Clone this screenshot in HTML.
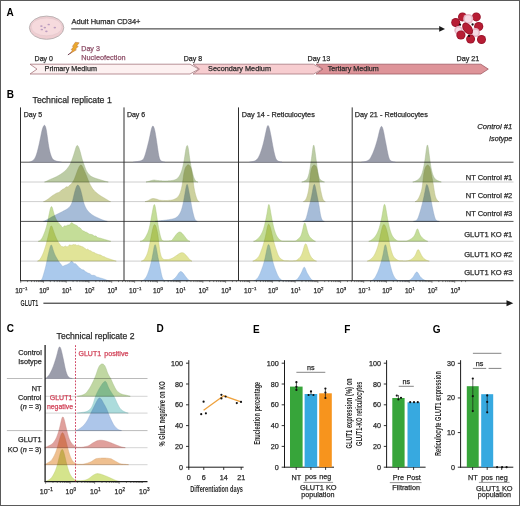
<!DOCTYPE html><html><head><meta charset="utf-8"><style>html,body{margin:0;padding:0;background:#fff;width:520px;height:506px;overflow:hidden;}svg{display:block;}text{font-family:"Liberation Sans", sans-serif;}</style></head><body>
<svg width="520" height="506" viewBox="0 0 520 506">
<rect x="0" y="0" width="520" height="506" fill="#fff"/>
<text x="6.5" y="15.6" font-size="10" font-weight="bold" fill="#000">A</text>
<ellipse cx="46.6" cy="27.7" rx="17.2" ry="11.6" fill="#efcdd1" stroke="#bcb4b5" stroke-width="1.0"/>
<ellipse cx="46.6" cy="26.9" rx="15.4" ry="8.9" fill="#f6dadd" stroke="#dcc3c6" stroke-width="0.45"/>
<ellipse cx="41.4" cy="26.1" rx="1.25" ry="0.85" fill="#bb9cc0"/>
<ellipse cx="48.7" cy="24.5" rx="1.25" ry="0.85" fill="#bb9cc0"/>
<ellipse cx="44.8" cy="27.6" rx="1.25" ry="0.85" fill="#bb9cc0"/>
<ellipse cx="41.8" cy="29.5" rx="1.25" ry="0.85" fill="#bb9cc0"/>
<ellipse cx="46.4" cy="31.3" rx="1.25" ry="0.85" fill="#bb9cc0"/>
<ellipse cx="54.8" cy="27.6" rx="1.25" ry="0.85" fill="#bb9cc0"/>
<text x="71.5" y="24.4" font-size="7.5" fill="#2a2a2a" stroke="#2a2a2a" stroke-width="0.25">Adult Human CD34+</text>
<line x1="71.2" y1="28.9" x2="440" y2="28.9" stroke="#2a2a2a" stroke-width="1"/>
<path d="M439.2,26.1 L445,28.9 L439.2,31.7 Z" fill="#1a1a1a"/>
<circle cx="455.7" cy="22.5" r="4.5" fill="#98122a"/>
<circle cx="455.7" cy="22.5" r="3.60" fill="#b71d34"/>
<circle cx="462.5" cy="16.9" r="4.5" fill="#98122a"/>
<circle cx="462.5" cy="16.9" r="3.60" fill="#b71d34"/>
<circle cx="476.3" cy="16.9" r="4.5" fill="#98122a"/>
<circle cx="476.3" cy="16.9" r="3.60" fill="#b71d34"/>
<circle cx="468.2" cy="18.9" r="5.0" fill="#e8b6c6"/>
<circle cx="468.2" cy="18.9" r="3.40" fill="#f5d9e3"/>
<circle cx="478.7" cy="26.6" r="4.6" fill="#98122a"/>
<circle cx="478.7" cy="26.6" r="3.70" fill="#b71d34"/>
<circle cx="458.5" cy="30.2" r="4.2" fill="#e8b6c6"/>
<circle cx="458.5" cy="30.2" r="2.60" fill="#f5d9e3"/>
<circle cx="475.5" cy="32.6" r="4.5" fill="#e8b6c6"/>
<circle cx="475.5" cy="32.6" r="2.90" fill="#f5d9e3"/>
<ellipse cx="467.6" cy="28.6" rx="6.8" ry="4.4" transform="rotate(52 467.6 28.6)" fill="#98122a"/>
<ellipse cx="467.6" cy="28.6" rx="5.8" ry="3.5" transform="rotate(52 467.6 28.6)" fill="#b71d34"/>
<circle cx="460.9" cy="35.0" r="4.6" fill="#98122a"/>
<circle cx="460.9" cy="35.0" r="3.70" fill="#b71d34"/>
<circle cx="470.6" cy="39.1" r="4.5" fill="#98122a"/>
<circle cx="470.6" cy="39.1" r="3.60" fill="#b71d34"/>
<circle cx="481.5" cy="39.5" r="4.5" fill="#98122a"/>
<circle cx="481.5" cy="39.5" r="3.60" fill="#b71d34"/>
<circle cx="460" cy="24.7" r="1.15" fill="#1a0a10"/>
<circle cx="472.6" cy="24.5" r="1.15" fill="#1a0a10"/>
<circle cx="469" cy="35.9" r="1.15" fill="#1a0a10"/>
<text x="34.6" y="60.8" font-size="7" fill="#2a2a2a" stroke="#2a2a2a" stroke-width="0.25">Day 0</text>
<text x="183.8" y="60.8" font-size="7" fill="#2a2a2a" stroke="#2a2a2a" stroke-width="0.25">Day 8</text>
<text x="307.6" y="60.8" font-size="7.2" fill="#2a2a2a" stroke="#2a2a2a" stroke-width="0.25">Day 13</text>
<text x="456.5" y="60.8" font-size="7.2" fill="#2a2a2a" stroke="#2a2a2a" stroke-width="0.25">Day 21</text>
<line x1="71.8" y1="52.2" x2="67.9" y2="54.9" stroke="#6e3f50" stroke-width="1"/>
<path d="M75.4,42.2 L79.2,42.8 L76.6,46.0 L78.2,46.4 L75.0,49.6 L76.4,49.8 L70.4,53.4 L72.6,50.0 L71.2,49.6 L73.6,46.8 L72.4,46.4 Z" fill="#eaa82c" stroke="#b8652e" stroke-width="0.45"/>
<text x="81.3" y="51.2" font-size="7.1" fill="#8e4f68" stroke="#8e4f68" stroke-width="0.25">Day 3</text>
<text x="81.3" y="59.6" font-size="7.3" fill="#8e4f68" stroke="#8e4f68" stroke-width="0.25">Nucleofection</text>
<path d="M30,64.2 L190,64.2 L198.8,69.1 L190,74.0 L30,74.0 L37,69.1 Z" fill="#fdf1f1" stroke="#a7777d" stroke-width="0.8"/>
<path d="M193,64.2 L313.5,64.2 L322.3,69.1 L313.5,74.0 L193,74.0 L199.5,69.1 Z" fill="#f7cdd0" stroke="#a7777d" stroke-width="0.8"/>
<path d="M316,64.2 L480.8,64.2 L488.3,69.1 L480.8,74.0 L316,74.0 L323,69.1 Z" fill="#de9499" stroke="#a05a63" stroke-width="0.8"/>
<text x="44.6" y="71.4" font-size="7.2" fill="#2a2a2a" stroke="#2a2a2a" stroke-width="0.25">Primary Medium</text>
<text x="208.1" y="71.4" font-size="7.3" fill="#2a2a2a" stroke="#2a2a2a" stroke-width="0.25">Secondary Medium</text>
<text x="327.7" y="71.4" font-size="7.2" fill="#2a2a2a" stroke="#2a2a2a" stroke-width="0.25">Tertiary Medium</text>
<text x="6.7" y="97.8" font-size="10" font-weight="bold" fill="#000">B</text>
<text x="32.5" y="102.5" font-size="8.75" fill="#2a2a2a" stroke="#2a2a2a" stroke-width="0.25">Technical replicate 1</text>
<line x1="20.5" y1="162.2" x2="513.5" y2="162.2" stroke="#4a4a4a" stroke-width="0.95"/>
<line x1="20.5" y1="182.0" x2="513.5" y2="182.0" stroke="#c2c2c2" stroke-width="0.8"/>
<line x1="20.5" y1="201.6" x2="513.5" y2="201.6" stroke="#c2c2c2" stroke-width="0.8"/>
<line x1="20.5" y1="221.4" x2="513.5" y2="221.4" stroke="#4a4a4a" stroke-width="0.95"/>
<line x1="20.5" y1="241.3" x2="513.5" y2="241.3" stroke="#c2c2c2" stroke-width="0.8"/>
<line x1="20.5" y1="261.1" x2="513.5" y2="261.1" stroke="#c2c2c2" stroke-width="0.8"/>
<path d="M29.50,162.20 L29.50,162.17 L29.75,162.13 L30.00,162.08 L30.25,162.00 L30.50,161.90 L30.75,161.78 L31.00,161.65 L31.25,161.51 L31.50,161.36 L31.75,161.22 L32.00,161.06 L32.25,160.91 L32.50,160.74 L32.75,160.57 L33.00,160.39 L33.25,160.19 L33.50,159.98 L33.75,159.74 L34.00,159.47 L34.25,159.17 L34.50,158.82 L34.75,158.42 L35.00,157.98 L35.25,157.49 L35.50,156.96 L35.75,156.38 L36.00,155.76 L36.25,155.09 L36.50,154.38 L36.75,153.62 L37.00,152.80 L37.25,151.93 L37.50,151.02 L37.75,150.07 L38.00,149.08 L38.25,148.06 L38.50,147.02 L38.75,145.94 L39.00,144.84 L39.25,143.71 L39.50,142.55 L39.75,141.36 L40.00,140.15 L40.25,138.91 L40.50,137.66 L40.75,136.39 L41.00,135.13 L41.25,133.88 L41.50,132.69 L41.75,131.57 L42.00,130.54 L42.25,129.60 L42.50,128.77 L42.75,128.02 L43.00,127.36 L43.25,126.77 L43.50,126.27 L43.75,125.86 L44.00,125.56 L44.25,125.37 L44.50,125.32 L44.75,125.43 L45.00,125.71 L45.25,126.16 L45.50,126.78 L45.75,127.59 L46.00,128.57 L46.25,129.76 L46.50,131.14 L46.75,132.71 L47.00,134.43 L47.25,136.25 L47.50,138.12 L47.75,139.97 L48.00,141.77 L48.25,143.47 L48.50,145.07 L48.75,146.54 L49.00,147.89 L49.25,149.13 L49.50,150.28 L49.75,151.33 L50.00,152.30 L50.25,153.20 L50.50,154.03 L50.75,154.80 L51.00,155.52 L51.25,156.18 L51.50,156.79 L51.75,157.36 L52.00,157.87 L52.25,158.32 L52.50,158.71 L52.75,159.04 L53.00,159.31 L53.25,159.54 L53.50,159.74 L53.75,159.91 L54.00,160.06 L54.25,160.20 L54.50,160.34 L54.75,160.46 L55.00,160.57 L55.25,160.68 L55.50,160.78 L55.75,160.87 L56.00,160.95 L56.25,161.04 L56.50,161.11 L56.75,161.19 L57.00,161.26 L57.25,161.32 L57.50,161.39 L57.75,161.45 L58.00,161.51 L58.25,161.57 L58.50,161.63 L58.75,161.69 L59.00,161.74 L59.25,161.79 L59.50,161.84 L59.75,161.89 L60.00,161.94 L60.25,161.98 L60.50,162.02 L60.75,162.06 L61.00,162.09 L61.25,162.12 L61.50,162.15 L61.50,162.20 Z" fill="#9b9eab" stroke="#85879a" stroke-width="0.45"/>
<path d="M44.50,182.00 L44.50,181.97 L44.75,181.93 L45.00,181.88 L45.25,181.80 L45.50,181.71 L45.75,181.59 L46.00,181.47 L46.25,181.35 L46.50,181.22 L46.75,181.09 L47.00,180.97 L47.25,180.84 L47.50,180.71 L47.75,180.59 L48.00,180.46 L48.25,180.34 L48.50,180.22 L48.75,180.10 L49.00,179.98 L49.25,179.86 L49.50,179.74 L49.75,179.63 L50.00,179.51 L50.25,179.40 L50.50,179.29 L50.75,179.18 L51.00,179.07 L51.25,178.96 L51.50,178.86 L51.75,178.75 L52.00,178.65 L52.25,178.54 L52.50,178.44 L52.75,178.33 L53.00,178.23 L53.25,178.12 L53.50,178.01 L53.75,177.91 L54.00,177.80 L54.25,177.69 L54.50,177.58 L54.75,177.47 L55.00,177.35 L55.25,177.24 L55.50,177.12 L55.75,177.00 L56.00,176.88 L56.25,176.76 L56.50,176.63 L56.75,176.51 L57.00,176.38 L57.25,176.24 L57.50,176.11 L57.75,175.97 L58.00,175.83 L58.25,175.69 L58.50,175.55 L58.75,175.41 L59.00,175.27 L59.25,175.12 L59.50,174.97 L59.75,174.82 L60.00,174.67 L60.25,174.51 L60.50,174.36 L60.75,174.20 L61.00,174.04 L61.25,173.87 L61.50,173.70 L61.75,173.53 L62.00,173.36 L62.25,173.18 L62.50,173.00 L62.75,172.81 L63.00,172.62 L63.25,172.43 L63.50,172.23 L63.75,172.03 L64.00,171.82 L64.25,171.61 L64.50,171.39 L64.75,171.17 L65.00,170.94 L65.25,170.71 L65.50,170.47 L65.75,170.22 L66.00,169.96 L66.25,169.70 L66.50,169.43 L66.75,169.15 L67.00,168.86 L67.25,168.56 L67.50,168.25 L67.75,167.93 L68.00,167.59 L68.25,167.25 L68.50,166.90 L68.75,166.53 L69.00,166.16 L69.25,165.76 L69.50,165.36 L69.75,164.93 L70.00,164.47 L70.25,163.99 L70.50,163.48 L70.75,162.93 L71.00,162.36 L71.25,161.75 L71.50,161.12 L71.75,160.46 L72.00,159.80 L72.25,159.12 L72.50,158.42 L72.75,157.72 L73.00,157.00 L73.25,156.27 L73.50,155.53 L73.75,154.76 L74.00,153.98 L74.25,153.18 L74.50,152.36 L74.75,151.51 L75.00,150.64 L75.25,149.77 L75.50,148.92 L75.75,148.11 L76.00,147.38 L76.25,146.74 L76.50,146.22 L76.75,145.84 L77.00,145.60 L77.25,145.50 L77.50,145.56 L77.75,145.74 L78.00,146.04 L78.25,146.43 L78.50,146.92 L78.75,147.48 L79.00,148.11 L79.25,148.81 L79.50,149.57 L79.75,150.37 L80.00,151.22 L80.25,152.11 L80.50,153.04 L80.75,154.00 L81.00,154.98 L81.25,155.95 L81.50,156.90 L81.75,157.82 L82.00,158.69 L82.25,159.52 L82.50,160.30 L82.75,161.05 L83.00,161.78 L83.25,162.49 L83.50,163.19 L83.75,163.89 L84.00,164.59 L84.25,165.29 L84.50,166.00 L84.75,166.70 L85.00,167.39 L85.25,168.07 L85.50,168.72 L85.75,169.34 L86.00,169.91 L86.25,170.44 L86.50,170.93 L86.75,171.38 L87.00,171.79 L87.25,172.19 L87.50,172.56 L87.75,172.91 L88.00,173.25 L88.25,173.58 L88.50,173.89 L88.75,174.18 L89.00,174.47 L89.25,174.73 L89.50,174.99 L89.75,175.22 L90.00,175.45 L90.25,175.65 L90.50,175.85 L90.75,176.02 L91.00,176.19 L91.25,176.35 L91.50,176.50 L91.75,176.64 L92.00,176.77 L92.25,176.90 L92.50,177.03 L92.75,177.15 L93.00,177.27 L93.25,177.38 L93.50,177.50 L93.75,177.60 L94.00,177.71 L94.25,177.81 L94.50,177.91 L94.75,178.00 L95.00,178.09 L95.25,178.18 L95.50,178.27 L95.75,178.36 L96.00,178.44 L96.25,178.52 L96.50,178.60 L96.75,178.68 L97.00,178.76 L97.25,178.84 L97.50,178.92 L97.75,178.99 L98.00,179.06 L98.25,179.14 L98.50,179.21 L98.75,179.29 L99.00,179.36 L99.25,179.44 L99.50,179.51 L99.75,179.59 L100.00,179.66 L100.25,179.74 L100.50,179.82 L100.75,179.89 L101.00,179.97 L101.25,180.05 L101.50,180.13 L101.75,180.21 L102.00,180.29 L102.25,180.37 L102.50,180.45 L102.75,180.52 L103.00,180.60 L103.25,180.68 L103.50,180.75 L103.75,180.83 L104.00,180.90 L104.25,180.97 L104.50,181.05 L104.75,181.12 L105.00,181.19 L105.25,181.26 L105.50,181.33 L105.75,181.40 L106.00,181.47 L106.25,181.54 L106.50,181.60 L106.75,181.67 L107.00,181.74 L107.25,181.80 L107.50,181.85 L107.75,181.90 L108.00,181.94 L108.25,181.97 L108.25,182.00 Z" fill="#bccca5" stroke="#9fb288" stroke-width="0.45" style="mix-blend-mode:multiply"/>
<path d="M43.50,201.60 L43.50,201.56 L43.75,201.52 L44.00,201.46 L44.25,201.38 L44.50,201.27 L44.75,201.15 L45.00,201.01 L45.25,200.87 L45.50,200.72 L45.75,200.57 L46.00,200.41 L46.25,200.26 L46.50,200.10 L46.75,199.94 L47.00,199.77 L47.25,199.61 L47.50,199.44 L47.75,199.27 L48.00,199.09 L48.25,198.91 L48.50,198.73 L48.75,198.54 L49.00,198.35 L49.25,198.15 L49.50,197.96 L49.75,197.76 L50.00,197.56 L50.25,197.36 L50.50,197.16 L50.75,196.96 L51.00,196.76 L51.25,196.57 L51.50,196.37 L51.75,196.18 L52.00,196.00 L52.25,195.81 L52.50,195.63 L52.75,195.46 L53.00,195.29 L53.25,195.13 L53.50,194.97 L53.75,194.82 L54.00,194.67 L54.25,194.53 L54.50,194.39 L54.75,194.26 L55.00,194.11 L55.25,193.96 L55.50,193.79 L55.75,193.62 L56.00,193.45 L56.25,193.30 L56.50,193.18 L56.75,193.07 L57.00,192.97 L57.25,192.88 L57.50,192.80 L57.75,192.72 L58.00,192.65 L58.25,192.57 L58.50,192.49 L58.75,192.40 L59.00,192.29 L59.25,192.16 L59.50,192.00 L59.75,191.81 L60.00,191.59 L60.25,191.36 L60.50,191.11 L60.75,190.86 L61.00,190.61 L61.25,190.36 L61.50,190.12 L61.75,189.89 L62.00,189.68 L62.25,189.51 L62.50,189.36 L62.75,189.25 L63.00,189.15 L63.25,189.05 L63.50,188.94 L63.75,188.81 L64.00,188.67 L64.25,188.51 L64.50,188.33 L64.75,188.13 L65.00,187.91 L65.25,187.67 L65.50,187.43 L65.75,187.21 L66.00,187.02 L66.25,186.88 L66.50,186.80 L66.75,186.77 L67.00,186.80 L67.25,186.86 L67.50,186.91 L67.75,186.92 L68.00,186.87 L68.25,186.74 L68.50,186.53 L68.75,186.25 L69.00,185.93 L69.25,185.61 L69.50,185.32 L69.75,185.08 L70.00,184.90 L70.25,184.75 L70.50,184.60 L70.75,184.42 L71.00,184.20 L71.25,183.92 L71.50,183.61 L71.75,183.27 L72.00,182.92 L72.25,182.58 L72.50,182.23 L72.75,181.89 L73.00,181.53 L73.25,181.15 L73.50,180.75 L73.75,180.31 L74.00,179.83 L74.25,179.30 L74.50,178.72 L74.75,178.09 L75.00,177.44 L75.25,176.77 L75.50,176.10 L75.75,175.42 L76.00,174.74 L76.25,174.05 L76.50,173.35 L76.75,172.65 L77.00,171.96 L77.25,171.27 L77.50,170.61 L77.75,169.96 L78.00,169.34 L78.25,168.74 L78.50,168.16 L78.75,167.61 L79.00,167.09 L79.25,166.62 L79.50,166.20 L79.75,165.84 L80.00,165.53 L80.25,165.28 L80.50,165.11 L80.75,165.02 L81.00,165.01 L81.25,165.10 L81.50,165.27 L81.75,165.52 L82.00,165.84 L82.25,166.22 L82.50,166.66 L82.75,167.15 L83.00,167.69 L83.25,168.25 L83.50,168.83 L83.75,169.41 L84.00,170.00 L84.25,170.58 L84.50,171.16 L84.75,171.73 L85.00,172.31 L85.25,172.88 L85.50,173.46 L85.75,174.05 L86.00,174.65 L86.25,175.25 L86.50,175.87 L86.75,176.49 L87.00,177.13 L87.25,177.78 L87.50,178.43 L87.75,179.08 L88.00,179.73 L88.25,180.36 L88.50,180.97 L88.75,181.56 L89.00,182.13 L89.25,182.68 L89.50,183.21 L89.75,183.72 L90.00,184.22 L90.25,184.70 L90.50,185.17 L90.75,185.64 L91.00,186.09 L91.25,186.53 L91.50,186.95 L91.75,187.36 L92.00,187.76 L92.25,188.14 L92.50,188.50 L92.75,188.85 L93.00,189.18 L93.25,189.50 L93.50,189.80 L93.75,190.09 L94.00,190.37 L94.25,190.64 L94.50,190.90 L94.75,191.16 L95.00,191.40 L95.25,191.65 L95.50,191.88 L95.75,192.11 L96.00,192.33 L96.25,192.55 L96.50,192.76 L96.75,192.97 L97.00,193.18 L97.25,193.38 L97.50,193.57 L97.75,193.77 L98.00,193.96 L98.25,194.15 L98.50,194.34 L98.75,194.52 L99.00,194.71 L99.25,194.89 L99.50,195.07 L99.75,195.25 L100.00,195.42 L100.25,195.59 L100.50,195.76 L100.75,195.93 L101.00,196.09 L101.25,196.25 L101.50,196.41 L101.75,196.57 L102.00,196.72 L102.25,196.87 L102.50,197.02 L102.75,197.17 L103.00,197.32 L103.25,197.46 L103.50,197.61 L103.75,197.75 L104.00,197.90 L104.25,198.04 L104.50,198.19 L104.75,198.34 L105.00,198.48 L105.25,198.63 L105.50,198.78 L105.75,198.93 L106.00,199.08 L106.25,199.23 L106.50,199.38 L106.75,199.54 L107.00,199.70 L107.25,199.85 L107.50,200.01 L107.75,200.17 L108.00,200.33 L108.25,200.48 L108.50,200.64 L108.75,200.80 L109.00,200.95 L109.25,201.10 L109.50,201.24 L109.75,201.36 L110.00,201.45 L110.25,201.52 L110.50,201.56 L110.50,201.60 Z" fill="#cdd19e" stroke="#b3b884" stroke-width="0.45" style="mix-blend-mode:multiply"/>
<path d="M43.50,221.40 L43.50,221.36 L43.75,221.33 L44.00,221.27 L44.25,221.19 L44.50,221.09 L44.75,220.97 L45.00,220.84 L45.25,220.70 L45.50,220.56 L45.75,220.42 L46.00,220.28 L46.25,220.14 L46.50,220.00 L46.75,219.86 L47.00,219.72 L47.25,219.58 L47.50,219.43 L47.75,219.29 L48.00,219.15 L48.25,219.00 L48.50,218.85 L48.75,218.71 L49.00,218.56 L49.25,218.41 L49.50,218.27 L49.75,218.12 L50.00,217.97 L50.25,217.82 L50.50,217.68 L50.75,217.53 L51.00,217.39 L51.25,217.24 L51.50,217.10 L51.75,216.96 L52.00,216.82 L52.25,216.69 L52.50,216.55 L52.75,216.42 L53.00,216.29 L53.25,216.16 L53.50,216.03 L53.75,215.90 L54.00,215.78 L54.25,215.65 L54.50,215.53 L54.75,215.41 L55.00,215.28 L55.25,215.16 L55.50,215.04 L55.75,214.92 L56.00,214.80 L56.25,214.68 L56.50,214.55 L56.75,214.43 L57.00,214.31 L57.25,214.19 L57.50,214.06 L57.75,213.94 L58.00,213.81 L58.25,213.69 L58.50,213.56 L58.75,213.44 L59.00,213.32 L59.25,213.19 L59.50,213.07 L59.75,212.94 L60.00,212.82 L60.25,212.69 L60.50,212.57 L60.75,212.44 L61.00,212.31 L61.25,212.19 L61.50,212.06 L61.75,211.93 L62.00,211.80 L62.25,211.66 L62.50,211.53 L62.75,211.40 L63.00,211.26 L63.25,211.12 L63.50,210.99 L63.75,210.85 L64.00,210.71 L64.25,210.58 L64.50,210.45 L64.75,210.31 L65.00,210.18 L65.25,210.05 L65.50,209.91 L65.75,209.78 L66.00,209.64 L66.25,209.50 L66.50,209.35 L66.75,209.20 L67.00,209.05 L67.25,208.88 L67.50,208.71 L67.75,208.54 L68.00,208.35 L68.25,208.15 L68.50,207.95 L68.75,207.73 L69.00,207.49 L69.25,207.24 L69.50,206.96 L69.75,206.67 L70.00,206.35 L70.25,206.00 L70.50,205.63 L70.75,205.22 L71.00,204.78 L71.25,204.31 L71.50,203.79 L71.75,203.22 L72.00,202.58 L72.25,201.86 L72.50,201.06 L72.75,200.17 L73.00,199.20 L73.25,198.19 L73.50,197.14 L73.75,196.09 L74.00,195.04 L74.25,194.01 L74.50,192.99 L74.75,192.01 L75.00,191.07 L75.25,190.17 L75.50,189.32 L75.75,188.52 L76.00,187.78 L76.25,187.10 L76.50,186.51 L76.75,186.00 L77.00,185.58 L77.25,185.27 L77.50,185.08 L77.75,185.00 L78.00,185.04 L78.25,185.19 L78.50,185.43 L78.75,185.75 L79.00,186.14 L79.25,186.59 L79.50,187.11 L79.75,187.68 L80.00,188.31 L80.25,188.99 L80.50,189.74 L80.75,190.56 L81.00,191.43 L81.25,192.38 L81.50,193.38 L81.75,194.43 L82.00,195.52 L82.25,196.63 L82.50,197.76 L82.75,198.88 L83.00,199.97 L83.25,200.99 L83.50,201.94 L83.75,202.81 L84.00,203.60 L84.25,204.32 L84.50,204.99 L84.75,205.62 L85.00,206.21 L85.25,206.76 L85.50,207.28 L85.75,207.77 L86.00,208.23 L86.25,208.66 L86.50,209.06 L86.75,209.44 L87.00,209.79 L87.25,210.13 L87.50,210.46 L87.75,210.77 L88.00,211.07 L88.25,211.36 L88.50,211.63 L88.75,211.90 L89.00,212.16 L89.25,212.41 L89.50,212.66 L89.75,212.89 L90.00,213.12 L90.25,213.34 L90.50,213.55 L90.75,213.76 L91.00,213.96 L91.25,214.15 L91.50,214.34 L91.75,214.53 L92.00,214.71 L92.25,214.88 L92.50,215.05 L92.75,215.22 L93.00,215.38 L93.25,215.54 L93.50,215.69 L93.75,215.84 L94.00,215.99 L94.25,216.13 L94.50,216.27 L94.75,216.41 L95.00,216.54 L95.25,216.67 L95.50,216.80 L95.75,216.92 L96.00,217.05 L96.25,217.17 L96.50,217.28 L96.75,217.40 L97.00,217.52 L97.25,217.63 L97.50,217.74 L97.75,217.86 L98.00,217.97 L98.25,218.08 L98.50,218.19 L98.75,218.30 L99.00,218.41 L99.25,218.52 L99.50,218.63 L99.75,218.73 L100.00,218.84 L100.25,218.95 L100.50,219.06 L100.75,219.16 L101.00,219.27 L101.25,219.37 L101.50,219.48 L101.75,219.58 L102.00,219.68 L102.25,219.78 L102.50,219.88 L102.75,219.97 L103.00,220.07 L103.25,220.16 L103.50,220.26 L103.75,220.35 L104.00,220.44 L104.25,220.53 L104.50,220.62 L104.75,220.70 L105.00,220.79 L105.25,220.87 L105.50,220.95 L105.75,221.03 L106.00,221.10 L106.25,221.17 L106.50,221.24 L106.75,221.29 L107.00,221.33 L107.25,221.36 L107.25,221.40 Z" fill="#a6bcd8" stroke="#8ea3c0" stroke-width="0.45" style="mix-blend-mode:multiply"/>
<path d="M38.25,241.30 L38.25,241.24 L38.50,241.20 L38.75,241.15 L39.00,241.08 L39.25,240.99 L39.50,240.87 L39.75,240.74 L40.00,240.57 L40.25,240.38 L40.50,240.15 L40.75,239.90 L41.00,239.62 L41.25,239.32 L41.50,238.98 L41.75,238.62 L42.00,238.21 L42.25,237.77 L42.50,237.29 L42.75,236.78 L43.00,236.24 L43.25,235.68 L43.50,235.09 L43.75,234.50 L44.00,233.88 L44.25,233.25 L44.50,232.61 L44.75,231.94 L45.00,231.24 L45.25,230.53 L45.50,229.78 L45.75,228.99 L46.00,228.17 L46.25,227.31 L46.50,226.39 L46.75,225.43 L47.00,224.41 L47.25,223.35 L47.50,222.23 L47.75,221.08 L48.00,219.88 L48.25,218.65 L48.50,217.39 L48.75,216.12 L49.00,214.85 L49.25,213.60 L49.50,212.39 L49.75,211.23 L50.00,210.14 L50.25,209.15 L50.50,208.29 L50.75,207.57 L51.00,207.04 L51.25,206.71 L51.50,206.60 L51.75,206.72 L52.00,207.07 L52.25,207.63 L52.50,208.36 L52.75,209.23 L53.00,210.17 L53.25,211.15 L53.50,212.10 L53.75,213.01 L54.00,213.85 L54.25,214.64 L54.50,215.37 L54.75,216.05 L55.00,216.69 L55.25,217.29 L55.50,217.86 L55.75,218.40 L56.00,218.90 L56.25,219.38 L56.50,219.84 L56.75,220.27 L57.00,220.69 L57.25,221.08 L57.50,221.46 L57.75,221.83 L58.00,222.17 L58.25,222.51 L58.50,222.82 L58.75,223.13 L59.00,223.41 L59.25,223.68 L59.50,223.94 L59.75,224.18 L60.00,224.42 L60.25,224.67 L60.50,224.96 L60.75,225.28 L61.00,225.62 L61.25,225.97 L61.50,226.32 L61.75,226.66 L62.00,226.98 L62.25,227.26 L62.50,227.45 L62.75,227.51 L63.00,227.43 L63.25,227.20 L63.50,226.89 L63.75,226.54 L64.00,226.22 L64.25,225.98 L64.50,225.84 L64.75,225.80 L65.00,225.82 L65.25,225.88 L65.50,225.95 L65.75,226.00 L66.00,225.99 L66.25,225.92 L66.50,225.79 L66.75,225.61 L67.00,225.43 L67.25,225.29 L67.50,225.19 L67.75,225.14 L68.00,225.10 L68.25,225.08 L68.50,225.05 L68.75,225.02 L69.00,225.00 L69.25,224.97 L69.50,224.91 L69.75,224.78 L70.00,224.54 L70.25,224.21 L70.50,223.84 L70.75,223.45 L71.00,223.12 L71.25,222.86 L71.50,222.70 L71.75,222.64 L72.00,222.70 L72.25,222.85 L72.50,223.09 L72.75,223.37 L73.00,223.65 L73.25,223.91 L73.50,224.12 L73.75,224.26 L74.00,224.35 L74.25,224.40 L74.50,224.44 L74.75,224.50 L75.00,224.60 L75.25,224.76 L75.50,224.95 L75.75,225.13 L76.00,225.27 L76.25,225.36 L76.50,225.41 L76.75,225.46 L77.00,225.57 L77.25,225.76 L77.50,226.05 L77.75,226.40 L78.00,226.78 L78.25,227.10 L78.50,227.35 L78.75,227.49 L79.00,227.55 L79.25,227.57 L79.50,227.62 L79.75,227.71 L80.00,227.87 L80.25,228.08 L80.50,228.34 L80.75,228.62 L81.00,228.90 L81.25,229.19 L81.50,229.48 L81.75,229.76 L82.00,230.02 L82.25,230.26 L82.50,230.45 L82.75,230.63 L83.00,230.77 L83.25,230.89 L83.50,230.99 L83.75,231.06 L84.00,231.14 L84.25,231.24 L84.50,231.38 L84.75,231.55 L85.00,231.74 L85.25,231.91 L85.50,232.04 L85.75,232.11 L86.00,232.16 L86.25,232.20 L86.50,232.26 L86.75,232.37 L87.00,232.53 L87.25,232.73 L87.50,232.92 L87.75,233.10 L88.00,233.25 L88.25,233.38 L88.50,233.51 L88.75,233.66 L89.00,233.84 L89.25,234.02 L89.50,234.18 L89.75,234.28 L90.00,234.32 L90.25,234.33 L90.50,234.31 L90.75,234.31 L91.00,234.34 L91.25,234.40 L91.50,234.47 L91.75,234.53 L92.00,234.60 L92.25,234.67 L92.50,234.76 L92.75,234.88 L93.00,235.05 L93.25,235.25 L93.50,235.46 L93.75,235.67 L94.00,235.85 L94.25,235.98 L94.50,236.06 L94.75,236.07 L95.00,236.02 L95.25,235.95 L95.50,235.89 L95.75,235.90 L96.00,235.99 L96.25,236.19 L96.50,236.47 L96.75,236.79 L97.00,237.09 L97.25,237.34 L97.50,237.51 L97.75,237.60 L98.00,237.64 L98.25,237.66 L98.50,237.69 L98.75,237.75 L99.00,237.84 L99.25,237.95 L99.50,238.04 L99.75,238.10 L100.00,238.14 L100.25,238.17 L100.50,238.20 L100.75,238.25 L101.00,238.32 L101.25,238.39 L101.50,238.47 L101.75,238.56 L102.00,238.64 L102.25,238.72 L102.50,238.80 L102.75,238.88 L103.00,238.96 L103.25,239.03 L103.50,239.11 L103.75,239.19 L104.00,239.26 L104.25,239.34 L104.50,239.41 L104.75,239.49 L105.00,239.56 L105.25,239.64 L105.50,239.71 L105.75,239.78 L106.00,239.86 L106.25,239.93 L106.50,240.01 L106.75,240.09 L107.00,240.16 L107.25,240.24 L107.50,240.32 L107.75,240.40 L108.00,240.48 L108.25,240.56 L108.50,240.64 L108.75,240.72 L109.00,240.80 L109.25,240.88 L109.50,240.96 L109.75,241.04 L110.00,241.11 L110.25,241.17 L110.50,241.22 L110.75,241.26 L110.75,241.30 Z" fill="#c4dd98" stroke="#a6c07c" stroke-width="0.45" style="mix-blend-mode:multiply"/>
<path d="M37.50,261.10 L37.50,261.06 L37.75,261.01 L38.00,260.93 L38.25,260.82 L38.50,260.67 L38.75,260.49 L39.00,260.27 L39.25,260.03 L39.50,259.77 L39.75,259.49 L40.00,259.18 L40.25,258.85 L40.50,258.50 L40.75,258.12 L41.00,257.71 L41.25,257.28 L41.50,256.81 L41.75,256.32 L42.00,255.81 L42.25,255.27 L42.50,254.72 L42.75,254.15 L43.00,253.56 L43.25,252.95 L43.50,252.32 L43.75,251.67 L44.00,251.00 L44.25,250.30 L44.50,249.57 L44.75,248.82 L45.00,248.04 L45.25,247.24 L45.50,246.42 L45.75,245.57 L46.00,244.70 L46.25,243.80 L46.50,242.88 L46.75,241.93 L47.00,240.96 L47.25,239.96 L47.50,238.96 L47.75,237.95 L48.00,236.93 L48.25,235.90 L48.50,234.87 L48.75,233.83 L49.00,232.77 L49.25,231.70 L49.50,230.62 L49.75,229.56 L50.00,228.55 L50.25,227.64 L50.50,226.88 L50.75,226.31 L51.00,225.97 L51.25,225.85 L51.50,225.94 L51.75,226.22 L52.00,226.66 L52.25,227.23 L52.50,227.89 L52.75,228.62 L53.00,229.38 L53.25,230.16 L53.50,230.92 L53.75,231.67 L54.00,232.40 L54.25,233.11 L54.50,233.80 L54.75,234.48 L55.00,235.14 L55.25,235.78 L55.50,236.40 L55.75,237.00 L56.00,237.58 L56.25,238.14 L56.50,238.69 L56.75,239.21 L57.00,239.73 L57.25,240.22 L57.50,240.69 L57.75,241.14 L58.00,241.57 L58.25,241.99 L58.50,242.39 L58.75,242.77 L59.00,243.14 L59.25,243.51 L59.50,243.88 L59.75,244.25 L60.00,244.62 L60.25,244.98 L60.50,245.33 L60.75,245.66 L61.00,245.95 L61.25,246.19 L61.50,246.37 L61.75,246.48 L62.00,246.53 L62.25,246.56 L62.50,246.60 L62.75,246.66 L63.00,246.74 L63.25,246.83 L63.50,246.89 L63.75,246.89 L64.00,246.81 L64.25,246.65 L64.50,246.42 L64.75,246.18 L65.00,245.99 L65.25,245.91 L65.50,245.97 L65.75,246.14 L66.00,246.38 L66.25,246.60 L66.50,246.74 L66.75,246.80 L67.00,246.79 L67.25,246.74 L67.50,246.66 L67.75,246.56 L68.00,246.41 L68.25,246.19 L68.50,245.91 L68.75,245.61 L69.00,245.32 L69.25,245.09 L69.50,244.94 L69.75,244.87 L70.00,244.88 L70.25,244.95 L70.50,245.06 L70.75,245.16 L71.00,245.22 L71.25,245.23 L71.50,245.20 L71.75,245.15 L72.00,245.08 L72.25,245.01 L72.50,244.92 L72.75,244.80 L73.00,244.68 L73.25,244.59 L73.50,244.56 L73.75,244.60 L74.00,244.66 L74.25,244.71 L74.50,244.71 L74.75,244.67 L75.00,244.61 L75.25,244.59 L75.50,244.65 L75.75,244.78 L76.00,244.95 L76.25,245.13 L76.50,245.28 L76.75,245.38 L77.00,245.43 L77.25,245.42 L77.50,245.37 L77.75,245.30 L78.00,245.22 L78.25,245.17 L78.50,245.17 L78.75,245.23 L79.00,245.37 L79.25,245.55 L79.50,245.73 L79.75,245.89 L80.00,245.99 L80.25,246.04 L80.50,246.06 L80.75,246.10 L81.00,246.18 L81.25,246.30 L81.50,246.45 L81.75,246.59 L82.00,246.68 L82.25,246.73 L82.50,246.75 L82.75,246.78 L83.00,246.87 L83.25,247.04 L83.50,247.28 L83.75,247.54 L84.00,247.79 L84.25,247.99 L84.50,248.14 L84.75,248.26 L85.00,248.39 L85.25,248.55 L85.50,248.76 L85.75,249.00 L86.00,249.23 L86.25,249.42 L86.50,249.51 L86.75,249.50 L87.00,249.41 L87.25,249.29 L87.50,249.21 L87.75,249.22 L88.00,249.33 L88.25,249.54 L88.50,249.81 L88.75,250.08 L89.00,250.30 L89.25,250.44 L89.50,250.52 L89.75,250.55 L90.00,250.57 L90.25,250.63 L90.50,250.72 L90.75,250.85 L91.00,250.99 L91.25,251.15 L91.50,251.31 L91.75,251.48 L92.00,251.67 L92.25,251.86 L92.50,252.04 L92.75,252.19 L93.00,252.28 L93.25,252.32 L93.50,252.33 L93.75,252.36 L94.00,252.42 L94.25,252.53 L94.50,252.68 L94.75,252.86 L95.00,253.05 L95.25,253.22 L95.50,253.38 L95.75,253.52 L96.00,253.62 L96.25,253.70 L96.50,253.77 L96.75,253.85 L97.00,253.94 L97.25,254.04 L97.50,254.15 L97.75,254.24 L98.00,254.33 L98.25,254.42 L98.50,254.50 L98.75,254.58 L99.00,254.66 L99.25,254.72 L99.50,254.77 L99.75,254.81 L100.00,254.85 L100.25,254.90 L100.50,254.98 L100.75,255.08 L101.00,255.20 L101.25,255.34 L101.50,255.50 L101.75,255.66 L102.00,255.83 L102.25,256.00 L102.50,256.17 L102.75,256.32 L103.00,256.44 L103.25,256.53 L103.50,256.57 L103.75,256.60 L104.00,256.62 L104.25,256.67 L104.50,256.76 L104.75,256.91 L105.00,257.08 L105.25,257.26 L105.50,257.42 L105.75,257.56 L106.00,257.68 L106.25,257.78 L106.50,257.88 L106.75,257.97 L107.00,258.07 L107.25,258.16 L107.50,258.25 L107.75,258.34 L108.00,258.43 L108.25,258.52 L108.50,258.60 L108.75,258.69 L109.00,258.78 L109.25,258.86 L109.50,258.94 L109.75,259.03 L110.00,259.11 L110.25,259.19 L110.50,259.28 L110.75,259.36 L111.00,259.44 L111.25,259.52 L111.50,259.60 L111.75,259.68 L112.00,259.76 L112.25,259.85 L112.50,259.93 L112.75,260.01 L113.00,260.09 L113.25,260.17 L113.50,260.26 L113.75,260.34 L114.00,260.42 L114.25,260.51 L114.50,260.59 L114.75,260.67 L115.00,260.76 L115.25,260.83 L115.50,260.91 L115.75,260.97 L116.00,261.02 L116.25,261.06 L116.25,261.10 Z" fill="#e1e498" stroke="#c4c87c" stroke-width="0.45" style="mix-blend-mode:multiply"/>
<path d="M39.75,280.80 L39.75,280.76 L40.00,280.72 L40.25,280.66 L40.50,280.57 L40.75,280.44 L41.00,280.27 L41.25,280.05 L41.50,279.78 L41.75,279.43 L42.00,279.01 L42.25,278.48 L42.50,277.85 L42.75,277.13 L43.00,276.34 L43.25,275.51 L43.50,274.66 L43.75,273.81 L44.00,272.96 L44.25,272.09 L44.50,271.21 L44.75,270.31 L45.00,269.38 L45.25,268.42 L45.50,267.43 L45.75,266.40 L46.00,265.34 L46.25,264.23 L46.50,263.09 L46.75,261.91 L47.00,260.68 L47.25,259.43 L47.50,258.17 L47.75,256.92 L48.00,255.71 L48.25,254.55 L48.50,253.44 L48.75,252.39 L49.00,251.38 L49.25,250.39 L49.50,249.41 L49.75,248.45 L50.00,247.53 L50.25,246.68 L50.50,245.96 L50.75,245.41 L51.00,245.09 L51.25,245.01 L51.50,245.19 L51.75,245.62 L52.00,246.23 L52.25,246.99 L52.50,247.82 L52.75,248.68 L53.00,249.52 L53.25,250.32 L53.50,251.08 L53.75,251.80 L54.00,252.48 L54.25,253.13 L54.50,253.75 L54.75,254.34 L55.00,254.89 L55.25,255.42 L55.50,255.92 L55.75,256.40 L56.00,256.87 L56.25,257.32 L56.50,257.75 L56.75,258.19 L57.00,258.61 L57.25,259.04 L57.50,259.46 L57.75,259.88 L58.00,260.30 L58.25,260.71 L58.50,261.11 L58.75,261.51 L59.00,261.88 L59.25,262.24 L59.50,262.59 L59.75,262.91 L60.00,263.22 L60.25,263.52 L60.50,263.81 L60.75,264.11 L61.00,264.40 L61.25,264.72 L61.50,265.06 L61.75,265.43 L62.00,265.79 L62.25,266.11 L62.50,266.32 L62.75,266.41 L63.00,266.37 L63.25,266.24 L63.50,266.07 L63.75,265.90 L64.00,265.76 L64.25,265.65 L64.50,265.55 L64.75,265.46 L65.00,265.36 L65.25,265.24 L65.50,265.13 L65.75,265.03 L66.00,264.95 L66.25,264.89 L66.50,264.83 L66.75,264.76 L67.00,264.64 L67.25,264.50 L67.50,264.33 L67.75,264.17 L68.00,264.02 L68.25,263.90 L68.50,263.81 L68.75,263.73 L69.00,263.64 L69.25,263.52 L69.50,263.34 L69.75,263.09 L70.00,262.76 L70.25,262.40 L70.50,262.05 L70.75,261.76 L71.00,261.55 L71.25,261.44 L71.50,261.41 L71.75,261.46 L72.00,261.54 L72.25,261.67 L72.50,261.83 L72.75,262.04 L73.00,262.31 L73.25,262.64 L73.50,262.99 L73.75,263.31 L74.00,263.56 L74.25,263.69 L74.50,263.71 L74.75,263.66 L75.00,263.60 L75.25,263.61 L75.50,263.70 L75.75,263.89 L76.00,264.15 L76.25,264.43 L76.50,264.70 L76.75,264.96 L77.00,265.19 L77.25,265.43 L77.50,265.69 L77.75,265.97 L78.00,266.27 L78.25,266.58 L78.50,266.87 L78.75,267.16 L79.00,267.42 L79.25,267.66 L79.50,267.88 L79.75,268.06 L80.00,268.22 L80.25,268.36 L80.50,268.50 L80.75,268.68 L81.00,268.89 L81.25,269.12 L81.50,269.34 L81.75,269.52 L82.00,269.65 L82.25,269.73 L82.50,269.77 L82.75,269.80 L83.00,269.83 L83.25,269.88 L83.50,269.97 L83.75,270.12 L84.00,270.30 L84.25,270.53 L84.50,270.76 L84.75,271.00 L85.00,271.23 L85.25,271.43 L85.50,271.62 L85.75,271.78 L86.00,271.92 L86.25,272.04 L86.50,272.17 L86.75,272.31 L87.00,272.48 L87.25,272.65 L87.50,272.83 L87.75,272.99 L88.00,273.11 L88.25,273.20 L88.50,273.25 L88.75,273.28 L89.00,273.32 L89.25,273.39 L89.50,273.49 L89.75,273.63 L90.00,273.80 L90.25,274.00 L90.50,274.22 L90.75,274.44 L91.00,274.67 L91.25,274.88 L91.50,275.06 L91.75,275.19 L92.00,275.27 L92.25,275.30 L92.50,275.30 L92.75,275.29 L93.00,275.28 L93.25,275.28 L93.50,275.30 L93.75,275.33 L94.00,275.37 L94.25,275.41 L94.50,275.47 L94.75,275.54 L95.00,275.66 L95.25,275.82 L95.50,276.03 L95.75,276.25 L96.00,276.47 L96.25,276.65 L96.50,276.79 L96.75,276.90 L97.00,276.98 L97.25,277.06 L97.50,277.13 L97.75,277.18 L98.00,277.24 L98.25,277.29 L98.50,277.35 L98.75,277.43 L99.00,277.53 L99.25,277.63 L99.50,277.73 L99.75,277.82 L100.00,277.89 L100.25,277.95 L100.50,278.01 L100.75,278.07 L101.00,278.14 L101.25,278.21 L101.50,278.28 L101.75,278.36 L102.00,278.43 L102.25,278.51 L102.50,278.58 L102.75,278.66 L103.00,278.74 L103.25,278.81 L103.50,278.89 L103.75,278.98 L104.00,279.06 L104.25,279.14 L104.50,279.23 L104.75,279.32 L105.00,279.41 L105.25,279.51 L105.50,279.61 L105.75,279.72 L106.00,279.82 L106.25,279.93 L106.50,280.03 L106.75,280.13 L107.00,280.23 L107.25,280.32 L107.50,280.41 L107.75,280.49 L108.00,280.56 L108.25,280.62 L108.50,280.67 L108.75,280.72 L109.00,280.75 L109.00,280.80 Z" fill="#aac9ec" stroke="#8eaed2" stroke-width="0.45" style="mix-blend-mode:multiply"/>
<path d="M133.25,162.20 L133.25,162.14 L133.50,162.12 L133.75,162.08 L134.00,162.05 L134.25,162.01 L134.50,161.97 L134.75,161.93 L135.00,161.89 L135.25,161.86 L135.50,161.82 L135.75,161.78 L136.00,161.74 L136.25,161.70 L136.50,161.66 L136.75,161.62 L137.00,161.58 L137.25,161.54 L137.50,161.50 L137.75,161.46 L138.00,161.41 L138.25,161.37 L138.50,161.32 L138.75,161.27 L139.00,161.21 L139.25,161.16 L139.50,161.10 L139.75,161.03 L140.00,160.97 L140.25,160.90 L140.50,160.82 L140.75,160.74 L141.00,160.65 L141.25,160.55 L141.50,160.45 L141.75,160.33 L142.00,160.20 L142.25,160.06 L142.50,159.89 L142.75,159.70 L143.00,159.47 L143.25,159.19 L143.50,158.84 L143.75,158.42 L144.00,157.92 L144.25,157.34 L144.50,156.70 L144.75,156.01 L145.00,155.28 L145.25,154.51 L145.50,153.70 L145.75,152.85 L146.00,151.97 L146.25,151.05 L146.50,150.11 L146.75,149.15 L147.00,148.19 L147.25,147.21 L147.50,146.24 L147.75,145.27 L148.00,144.29 L148.25,143.30 L148.50,142.30 L148.75,141.27 L149.00,140.22 L149.25,139.12 L149.50,137.99 L149.75,136.81 L150.00,135.60 L150.25,134.37 L150.50,133.15 L150.75,131.96 L151.00,130.82 L151.25,129.76 L151.50,128.80 L151.75,127.96 L152.00,127.24 L152.25,126.69 L152.50,126.31 L152.75,126.11 L153.00,126.11 L153.25,126.28 L153.50,126.62 L153.75,127.11 L154.00,127.73 L154.25,128.49 L154.50,129.39 L154.75,130.43 L155.00,131.62 L155.25,132.95 L155.50,134.40 L155.75,135.92 L156.00,137.50 L156.25,139.11 L156.50,140.74 L156.75,142.38 L157.00,144.05 L157.25,145.75 L157.50,147.46 L157.75,149.18 L158.00,150.87 L158.25,152.48 L158.50,153.98 L158.75,155.32 L159.00,156.50 L159.25,157.50 L159.50,158.34 L159.75,159.01 L160.00,159.55 L160.25,159.98 L160.50,160.32 L160.75,160.59 L161.00,160.82 L161.25,161.01 L161.50,161.17 L161.75,161.31 L162.00,161.44 L162.25,161.55 L162.50,161.65 L162.75,161.74 L163.00,161.82 L163.25,161.89 L163.50,161.95 L163.75,162.00 L164.00,162.05 L164.25,162.10 L164.50,162.13 L164.75,162.16 L164.75,162.20 Z" fill="#9b9eab" stroke="#85879a" stroke-width="0.45"/>
<path d="M146.00,182.00 L146.00,181.94 L146.25,181.91 L146.50,181.86 L146.75,181.81 L147.00,181.75 L147.25,181.69 L147.50,181.63 L147.75,181.56 L148.00,181.50 L148.25,181.43 L148.50,181.36 L148.75,181.30 L149.00,181.23 L149.25,181.16 L149.50,181.08 L149.75,181.01 L150.00,180.93 L150.25,180.85 L150.50,180.77 L150.75,180.70 L151.00,180.62 L151.25,180.55 L151.50,180.48 L151.75,180.42 L152.00,180.36 L152.25,180.31 L152.50,180.26 L152.75,180.21 L153.00,180.17 L153.25,180.13 L153.50,180.10 L153.75,180.09 L154.00,180.08 L154.25,180.08 L154.50,180.10 L154.75,180.12 L155.00,180.15 L155.25,180.18 L155.50,180.22 L155.75,180.26 L156.00,180.30 L156.25,180.34 L156.50,180.38 L156.75,180.41 L157.00,180.45 L157.25,180.47 L157.50,180.50 L157.75,180.52 L158.00,180.55 L158.25,180.57 L158.50,180.59 L158.75,180.62 L159.00,180.64 L159.25,180.66 L159.50,180.68 L159.75,180.71 L160.00,180.73 L160.25,180.75 L160.50,180.77 L160.75,180.79 L161.00,180.80 L161.25,180.82 L161.50,180.84 L161.75,180.85 L162.00,180.87 L162.25,180.88 L162.50,180.90 L162.75,180.91 L163.00,180.92 L163.25,180.93 L163.50,180.94 L163.75,180.95 L164.00,180.95 L164.25,180.96 L164.50,180.96 L164.75,180.97 L165.00,180.97 L165.25,180.97 L165.50,180.96 L165.75,180.96 L166.00,180.95 L166.25,180.95 L166.50,180.94 L166.75,180.93 L167.00,180.92 L167.25,180.91 L167.50,180.89 L167.75,180.88 L168.00,180.86 L168.25,180.85 L168.50,180.83 L168.75,180.81 L169.00,180.79 L169.25,180.77 L169.50,180.75 L169.75,180.73 L170.00,180.71 L170.25,180.68 L170.50,180.66 L170.75,180.63 L171.00,180.61 L171.25,180.58 L171.50,180.55 L171.75,180.52 L172.00,180.49 L172.25,180.45 L172.50,180.41 L172.75,180.37 L173.00,180.32 L173.25,180.26 L173.50,180.21 L173.75,180.15 L174.00,180.08 L174.25,180.01 L174.50,179.94 L174.75,179.86 L175.00,179.77 L175.25,179.68 L175.50,179.58 L175.75,179.47 L176.00,179.35 L176.25,179.21 L176.50,179.05 L176.75,178.88 L177.00,178.69 L177.25,178.48 L177.50,178.25 L177.75,178.01 L178.00,177.75 L178.25,177.48 L178.50,177.18 L178.75,176.87 L179.00,176.52 L179.25,176.15 L179.50,175.74 L179.75,175.29 L180.00,174.81 L180.25,174.29 L180.50,173.73 L180.75,173.14 L181.00,172.52 L181.25,171.86 L181.50,171.17 L181.75,170.43 L182.00,169.64 L182.25,168.80 L182.50,167.90 L182.75,166.94 L183.00,165.91 L183.25,164.82 L183.50,163.66 L183.75,162.41 L184.00,161.07 L184.25,159.63 L184.50,158.09 L184.75,156.46 L185.00,154.77 L185.25,153.08 L185.50,151.46 L185.75,149.97 L186.00,148.65 L186.25,147.54 L186.50,146.65 L186.75,146.00 L187.00,145.61 L187.25,145.51 L187.50,145.73 L187.75,146.28 L188.00,147.15 L188.25,148.35 L188.50,149.84 L188.75,151.57 L189.00,153.45 L189.25,155.38 L189.50,157.27 L189.75,159.05 L190.00,160.69 L190.25,162.20 L190.50,163.60 L190.75,164.93 L191.00,166.19 L191.25,167.40 L191.50,168.57 L191.75,169.70 L192.00,170.81 L192.25,171.88 L192.50,172.92 L192.75,173.91 L193.00,174.85 L193.25,175.72 L193.50,176.52 L193.75,177.26 L194.00,177.92 L194.25,178.53 L194.50,179.07 L194.75,179.55 L195.00,179.98 L195.25,180.34 L195.50,180.66 L195.75,180.93 L196.00,181.16 L196.25,181.36 L196.50,181.52 L196.75,181.65 L197.00,181.76 L197.25,181.84 L197.50,181.90 L197.75,181.94 L198.00,181.97 L198.00,182.00 Z" fill="#bccca5" stroke="#9fb288" stroke-width="0.45" style="mix-blend-mode:multiply"/>
<path d="M145.00,201.60 L145.00,201.55 L145.25,201.52 L145.50,201.47 L145.75,201.42 L146.00,201.35 L146.25,201.28 L146.50,201.21 L146.75,201.13 L147.00,201.04 L147.25,200.95 L147.50,200.86 L147.75,200.76 L148.00,200.65 L148.25,200.54 L148.50,200.42 L148.75,200.28 L149.00,200.14 L149.25,199.99 L149.50,199.84 L149.75,199.68 L150.00,199.53 L150.25,199.39 L150.50,199.25 L150.75,199.13 L151.00,199.02 L151.25,198.91 L151.50,198.82 L151.75,198.74 L152.00,198.67 L152.25,198.61 L152.50,198.57 L152.75,198.54 L153.00,198.52 L153.25,198.52 L153.50,198.53 L153.75,198.55 L154.00,198.58 L154.25,198.61 L154.50,198.65 L154.75,198.69 L155.00,198.74 L155.25,198.79 L155.50,198.84 L155.75,198.90 L156.00,198.95 L156.25,199.01 L156.50,199.08 L156.75,199.15 L157.00,199.23 L157.25,199.32 L157.50,199.41 L157.75,199.51 L158.00,199.62 L158.25,199.73 L158.50,199.83 L158.75,199.93 L159.00,200.02 L159.25,200.10 L159.50,200.17 L159.75,200.22 L160.00,200.26 L160.25,200.29 L160.50,200.32 L160.75,200.33 L161.00,200.35 L161.25,200.36 L161.50,200.38 L161.75,200.39 L162.00,200.40 L162.25,200.41 L162.50,200.42 L162.75,200.43 L163.00,200.44 L163.25,200.45 L163.50,200.46 L163.75,200.46 L164.00,200.47 L164.25,200.47 L164.50,200.48 L164.75,200.48 L165.00,200.49 L165.25,200.49 L165.50,200.49 L165.75,200.49 L166.00,200.49 L166.25,200.49 L166.50,200.48 L166.75,200.48 L167.00,200.47 L167.25,200.46 L167.50,200.45 L167.75,200.44 L168.00,200.43 L168.25,200.41 L168.50,200.39 L168.75,200.37 L169.00,200.35 L169.25,200.33 L169.50,200.31 L169.75,200.29 L170.00,200.26 L170.25,200.23 L170.50,200.21 L170.75,200.18 L171.00,200.15 L171.25,200.11 L171.50,200.08 L171.75,200.04 L172.00,199.99 L172.25,199.94 L172.50,199.89 L172.75,199.82 L173.00,199.75 L173.25,199.67 L173.50,199.59 L173.75,199.50 L174.00,199.40 L174.25,199.29 L174.50,199.18 L174.75,199.07 L175.00,198.94 L175.25,198.82 L175.50,198.68 L175.75,198.54 L176.00,198.39 L176.25,198.24 L176.50,198.07 L176.75,197.90 L177.00,197.70 L177.25,197.49 L177.50,197.25 L177.75,196.99 L178.00,196.70 L178.25,196.39 L178.50,196.05 L178.75,195.69 L179.00,195.29 L179.25,194.86 L179.50,194.39 L179.75,193.87 L180.00,193.29 L180.25,192.64 L180.50,191.91 L180.75,191.10 L181.00,190.22 L181.25,189.27 L181.50,188.24 L181.75,187.12 L182.00,185.89 L182.25,184.51 L182.50,182.97 L182.75,181.28 L183.00,179.49 L183.25,177.67 L183.50,175.93 L183.75,174.34 L184.00,172.93 L184.25,171.71 L184.50,170.64 L184.75,169.72 L185.00,168.92 L185.25,168.23 L185.50,167.63 L185.75,167.12 L186.00,166.67 L186.25,166.29 L186.50,165.95 L186.75,165.65 L187.00,165.40 L187.25,165.19 L187.50,165.01 L187.75,164.89 L188.00,164.82 L188.25,164.80 L188.50,164.85 L188.75,164.95 L189.00,165.10 L189.25,165.30 L189.50,165.55 L189.75,165.84 L190.00,166.18 L190.25,166.58 L190.50,167.06 L190.75,167.63 L191.00,168.33 L191.25,169.16 L191.50,170.15 L191.75,171.32 L192.00,172.69 L192.25,174.27 L192.50,176.06 L192.75,178.00 L193.00,180.03 L193.25,182.04 L193.50,183.97 L193.75,185.76 L194.00,187.39 L194.25,188.86 L194.50,190.20 L194.75,191.43 L195.00,192.55 L195.25,193.59 L195.50,194.56 L195.75,195.47 L196.00,196.32 L196.25,197.12 L196.50,197.85 L196.75,198.51 L197.00,199.11 L197.25,199.65 L197.50,200.12 L197.75,200.52 L198.00,200.86 L198.25,201.12 L198.50,201.32 L198.75,201.45 L199.00,201.53 L199.25,201.57 L199.25,201.60 Z" fill="#cdd19e" stroke="#b3b884" stroke-width="0.45" style="mix-blend-mode:multiply"/>
<path d="M155.25,221.40 L155.25,221.35 L155.50,221.32 L155.75,221.29 L156.00,221.26 L156.25,221.22 L156.50,221.19 L156.75,221.15 L157.00,221.12 L157.25,221.08 L157.50,221.05 L157.75,221.02 L158.00,220.98 L158.25,220.95 L158.50,220.92 L158.75,220.89 L159.00,220.86 L159.25,220.83 L159.50,220.80 L159.75,220.77 L160.00,220.74 L160.25,220.71 L160.50,220.69 L160.75,220.66 L161.00,220.63 L161.25,220.61 L161.50,220.58 L161.75,220.56 L162.00,220.53 L162.25,220.51 L162.50,220.48 L162.75,220.45 L163.00,220.43 L163.25,220.40 L163.50,220.38 L163.75,220.35 L164.00,220.32 L164.25,220.29 L164.50,220.26 L164.75,220.23 L165.00,220.20 L165.25,220.17 L165.50,220.14 L165.75,220.11 L166.00,220.07 L166.25,220.04 L166.50,220.01 L166.75,219.97 L167.00,219.94 L167.25,219.90 L167.50,219.87 L167.75,219.83 L168.00,219.79 L168.25,219.76 L168.50,219.72 L168.75,219.69 L169.00,219.65 L169.25,219.61 L169.50,219.57 L169.75,219.53 L170.00,219.49 L170.25,219.44 L170.50,219.40 L170.75,219.35 L171.00,219.31 L171.25,219.26 L171.50,219.20 L171.75,219.15 L172.00,219.10 L172.25,219.04 L172.50,218.98 L172.75,218.92 L173.00,218.85 L173.25,218.79 L173.50,218.72 L173.75,218.64 L174.00,218.57 L174.25,218.48 L174.50,218.40 L174.75,218.30 L175.00,218.19 L175.25,218.07 L175.50,217.94 L175.75,217.80 L176.00,217.64 L176.25,217.47 L176.50,217.28 L176.75,217.09 L177.00,216.88 L177.25,216.67 L177.50,216.44 L177.75,216.20 L178.00,215.95 L178.25,215.69 L178.50,215.41 L178.75,215.11 L179.00,214.79 L179.25,214.44 L179.50,214.07 L179.75,213.67 L180.00,213.24 L180.25,212.77 L180.50,212.27 L180.75,211.73 L181.00,211.13 L181.25,210.47 L181.50,209.74 L181.75,208.95 L182.00,208.09 L182.25,207.17 L182.50,206.18 L182.75,205.14 L183.00,204.04 L183.25,202.88 L183.50,201.67 L183.75,200.40 L184.00,199.07 L184.25,197.71 L184.50,196.31 L184.75,194.88 L185.00,193.42 L185.25,191.95 L185.50,190.48 L185.75,189.04 L186.00,187.67 L186.25,186.46 L186.50,185.47 L186.75,184.78 L187.00,184.47 L187.25,184.56 L187.50,185.06 L187.75,185.90 L188.00,186.99 L188.25,188.24 L188.50,189.55 L188.75,190.85 L189.00,192.13 L189.25,193.38 L189.50,194.62 L189.75,195.89 L190.00,197.21 L190.25,198.57 L190.50,199.97 L190.75,201.40 L191.00,202.83 L191.25,204.25 L191.50,205.63 L191.75,206.97 L192.00,208.26 L192.25,209.50 L192.50,210.68 L192.75,211.80 L193.00,212.87 L193.25,213.89 L193.50,214.86 L193.75,215.78 L194.00,216.65 L194.25,217.45 L194.50,218.16 L194.75,218.79 L195.00,219.32 L195.25,219.77 L195.50,220.16 L195.75,220.48 L196.00,220.75 L196.25,220.96 L196.50,221.13 L196.75,221.24 L197.00,221.32 L197.25,221.36 L197.25,221.40 Z" fill="#a6bcd8" stroke="#8ea3c0" stroke-width="0.45" style="mix-blend-mode:multiply"/>
<path d="M140.00,241.30 L140.00,241.26 L140.25,241.23 L140.50,241.18 L140.75,241.13 L141.00,241.06 L141.25,240.98 L141.50,240.89 L141.75,240.78 L142.00,240.67 L142.25,240.53 L142.50,240.38 L142.75,240.22 L143.00,240.04 L143.25,239.84 L143.50,239.63 L143.75,239.40 L144.00,239.15 L144.25,238.88 L144.50,238.58 L144.75,238.25 L145.00,237.89 L145.25,237.51 L145.50,237.10 L145.75,236.67 L146.00,236.22 L146.25,235.76 L146.50,235.29 L146.75,234.80 L147.00,234.30 L147.25,233.77 L147.50,233.22 L147.75,232.63 L148.00,232.00 L148.25,231.32 L148.50,230.59 L148.75,229.81 L149.00,228.96 L149.25,228.05 L149.50,227.07 L149.75,226.00 L150.00,224.85 L150.25,223.61 L150.50,222.28 L150.75,220.89 L151.00,219.48 L151.25,218.06 L151.50,216.66 L151.75,215.29 L152.00,213.96 L152.25,212.64 L152.50,211.32 L152.75,210.01 L153.00,208.70 L153.25,207.45 L153.50,206.32 L153.75,205.41 L154.00,204.79 L154.25,204.52 L154.50,204.63 L154.75,205.12 L155.00,205.94 L155.25,207.04 L155.50,208.33 L155.75,209.76 L156.00,211.28 L156.25,212.86 L156.50,214.48 L156.75,216.13 L157.00,217.81 L157.25,219.50 L157.50,221.17 L157.75,222.80 L158.00,224.36 L158.25,225.84 L158.50,227.23 L158.75,228.55 L159.00,229.80 L159.25,231.00 L159.50,232.16 L159.75,233.28 L160.00,234.36 L160.25,235.39 L160.50,236.36 L160.75,237.24 L161.00,238.02 L161.25,238.69 L161.50,239.23 L161.75,239.67 L162.00,240.02 L162.25,240.29 L162.50,240.49 L162.75,240.64 L163.00,240.74 L163.25,240.81 L163.50,240.86 L163.75,240.90 L164.00,240.93 L164.25,240.95 L164.50,240.96 L164.75,240.97 L165.00,240.98 L165.25,240.98 L165.50,240.98 L165.75,240.98 L166.00,240.98 L166.25,240.97 L166.50,240.97 L166.75,240.96 L167.00,240.96 L167.25,240.95 L167.50,240.94 L167.75,240.93 L168.00,240.92 L168.25,240.91 L168.50,240.89 L168.75,240.88 L169.00,240.86 L169.25,240.84 L169.50,240.83 L169.75,240.81 L170.00,240.79 L170.25,240.76 L170.50,240.73 L170.75,240.69 L171.00,240.64 L171.25,240.55 L171.50,240.44 L171.75,240.28 L172.00,240.07 L172.25,239.82 L172.50,239.53 L172.75,239.21 L173.00,238.87 L173.25,238.51 L173.50,238.14 L173.75,237.78 L174.00,237.42 L174.25,237.07 L174.50,236.72 L174.75,236.38 L175.00,236.04 L175.25,235.70 L175.50,235.37 L175.75,235.04 L176.00,234.72 L176.25,234.41 L176.50,234.11 L176.75,233.83 L177.00,233.57 L177.25,233.32 L177.50,233.09 L177.75,232.88 L178.00,232.68 L178.25,232.51 L178.50,232.35 L178.75,232.22 L179.00,232.12 L179.25,232.04 L179.50,232.00 L179.75,231.99 L180.00,232.02 L180.25,232.08 L180.50,232.18 L180.75,232.30 L181.00,232.45 L181.25,232.62 L181.50,232.82 L181.75,233.03 L182.00,233.26 L182.25,233.50 L182.50,233.76 L182.75,234.03 L183.00,234.31 L183.25,234.61 L183.50,234.92 L183.75,235.23 L184.00,235.55 L184.25,235.87 L184.50,236.20 L184.75,236.52 L185.00,236.84 L185.25,237.17 L185.50,237.50 L185.75,237.83 L186.00,238.16 L186.25,238.48 L186.50,238.80 L186.75,239.10 L187.00,239.39 L187.25,239.65 L187.50,239.90 L187.75,240.13 L188.00,240.34 L188.25,240.53 L188.50,240.70 L188.75,240.86 L189.00,240.99 L189.25,241.10 L189.50,241.18 L189.75,241.23 L190.00,241.27 L190.00,241.30 Z" fill="#c4dd98" stroke="#a6c07c" stroke-width="0.45" style="mix-blend-mode:multiply"/>
<path d="M141.25,261.10 L141.25,261.04 L141.50,261.01 L141.75,260.95 L142.00,260.88 L142.25,260.80 L142.50,260.70 L142.75,260.58 L143.00,260.45 L143.25,260.30 L143.50,260.12 L143.75,259.92 L144.00,259.67 L144.25,259.38 L144.50,259.04 L144.75,258.67 L145.00,258.26 L145.25,257.82 L145.50,257.38 L145.75,256.91 L146.00,256.44 L146.25,255.96 L146.50,255.44 L146.75,254.90 L147.00,254.31 L147.25,253.66 L147.50,252.94 L147.75,252.14 L148.00,251.27 L148.25,250.32 L148.50,249.32 L148.75,248.26 L149.00,247.15 L149.25,246.01 L149.50,244.83 L149.75,243.62 L150.00,242.38 L150.25,241.11 L150.50,239.82 L150.75,238.53 L151.00,237.24 L151.25,235.96 L151.50,234.71 L151.75,233.47 L152.00,232.27 L152.25,231.09 L152.50,229.97 L152.75,228.90 L153.00,227.93 L153.25,227.05 L153.50,226.29 L153.75,225.65 L154.00,225.15 L154.25,224.81 L154.50,224.63 L154.75,224.63 L155.00,224.79 L155.25,225.11 L155.50,225.56 L155.75,226.12 L156.00,226.78 L156.25,227.53 L156.50,228.39 L156.75,229.35 L157.00,230.43 L157.25,231.65 L157.50,233.04 L157.75,234.61 L158.00,236.37 L158.25,238.30 L158.50,240.35 L158.75,242.43 L159.00,244.49 L159.25,246.44 L159.50,248.26 L159.75,249.92 L160.00,251.40 L160.25,252.70 L160.50,253.83 L160.75,254.80 L161.00,255.62 L161.25,256.32 L161.50,256.90 L161.75,257.38 L162.00,257.78 L162.25,258.12 L162.50,258.42 L162.75,258.67 L163.00,258.89 L163.25,259.08 L163.50,259.23 L163.75,259.35 L164.00,259.44 L164.25,259.50 L164.50,259.54 L164.75,259.56 L165.00,259.57 L165.25,259.57 L165.50,259.57 L165.75,259.57 L166.00,259.57 L166.25,259.57 L166.50,259.57 L166.75,259.57 L167.00,259.57 L167.25,259.57 L167.50,259.56 L167.75,259.54 L168.00,259.52 L168.25,259.49 L168.50,259.46 L168.75,259.41 L169.00,259.35 L169.25,259.29 L169.50,259.22 L169.75,259.15 L170.00,259.07 L170.25,258.99 L170.50,258.90 L170.75,258.81 L171.00,258.72 L171.25,258.62 L171.50,258.52 L171.75,258.42 L172.00,258.31 L172.25,258.19 L172.50,258.07 L172.75,257.94 L173.00,257.79 L173.25,257.65 L173.50,257.49 L173.75,257.33 L174.00,257.17 L174.25,257.00 L174.50,256.83 L174.75,256.66 L175.00,256.49 L175.25,256.32 L175.50,256.15 L175.75,255.98 L176.00,255.81 L176.25,255.64 L176.50,255.47 L176.75,255.29 L177.00,255.11 L177.25,254.93 L177.50,254.75 L177.75,254.57 L178.00,254.39 L178.25,254.21 L178.50,254.04 L178.75,253.88 L179.00,253.72 L179.25,253.58 L179.50,253.44 L179.75,253.32 L180.00,253.21 L180.25,253.10 L180.50,253.01 L180.75,252.92 L181.00,252.84 L181.25,252.77 L181.50,252.71 L181.75,252.67 L182.00,252.64 L182.25,252.64 L182.50,252.67 L182.75,252.72 L183.00,252.80 L183.25,252.90 L183.50,253.02 L183.75,253.16 L184.00,253.32 L184.25,253.49 L184.50,253.69 L184.75,253.90 L185.00,254.13 L185.25,254.37 L185.50,254.63 L185.75,254.89 L186.00,255.16 L186.25,255.44 L186.50,255.72 L186.75,256.00 L187.00,256.29 L187.25,256.59 L187.50,256.90 L187.75,257.22 L188.00,257.53 L188.25,257.85 L188.50,258.16 L188.75,258.47 L189.00,258.77 L189.25,259.05 L189.50,259.32 L189.75,259.58 L190.00,259.83 L190.25,260.06 L190.50,260.28 L190.75,260.48 L191.00,260.65 L191.25,260.80 L191.50,260.92 L191.75,261.00 L192.00,261.05 L192.00,261.10 Z" fill="#e1e498" stroke="#c4c87c" stroke-width="0.45" style="mix-blend-mode:multiply"/>
<path d="M141.75,280.80 L141.75,280.77 L142.00,280.73 L142.25,280.68 L142.50,280.61 L142.75,280.52 L143.00,280.40 L143.25,280.25 L143.50,280.09 L143.75,279.91 L144.00,279.71 L144.25,279.50 L144.50,279.27 L144.75,279.02 L145.00,278.74 L145.25,278.43 L145.50,278.10 L145.75,277.73 L146.00,277.33 L146.25,276.89 L146.50,276.44 L146.75,275.95 L147.00,275.43 L147.25,274.88 L147.50,274.30 L147.75,273.69 L148.00,273.04 L148.25,272.37 L148.50,271.66 L148.75,270.93 L149.00,270.18 L149.25,269.40 L149.50,268.59 L149.75,267.76 L150.00,266.90 L150.25,266.00 L150.50,265.07 L150.75,264.10 L151.00,263.09 L151.25,262.04 L151.50,260.93 L151.75,259.78 L152.00,258.56 L152.25,257.30 L152.50,256.00 L152.75,254.66 L153.00,253.29 L153.25,251.90 L153.50,250.50 L153.75,249.13 L154.00,247.84 L154.25,246.68 L154.50,245.74 L154.75,245.09 L155.00,244.76 L155.25,244.80 L155.50,245.19 L155.75,245.91 L156.00,246.90 L156.25,248.08 L156.50,249.38 L156.75,250.74 L157.00,252.11 L157.25,253.47 L157.50,254.81 L157.75,256.13 L158.00,257.44 L158.25,258.72 L158.50,259.99 L158.75,261.25 L159.00,262.49 L159.25,263.72 L159.50,264.94 L159.75,266.16 L160.00,267.37 L160.25,268.59 L160.50,269.82 L160.75,271.05 L161.00,272.27 L161.25,273.45 L161.50,274.57 L161.75,275.60 L162.00,276.52 L162.25,277.34 L162.50,278.03 L162.75,278.60 L163.00,279.07 L163.25,279.45 L163.50,279.75 L163.75,279.99 L164.00,280.17 L164.25,280.30 L164.50,280.39 L164.75,280.45 L165.00,280.48 L165.25,280.51 L165.50,280.52 L165.75,280.53 L166.00,280.54 L166.25,280.54 L166.50,280.55 L166.75,280.55 L167.00,280.56 L167.25,280.56 L167.50,280.57 L167.75,280.57 L168.00,280.57 L168.25,280.58 L168.50,280.58 L168.75,280.58 L169.00,280.59 L169.25,280.59 L169.50,280.59 L169.75,280.59 L170.00,280.59 L170.25,280.59 L170.50,280.58 L170.75,280.57 L171.00,280.54 L171.25,280.51 L171.50,280.45 L171.75,280.37 L172.00,280.26 L172.25,280.14 L172.50,280.00 L172.75,279.85 L173.00,279.68 L173.25,279.50 L173.50,279.32 L173.75,279.13 L174.00,278.94 L174.25,278.73 L174.50,278.51 L174.75,278.28 L175.00,278.04 L175.25,277.78 L175.50,277.51 L175.75,277.23 L176.00,276.94 L176.25,276.64 L176.50,276.33 L176.75,276.00 L177.00,275.67 L177.25,275.31 L177.50,274.94 L177.75,274.56 L178.00,274.17 L178.25,273.78 L178.50,273.40 L178.75,273.04 L179.00,272.72 L179.25,272.43 L179.50,272.18 L179.75,271.97 L180.00,271.79 L180.25,271.66 L180.50,271.58 L180.75,271.56 L181.00,271.58 L181.25,271.65 L181.50,271.76 L181.75,271.90 L182.00,272.07 L182.25,272.27 L182.50,272.50 L182.75,272.75 L183.00,273.03 L183.25,273.33 L183.50,273.65 L183.75,273.98 L184.00,274.33 L184.25,274.68 L184.50,275.03 L184.75,275.37 L185.00,275.71 L185.25,276.05 L185.50,276.38 L185.75,276.72 L186.00,277.05 L186.25,277.37 L186.50,277.70 L186.75,278.01 L187.00,278.32 L187.25,278.61 L187.50,278.89 L187.75,279.17 L188.00,279.42 L188.25,279.67 L188.50,279.91 L188.75,280.12 L189.00,280.31 L189.25,280.48 L189.50,280.60 L189.75,280.69 L190.00,280.75 L190.00,280.80 Z" fill="#aac9ec" stroke="#8eaed2" stroke-width="0.45" style="mix-blend-mode:multiply"/>
<path d="M249.50,162.20 L249.50,162.14 L249.75,162.12 L250.00,162.09 L250.25,162.05 L250.50,162.02 L250.75,161.98 L251.00,161.94 L251.25,161.89 L251.50,161.85 L251.75,161.80 L252.00,161.75 L252.25,161.69 L252.50,161.63 L252.75,161.57 L253.00,161.50 L253.25,161.43 L253.50,161.35 L253.75,161.27 L254.00,161.18 L254.25,161.09 L254.50,160.99 L254.75,160.88 L255.00,160.77 L255.25,160.64 L255.50,160.50 L255.75,160.35 L256.00,160.19 L256.25,160.01 L256.50,159.81 L256.75,159.59 L257.00,159.35 L257.25,159.08 L257.50,158.78 L257.75,158.44 L258.00,158.06 L258.25,157.65 L258.50,157.21 L258.75,156.75 L259.00,156.25 L259.25,155.74 L259.50,155.19 L259.75,154.63 L260.00,154.03 L260.25,153.40 L260.50,152.75 L260.75,152.06 L261.00,151.33 L261.25,150.59 L261.50,149.81 L261.75,149.01 L262.00,148.19 L262.25,147.35 L262.50,146.48 L262.75,145.58 L263.00,144.65 L263.25,143.68 L263.50,142.69 L263.75,141.67 L264.00,140.62 L264.25,139.54 L264.50,138.45 L264.75,137.32 L265.00,136.18 L265.25,135.01 L265.50,133.84 L265.75,132.66 L266.00,131.49 L266.25,130.35 L266.50,129.25 L266.75,128.23 L267.00,127.31 L267.25,126.55 L267.50,125.98 L267.75,125.64 L268.00,125.53 L268.25,125.66 L268.50,126.01 L268.75,126.55 L269.00,127.24 L269.25,128.06 L269.50,128.99 L269.75,130.00 L270.00,131.09 L270.25,132.24 L270.50,133.45 L270.75,134.71 L271.00,136.02 L271.25,137.35 L271.50,138.71 L271.75,140.10 L272.00,141.49 L272.25,142.89 L272.50,144.28 L272.75,145.65 L273.00,146.99 L273.25,148.29 L273.50,149.55 L273.75,150.77 L274.00,151.93 L274.25,153.04 L274.50,154.07 L274.75,155.03 L275.00,155.92 L275.25,156.74 L275.50,157.48 L275.75,158.13 L276.00,158.69 L276.25,159.17 L276.50,159.57 L276.75,159.91 L277.00,160.19 L277.25,160.43 L277.50,160.64 L277.75,160.82 L278.00,160.98 L278.25,161.12 L278.50,161.24 L278.75,161.35 L279.00,161.45 L279.25,161.54 L279.50,161.63 L279.75,161.70 L280.00,161.78 L280.25,161.84 L280.50,161.91 L280.75,161.96 L281.00,162.02 L281.25,162.06 L281.50,162.10 L281.75,162.14 L282.00,162.16 L282.00,162.20 Z" fill="#9b9eab" stroke="#85879a" stroke-width="0.45"/>
<path d="M301.75,182.00 L301.75,181.96 L302.00,181.93 L302.25,181.88 L302.50,181.82 L302.75,181.74 L303.00,181.66 L303.25,181.56 L303.50,181.45 L303.75,181.34 L304.00,181.23 L304.25,181.11 L304.50,180.98 L304.75,180.85 L305.00,180.71 L305.25,180.57 L305.50,180.42 L305.75,180.26 L306.00,180.08 L306.25,179.88 L306.50,179.65 L306.75,179.38 L307.00,179.06 L307.25,178.68 L307.50,178.23 L307.75,177.69 L308.00,177.06 L308.25,176.34 L308.50,175.53 L308.75,174.60 L309.00,173.56 L309.25,172.41 L309.50,171.14 L309.75,169.76 L310.00,168.31 L310.25,166.79 L310.50,165.22 L310.75,163.60 L311.00,161.92 L311.25,160.20 L311.50,158.41 L311.75,156.57 L312.00,154.67 L312.25,152.73 L312.50,150.79 L312.75,148.95 L313.00,147.32 L313.25,146.06 L313.50,145.32 L313.75,145.17 L314.00,145.62 L314.25,146.58 L314.50,147.93 L314.75,149.53 L315.00,151.28 L315.25,153.11 L315.50,154.98 L315.75,156.89 L316.00,158.83 L316.25,160.77 L316.50,162.71 L316.75,164.61 L317.00,166.45 L317.25,168.21 L317.50,169.87 L317.75,171.42 L318.00,172.83 L318.25,174.10 L318.50,175.23 L318.75,176.22 L319.00,177.08 L319.25,177.81 L319.50,178.41 L319.75,178.89 L320.00,179.28 L320.25,179.59 L320.50,179.85 L320.75,180.06 L321.00,180.25 L321.25,180.42 L321.50,180.58 L321.75,180.73 L322.00,180.88 L322.25,181.03 L322.50,181.18 L322.75,181.32 L323.00,181.46 L323.25,181.59 L323.50,181.71 L323.75,181.80 L324.00,181.88 L324.25,181.93 L324.50,181.97 L324.50,182.00 Z" fill="#bccca5" stroke="#9fb288" stroke-width="0.45" style="mix-blend-mode:multiply"/>
<path d="M303.25,201.60 L303.25,201.56 L303.50,201.51 L303.75,201.44 L304.00,201.33 L304.25,201.18 L304.50,200.99 L304.75,200.76 L305.00,200.49 L305.25,200.19 L305.50,199.85 L305.75,199.47 L306.00,199.03 L306.25,198.53 L306.50,197.97 L306.75,197.33 L307.00,196.61 L307.25,195.83 L307.50,194.97 L307.75,194.02 L308.00,192.98 L308.25,191.82 L308.50,190.51 L308.75,188.99 L309.00,187.23 L309.25,185.22 L309.50,182.97 L309.75,180.59 L310.00,178.20 L310.25,175.96 L310.50,173.96 L310.75,172.24 L311.00,170.82 L311.25,169.65 L311.50,168.69 L311.75,167.91 L312.00,167.27 L312.25,166.77 L312.50,166.36 L312.75,166.03 L313.00,165.75 L313.25,165.53 L313.50,165.36 L313.75,165.22 L314.00,165.14 L314.25,165.10 L314.50,165.12 L314.75,165.20 L315.00,165.32 L315.25,165.50 L315.50,165.73 L315.75,166.01 L316.00,166.38 L316.25,166.85 L316.50,167.46 L316.75,168.22 L317.00,169.15 L317.25,170.23 L317.50,171.45 L317.75,172.78 L318.00,174.19 L318.25,175.68 L318.50,177.23 L318.75,178.81 L319.00,180.42 L319.25,182.02 L319.50,183.60 L319.75,185.13 L320.00,186.61 L320.25,188.01 L320.50,189.36 L320.75,190.65 L321.00,191.88 L321.25,193.05 L321.50,194.17 L321.75,195.23 L322.00,196.23 L322.25,197.14 L322.50,197.95 L322.75,198.66 L323.00,199.27 L323.25,199.77 L323.50,200.20 L323.75,200.55 L324.00,200.84 L324.25,201.08 L324.50,201.27 L324.75,201.40 L325.00,201.49 L325.25,201.55 L325.25,201.60 Z" fill="#cdd19e" stroke="#b3b884" stroke-width="0.45" style="mix-blend-mode:multiply"/>
<path d="M302.75,221.40 L302.75,221.35 L303.00,221.31 L303.25,221.26 L303.50,221.19 L303.75,221.11 L304.00,221.01 L304.25,220.88 L304.50,220.72 L304.75,220.52 L305.00,220.28 L305.25,219.98 L305.50,219.61 L305.75,219.15 L306.00,218.59 L306.25,217.91 L306.50,217.14 L306.75,216.27 L307.00,215.35 L307.25,214.38 L307.50,213.39 L307.75,212.38 L308.00,211.36 L308.25,210.34 L308.50,209.31 L308.75,208.28 L309.00,207.25 L309.25,206.23 L309.50,205.22 L309.75,204.22 L310.00,203.21 L310.25,202.20 L310.50,201.17 L310.75,200.11 L311.00,199.01 L311.25,197.86 L311.50,196.67 L311.75,195.42 L312.00,194.12 L312.25,192.77 L312.50,191.39 L312.75,189.99 L313.00,188.61 L313.25,187.31 L313.50,186.16 L313.75,185.25 L314.00,184.65 L314.25,184.41 L314.50,184.53 L314.75,184.99 L315.00,185.72 L315.25,186.67 L315.50,187.77 L315.75,188.96 L316.00,190.20 L316.25,191.46 L316.50,192.73 L316.75,193.99 L317.00,195.25 L317.25,196.51 L317.50,197.75 L317.75,199.00 L318.00,200.24 L318.25,201.50 L318.50,202.80 L318.75,204.17 L319.00,205.62 L319.25,207.15 L319.50,208.76 L319.75,210.40 L320.00,211.99 L320.25,213.47 L320.50,214.80 L320.75,215.96 L321.00,216.94 L321.25,217.78 L321.50,218.49 L321.75,219.10 L322.00,219.61 L322.25,220.04 L322.50,220.39 L322.75,220.66 L323.00,220.88 L323.25,221.04 L323.50,221.15 L323.75,221.24 L324.00,221.30 L324.25,221.34 L324.25,221.40 Z" fill="#a6bcd8" stroke="#8ea3c0" stroke-width="0.45" style="mix-blend-mode:multiply"/>
<path d="M253.50,241.30 L253.50,241.27 L253.75,241.24 L254.00,241.19 L254.25,241.11 L254.50,241.01 L254.75,240.90 L255.00,240.76 L255.25,240.62 L255.50,240.46 L255.75,240.30 L256.00,240.13 L256.25,239.95 L256.50,239.76 L256.75,239.57 L257.00,239.37 L257.25,239.17 L257.50,238.95 L257.75,238.73 L258.00,238.49 L258.25,238.25 L258.50,238.00 L258.75,237.73 L259.00,237.45 L259.25,237.16 L259.50,236.85 L259.75,236.53 L260.00,236.19 L260.25,235.83 L260.50,235.46 L260.75,235.06 L261.00,234.64 L261.25,234.20 L261.50,233.73 L261.75,233.23 L262.00,232.71 L262.25,232.16 L262.50,231.59 L262.75,230.97 L263.00,230.32 L263.25,229.63 L263.50,228.88 L263.75,228.08 L264.00,227.21 L264.25,226.27 L264.50,225.29 L264.75,224.25 L265.00,223.17 L265.25,222.06 L265.50,220.93 L265.75,219.77 L266.00,218.59 L266.25,217.38 L266.50,216.12 L266.75,214.79 L267.00,213.38 L267.25,211.88 L267.50,210.32 L267.75,208.74 L268.00,207.25 L268.25,205.98 L268.50,205.05 L268.75,204.55 L269.00,204.53 L269.25,204.95 L269.50,205.77 L269.75,206.89 L270.00,208.22 L270.25,209.67 L270.50,211.15 L270.75,212.63 L271.00,214.08 L271.25,215.48 L271.50,216.84 L271.75,218.17 L272.00,219.46 L272.25,220.72 L272.50,221.95 L272.75,223.15 L273.00,224.31 L273.25,225.43 L273.50,226.50 L273.75,227.52 L274.00,228.48 L274.25,229.38 L274.50,230.23 L274.75,231.03 L275.00,231.78 L275.25,232.50 L275.50,233.18 L275.75,233.82 L276.00,234.41 L276.25,234.96 L276.50,235.47 L276.75,235.95 L277.00,236.39 L277.25,236.79 L277.50,237.17 L277.75,237.53 L278.00,237.86 L278.25,238.18 L278.50,238.47 L278.75,238.74 L279.00,239.00 L279.25,239.23 L279.50,239.46 L279.75,239.68 L280.00,239.89 L280.25,240.08 L280.50,240.27 L280.75,240.43 L281.00,240.58 L281.25,240.70 L281.50,240.80 L281.75,240.88 L282.00,240.93 L282.25,240.97 L282.50,240.99 L282.75,241.00 L283.00,241.01 L283.25,241.02 L283.50,241.02 L283.75,241.03 L284.00,241.04 L284.25,241.04 L284.50,241.05 L284.75,241.05 L285.00,241.05 L285.25,241.06 L285.50,241.06 L285.75,241.06 L286.00,241.07 L286.25,241.07 L286.50,241.07 L286.75,241.08 L287.00,241.08 L287.25,241.08 L287.50,241.08 L287.75,241.08 L288.00,241.09 L288.25,241.09 L288.50,241.09 L288.75,241.09 L289.00,241.09 L289.25,241.09 L289.50,241.09 L289.75,241.09 L290.00,241.09 L290.25,241.09 L290.50,241.09 L290.75,241.09 L291.00,241.09 L291.25,241.09 L291.50,241.08 L291.75,241.08 L292.00,241.08 L292.25,241.07 L292.50,241.07 L292.75,241.07 L293.00,241.06 L293.25,241.06 L293.50,241.05 L293.75,241.04 L294.00,241.04 L294.25,241.03 L294.50,241.02 L294.75,241.01 L295.00,240.98 L295.25,240.95 L295.50,240.90 L295.75,240.82 L296.00,240.71 L296.25,240.56 L296.50,240.39 L296.75,240.19 L297.00,239.97 L297.25,239.75 L297.50,239.52 L297.75,239.29 L298.00,239.07 L298.25,238.86 L298.50,238.64 L298.75,238.42 L299.00,238.20 L299.25,237.96 L299.50,237.71 L299.75,237.44 L300.00,237.14 L300.25,236.81 L300.50,236.43 L300.75,235.99 L301.00,235.46 L301.25,234.85 L301.50,234.15 L301.75,233.35 L302.00,232.46 L302.25,231.49 L302.50,230.46 L302.75,229.37 L303.00,228.24 L303.25,227.09 L303.50,225.99 L303.75,224.98 L304.00,224.13 L304.25,223.49 L304.50,223.10 L304.75,222.97 L305.00,223.11 L305.25,223.50 L305.50,224.11 L305.75,224.91 L306.00,225.85 L306.25,226.86 L306.50,227.90 L306.75,228.91 L307.00,229.89 L307.25,230.80 L307.50,231.66 L307.75,232.47 L308.00,233.22 L308.25,233.91 L308.50,234.54 L308.75,235.10 L309.00,235.60 L309.25,236.05 L309.50,236.44 L309.75,236.79 L310.00,237.11 L310.25,237.41 L310.50,237.68 L310.75,237.93 L311.00,238.17 L311.25,238.40 L311.50,238.62 L311.75,238.84 L312.00,239.05 L312.25,239.26 L312.50,239.47 L312.75,239.68 L313.00,239.88 L313.25,240.07 L313.50,240.27 L313.75,240.45 L314.00,240.62 L314.25,240.79 L314.50,240.93 L314.75,241.05 L315.00,241.15 L315.25,241.22 L315.50,241.26 L315.50,241.30 Z" fill="#c4dd98" stroke="#a6c07c" stroke-width="0.45" style="mix-blend-mode:multiply"/>
<path d="M252.75,261.10 L252.75,261.04 L253.00,261.00 L253.25,260.93 L253.50,260.84 L253.75,260.73 L254.00,260.61 L254.25,260.47 L254.50,260.33 L254.75,260.17 L255.00,260.01 L255.25,259.84 L255.50,259.67 L255.75,259.49 L256.00,259.30 L256.25,259.11 L256.50,258.91 L256.75,258.70 L257.00,258.48 L257.25,258.24 L257.50,258.00 L257.75,257.73 L258.00,257.45 L258.25,257.15 L258.50,256.82 L258.75,256.46 L259.00,256.05 L259.25,255.60 L259.50,255.10 L259.75,254.55 L260.00,253.95 L260.25,253.31 L260.50,252.65 L260.75,251.98 L261.00,251.29 L261.25,250.60 L261.50,249.90 L261.75,249.20 L262.00,248.49 L262.25,247.76 L262.50,247.02 L262.75,246.26 L263.00,245.49 L263.25,244.69 L263.50,243.87 L263.75,243.02 L264.00,242.15 L264.25,241.25 L264.50,240.32 L264.75,239.36 L265.00,238.37 L265.25,237.34 L265.50,236.26 L265.75,235.12 L266.00,233.91 L266.25,232.64 L266.50,231.33 L266.75,230.01 L267.00,228.74 L267.25,227.56 L267.50,226.52 L267.75,225.66 L268.00,225.00 L268.25,224.55 L268.50,224.32 L268.75,224.30 L269.00,224.47 L269.25,224.79 L269.50,225.25 L269.75,225.82 L270.00,226.49 L270.25,227.26 L270.50,228.11 L270.75,229.03 L271.00,230.01 L271.25,231.03 L271.50,232.08 L271.75,233.13 L272.00,234.18 L272.25,235.23 L272.50,236.29 L272.75,237.34 L273.00,238.39 L273.25,239.43 L273.50,240.45 L273.75,241.44 L274.00,242.40 L274.25,243.32 L274.50,244.21 L274.75,245.06 L275.00,245.88 L275.25,246.67 L275.50,247.45 L275.75,248.21 L276.00,248.96 L276.25,249.70 L276.50,250.45 L276.75,251.19 L277.00,251.93 L277.25,252.67 L277.50,253.39 L277.75,254.08 L278.00,254.72 L278.25,255.30 L278.50,255.82 L278.75,256.28 L279.00,256.69 L279.25,257.05 L279.50,257.38 L279.75,257.68 L280.00,257.96 L280.25,258.22 L280.50,258.46 L280.75,258.68 L281.00,258.88 L281.25,259.07 L281.50,259.25 L281.75,259.42 L282.00,259.57 L282.25,259.72 L282.50,259.87 L282.75,260.00 L283.00,260.13 L283.25,260.25 L283.50,260.37 L283.75,260.47 L284.00,260.56 L284.25,260.63 L284.50,260.69 L284.75,260.73 L285.00,260.76 L285.25,260.79 L285.50,260.80 L285.75,260.81 L286.00,260.82 L286.25,260.83 L286.50,260.83 L286.75,260.84 L287.00,260.85 L287.25,260.85 L287.50,260.86 L287.75,260.86 L288.00,260.86 L288.25,260.87 L288.50,260.87 L288.75,260.88 L289.00,260.88 L289.25,260.88 L289.50,260.88 L289.75,260.89 L290.00,260.89 L290.25,260.89 L290.50,260.89 L290.75,260.89 L291.00,260.89 L291.25,260.89 L291.50,260.89 L291.75,260.89 L292.00,260.89 L292.25,260.89 L292.50,260.89 L292.75,260.89 L293.00,260.89 L293.25,260.88 L293.50,260.87 L293.75,260.87 L294.00,260.86 L294.25,260.85 L294.50,260.84 L294.75,260.83 L295.00,260.80 L295.25,260.77 L295.50,260.73 L295.75,260.67 L296.00,260.58 L296.25,260.46 L296.50,260.33 L296.75,260.17 L297.00,260.00 L297.25,259.81 L297.50,259.62 L297.75,259.43 L298.00,259.23 L298.25,259.03 L298.50,258.82 L298.75,258.61 L299.00,258.38 L299.25,258.14 L299.50,257.89 L299.75,257.62 L300.00,257.33 L300.25,257.02 L300.50,256.68 L300.75,256.31 L301.00,255.90 L301.25,255.44 L301.50,254.92 L301.75,254.36 L302.00,253.75 L302.25,253.09 L302.50,252.37 L302.75,251.61 L303.00,250.79 L303.25,249.92 L303.50,249.01 L303.75,248.08 L304.00,247.17 L304.25,246.32 L304.50,245.56 L304.75,244.91 L305.00,244.41 L305.25,244.06 L305.50,243.87 L305.75,243.86 L306.00,244.00 L306.25,244.30 L306.50,244.73 L306.75,245.28 L307.00,245.94 L307.25,246.69 L307.50,247.50 L307.75,248.35 L308.00,249.21 L308.25,250.05 L308.50,250.86 L308.75,251.63 L309.00,252.36 L309.25,253.05 L309.50,253.71 L309.75,254.32 L310.00,254.89 L310.25,255.42 L310.50,255.89 L310.75,256.33 L311.00,256.72 L311.25,257.08 L311.50,257.41 L311.75,257.72 L312.00,258.01 L312.25,258.28 L312.50,258.54 L312.75,258.78 L313.00,259.01 L313.25,259.24 L313.50,259.45 L313.75,259.65 L314.00,259.84 L314.25,260.03 L314.50,260.21 L314.75,260.38 L315.00,260.53 L315.25,260.67 L315.50,260.80 L315.75,260.90 L316.00,260.98 L316.25,261.03 L316.50,261.07 L316.50,261.10 Z" fill="#e1e498" stroke="#c4c87c" stroke-width="0.45" style="mix-blend-mode:multiply"/>
<path d="M253.75,280.80 L253.75,280.76 L254.00,280.72 L254.25,280.67 L254.50,280.59 L254.75,280.49 L255.00,280.37 L255.25,280.23 L255.50,280.07 L255.75,279.89 L256.00,279.70 L256.25,279.50 L256.50,279.28 L256.75,279.05 L257.00,278.79 L257.25,278.51 L257.50,278.21 L257.75,277.88 L258.00,277.52 L258.25,277.14 L258.50,276.73 L258.75,276.30 L259.00,275.85 L259.25,275.38 L259.50,274.88 L259.75,274.35 L260.00,273.79 L260.25,273.20 L260.50,272.58 L260.75,271.94 L261.00,271.28 L261.25,270.61 L261.50,269.94 L261.75,269.25 L262.00,268.56 L262.25,267.86 L262.50,267.15 L262.75,266.42 L263.00,265.67 L263.25,264.90 L263.50,264.10 L263.75,263.26 L264.00,262.39 L264.25,261.47 L264.50,260.51 L264.75,259.50 L265.00,258.45 L265.25,257.36 L265.50,256.24 L265.75,255.07 L266.00,253.86 L266.25,252.62 L266.50,251.35 L266.75,250.08 L267.00,248.84 L267.25,247.69 L267.50,246.66 L267.75,245.82 L268.00,245.17 L268.25,244.76 L268.50,244.60 L268.75,244.68 L269.00,245.01 L269.25,245.54 L269.50,246.27 L269.75,247.16 L270.00,248.19 L270.25,249.32 L270.50,250.52 L270.75,251.76 L271.00,253.02 L271.25,254.28 L271.50,255.53 L271.75,256.77 L272.00,257.99 L272.25,259.16 L272.50,260.28 L272.75,261.34 L273.00,262.33 L273.25,263.25 L273.50,264.12 L273.75,264.94 L274.00,265.72 L274.25,266.46 L274.50,267.18 L274.75,267.89 L275.00,268.58 L275.25,269.27 L275.50,269.94 L275.75,270.62 L276.00,271.28 L276.25,271.94 L276.50,272.58 L276.75,273.20 L277.00,273.79 L277.25,274.35 L277.50,274.88 L277.75,275.38 L278.00,275.86 L278.25,276.31 L278.50,276.75 L278.75,277.16 L279.00,277.54 L279.25,277.90 L279.50,278.23 L279.75,278.53 L280.00,278.80 L280.25,279.04 L280.50,279.26 L280.75,279.47 L281.00,279.66 L281.25,279.83 L281.50,279.99 L281.75,280.14 L282.00,280.26 L282.25,280.36 L282.50,280.45 L282.75,280.51 L283.00,280.55 L283.25,280.58 L283.50,280.60 L283.75,280.61 L284.00,280.61 L284.25,280.62 L284.50,280.63 L284.75,280.63 L285.00,280.63 L285.25,280.64 L285.50,280.64 L285.75,280.65 L286.00,280.65 L286.25,280.65 L286.50,280.66 L286.75,280.66 L287.00,280.66 L287.25,280.67 L287.50,280.67 L287.75,280.67 L288.00,280.67 L288.25,280.68 L288.50,280.68 L288.75,280.68 L289.00,280.68 L289.25,280.68 L289.50,280.68 L289.75,280.69 L290.00,280.69 L290.25,280.69 L290.50,280.69 L290.75,280.69 L291.00,280.69 L291.25,280.69 L291.50,280.69 L291.75,280.69 L292.00,280.70 L292.25,280.70 L292.50,280.70 L292.75,280.70 L293.00,280.70 L293.25,280.69 L293.50,280.69 L293.75,280.68 L294.00,280.66 L294.25,280.64 L294.50,280.60 L294.75,280.54 L295.00,280.47 L295.25,280.38 L295.50,280.28 L295.75,280.17 L296.00,280.04 L296.25,279.90 L296.50,279.74 L296.75,279.57 L297.00,279.37 L297.25,279.15 L297.50,278.89 L297.75,278.61 L298.00,278.30 L298.25,277.97 L298.50,277.61 L298.75,277.24 L299.00,276.86 L299.25,276.46 L299.50,276.07 L299.75,275.66 L300.00,275.26 L300.25,274.84 L300.50,274.42 L300.75,273.98 L301.00,273.53 L301.25,273.06 L301.50,272.55 L301.75,272.02 L302.00,271.45 L302.25,270.84 L302.50,270.21 L302.75,269.57 L303.00,268.95 L303.25,268.38 L303.50,267.90 L303.75,267.54 L304.00,267.30 L304.25,267.22 L304.50,267.30 L304.75,267.53 L305.00,267.92 L305.25,268.43 L305.50,269.04 L305.75,269.70 L306.00,270.37 L306.25,271.02 L306.50,271.63 L306.75,272.19 L307.00,272.71 L307.25,273.18 L307.50,273.63 L307.75,274.05 L308.00,274.47 L308.25,274.87 L308.50,275.28 L308.75,275.68 L309.00,276.08 L309.25,276.48 L309.50,276.88 L309.75,277.27 L310.00,277.65 L310.25,278.02 L310.50,278.37 L310.75,278.69 L311.00,278.99 L311.25,279.26 L311.50,279.51 L311.75,279.74 L312.00,279.94 L312.25,280.12 L312.50,280.28 L312.75,280.42 L313.00,280.54 L313.25,280.63 L313.50,280.70 L313.75,280.75 L313.75,280.80 Z" fill="#aac9ec" stroke="#8eaed2" stroke-width="0.45" style="mix-blend-mode:multiply"/>
<path d="M361.50,162.20 L361.50,162.16 L361.75,162.14 L362.00,162.12 L362.25,162.09 L362.50,162.06 L362.75,162.03 L363.00,162.00 L363.25,161.96 L363.50,161.92 L363.75,161.88 L364.00,161.83 L364.25,161.78 L364.50,161.73 L364.75,161.68 L365.00,161.61 L365.25,161.55 L365.50,161.48 L365.75,161.40 L366.00,161.33 L366.25,161.24 L366.50,161.15 L366.75,161.06 L367.00,160.96 L367.25,160.84 L367.50,160.72 L367.75,160.59 L368.00,160.45 L368.25,160.30 L368.50,160.13 L368.75,159.94 L369.00,159.73 L369.25,159.51 L369.50,159.25 L369.75,158.97 L370.00,158.65 L370.25,158.29 L370.50,157.90 L370.75,157.47 L371.00,157.02 L371.25,156.55 L371.50,156.06 L371.75,155.56 L372.00,155.04 L372.25,154.50 L372.50,153.95 L372.75,153.38 L373.00,152.79 L373.25,152.18 L373.50,151.56 L373.75,150.91 L374.00,150.25 L374.25,149.58 L374.50,148.89 L374.75,148.18 L375.00,147.46 L375.25,146.73 L375.50,145.97 L375.75,145.21 L376.00,144.42 L376.25,143.60 L376.50,142.77 L376.75,141.92 L377.00,141.04 L377.25,140.14 L377.50,139.21 L377.75,138.25 L378.00,137.25 L378.25,136.22 L378.50,135.17 L378.75,134.11 L379.00,133.05 L379.25,132.02 L379.50,131.03 L379.75,130.09 L380.00,129.23 L380.25,128.44 L380.50,127.76 L380.75,127.19 L381.00,126.76 L381.25,126.49 L381.50,126.40 L381.75,126.49 L382.00,126.75 L382.25,127.18 L382.50,127.76 L382.75,128.48 L383.00,129.33 L383.25,130.30 L383.50,131.38 L383.75,132.56 L384.00,133.82 L384.25,135.13 L384.50,136.46 L384.75,137.79 L385.00,139.10 L385.25,140.38 L385.50,141.65 L385.75,142.90 L386.00,144.17 L386.25,145.44 L386.50,146.74 L386.75,148.05 L387.00,149.38 L387.25,150.70 L387.50,151.98 L387.75,153.21 L388.00,154.37 L388.25,155.44 L388.50,156.41 L388.75,157.28 L389.00,158.03 L389.25,158.67 L389.50,159.21 L389.75,159.65 L390.00,160.00 L390.25,160.29 L390.50,160.54 L390.75,160.74 L391.00,160.92 L391.25,161.07 L391.50,161.20 L391.75,161.32 L392.00,161.43 L392.25,161.53 L392.50,161.61 L392.75,161.69 L393.00,161.76 L393.25,161.82 L393.50,161.88 L393.75,161.93 L394.00,161.98 L394.25,162.02 L394.50,162.06 L394.75,162.09 L395.00,162.12 L395.25,162.15 L395.25,162.20 Z" fill="#9b9eab" stroke="#85879a" stroke-width="0.45"/>
<path d="M412.75,182.00 L412.75,181.96 L413.00,181.93 L413.25,181.89 L413.50,181.83 L413.75,181.76 L414.00,181.68 L414.25,181.59 L414.50,181.49 L414.75,181.39 L415.00,181.29 L415.25,181.18 L415.50,181.07 L415.75,180.96 L416.00,180.84 L416.25,180.72 L416.50,180.59 L416.75,180.46 L417.00,180.32 L417.25,180.17 L417.50,180.01 L417.75,179.85 L418.00,179.67 L418.25,179.48 L418.50,179.27 L418.75,179.05 L419.00,178.81 L419.25,178.54 L419.50,178.25 L419.75,177.94 L420.00,177.60 L420.25,177.23 L420.50,176.83 L420.75,176.40 L421.00,175.93 L421.25,175.42 L421.50,174.86 L421.75,174.23 L422.00,173.53 L422.25,172.75 L422.50,171.90 L422.75,170.97 L423.00,169.97 L423.25,168.91 L423.50,167.79 L423.75,166.62 L424.00,165.39 L424.25,164.09 L424.50,162.71 L424.75,161.22 L425.00,159.62 L425.25,157.90 L425.50,156.05 L425.75,154.11 L426.00,152.13 L426.25,150.20 L426.50,148.42 L426.75,146.91 L427.00,145.80 L427.25,145.18 L427.50,145.11 L427.75,145.60 L428.00,146.58 L428.25,147.95 L428.50,149.60 L428.75,151.43 L429.00,153.34 L429.25,155.28 L429.50,157.23 L429.75,159.14 L430.00,160.99 L430.25,162.75 L430.50,164.40 L430.75,165.94 L431.00,167.36 L431.25,168.66 L431.50,169.86 L431.75,170.96 L432.00,171.97 L432.25,172.89 L432.50,173.72 L432.75,174.47 L433.00,175.14 L433.25,175.76 L433.50,176.31 L433.75,176.82 L434.00,177.29 L434.25,177.71 L434.50,178.10 L434.75,178.44 L435.00,178.74 L435.25,179.01 L435.50,179.24 L435.75,179.44 L436.00,179.62 L436.25,179.79 L436.50,179.94 L436.75,180.07 L437.00,180.20 L437.25,180.33 L437.50,180.44 L437.75,180.56 L438.00,180.67 L438.25,180.79 L438.50,180.90 L438.75,181.02 L439.00,181.13 L439.25,181.25 L439.50,181.36 L439.75,181.47 L440.00,181.57 L440.25,181.68 L440.50,181.77 L440.75,181.84 L441.00,181.90 L441.25,181.95 L441.25,182.00 Z" fill="#bccca5" stroke="#9fb288" stroke-width="0.45" style="mix-blend-mode:multiply"/>
<path d="M415.00,201.60 L415.00,201.57 L415.25,201.53 L415.50,201.47 L415.75,201.37 L416.00,201.24 L416.25,201.08 L416.50,200.88 L416.75,200.65 L417.00,200.40 L417.25,200.13 L417.50,199.83 L417.75,199.51 L418.00,199.15 L418.25,198.77 L418.50,198.35 L418.75,197.89 L419.00,197.40 L419.25,196.87 L419.50,196.31 L419.75,195.72 L420.00,195.10 L420.25,194.46 L420.50,193.79 L420.75,193.07 L421.00,192.30 L421.25,191.46 L421.50,190.51 L421.75,189.43 L422.00,188.15 L422.25,186.63 L422.50,184.83 L422.75,182.79 L423.00,180.58 L423.25,178.33 L423.50,176.20 L423.75,174.29 L424.00,172.65 L424.25,171.28 L424.50,170.14 L424.75,169.19 L425.00,168.39 L425.25,167.72 L425.50,167.16 L425.75,166.70 L426.00,166.31 L426.25,165.98 L426.50,165.71 L426.75,165.49 L427.00,165.31 L427.25,165.19 L427.50,165.12 L427.75,165.10 L428.00,165.15 L428.25,165.25 L428.50,165.41 L428.75,165.63 L429.00,165.91 L429.25,166.27 L429.50,166.73 L429.75,167.32 L430.00,168.06 L430.25,168.95 L430.50,169.99 L430.75,171.15 L431.00,172.37 L431.25,173.63 L431.50,174.91 L431.75,176.19 L432.00,177.48 L432.25,178.78 L432.50,180.11 L432.75,181.47 L433.00,182.88 L433.25,184.34 L433.50,185.87 L433.75,187.47 L434.00,189.10 L434.25,190.71 L434.50,192.25 L434.75,193.64 L435.00,194.86 L435.25,195.89 L435.50,196.75 L435.75,197.47 L436.00,198.09 L436.25,198.63 L436.50,199.11 L436.75,199.53 L437.00,199.92 L437.25,200.28 L437.50,200.59 L437.75,200.87 L438.00,201.10 L438.25,201.28 L438.50,201.41 L438.75,201.50 L439.00,201.55 L439.00,201.60 Z" fill="#cdd19e" stroke="#b3b884" stroke-width="0.45" style="mix-blend-mode:multiply"/>
<path d="M413.50,221.40 L413.50,221.35 L413.75,221.33 L414.00,221.29 L414.25,221.25 L414.50,221.20 L414.75,221.14 L415.00,221.07 L415.25,220.99 L415.50,220.89 L415.75,220.77 L416.00,220.63 L416.25,220.45 L416.50,220.25 L416.75,220.01 L417.00,219.73 L417.25,219.40 L417.50,219.01 L417.75,218.55 L418.00,218.02 L418.25,217.42 L418.50,216.75 L418.75,216.05 L419.00,215.31 L419.25,214.54 L419.50,213.76 L419.75,212.96 L420.00,212.14 L420.25,211.30 L420.50,210.44 L420.75,209.56 L421.00,208.67 L421.25,207.76 L421.50,206.84 L421.75,205.90 L422.00,204.95 L422.25,203.98 L422.50,202.99 L422.75,201.97 L423.00,200.94 L423.25,199.87 L423.50,198.78 L423.75,197.66 L424.00,196.50 L424.25,195.31 L424.50,194.08 L424.75,192.80 L425.00,191.47 L425.25,190.11 L425.50,188.75 L425.75,187.47 L426.00,186.33 L426.25,185.44 L426.50,184.84 L426.75,184.57 L427.00,184.60 L427.25,184.89 L427.50,185.40 L427.75,186.07 L428.00,186.87 L428.25,187.75 L428.50,188.71 L428.75,189.71 L429.00,190.75 L429.25,191.82 L429.50,192.91 L429.75,194.04 L430.00,195.19 L430.25,196.38 L430.50,197.60 L430.75,198.86 L431.00,200.14 L431.25,201.45 L431.50,202.77 L431.75,204.08 L432.00,205.37 L432.25,206.64 L432.50,207.87 L432.75,209.06 L433.00,210.23 L433.25,211.36 L433.50,212.46 L433.75,213.53 L434.00,214.56 L434.25,215.56 L434.50,216.49 L434.75,217.34 L435.00,218.08 L435.25,218.71 L435.50,219.22 L435.75,219.63 L436.00,219.95 L436.25,220.21 L436.50,220.43 L436.75,220.61 L437.00,220.75 L437.25,220.88 L437.50,220.98 L437.75,221.07 L438.00,221.14 L438.25,221.21 L438.50,221.26 L438.75,221.30 L439.00,221.34 L439.25,221.36 L439.25,221.40 Z" fill="#a6bcd8" stroke="#8ea3c0" stroke-width="0.45" style="mix-blend-mode:multiply"/>
<path d="M368.75,241.30 L368.75,241.24 L369.00,241.20 L369.25,241.13 L369.50,241.04 L369.75,240.94 L370.00,240.82 L370.25,240.69 L370.50,240.54 L370.75,240.39 L371.00,240.24 L371.25,240.07 L371.50,239.90 L371.75,239.72 L372.00,239.54 L372.25,239.35 L372.50,239.16 L372.75,238.95 L373.00,238.74 L373.25,238.52 L373.50,238.29 L373.75,238.04 L374.00,237.79 L374.25,237.52 L374.50,237.24 L374.75,236.94 L375.00,236.63 L375.25,236.31 L375.50,235.96 L375.75,235.60 L376.00,235.21 L376.25,234.80 L376.50,234.36 L376.75,233.90 L377.00,233.41 L377.25,232.89 L377.50,232.36 L377.75,231.79 L378.00,231.20 L378.25,230.58 L378.50,229.93 L378.75,229.25 L379.00,228.52 L379.25,227.75 L379.50,226.93 L379.75,226.06 L380.00,225.14 L380.25,224.18 L380.50,223.18 L380.75,222.14 L381.00,221.05 L381.25,219.90 L381.50,218.71 L381.75,217.45 L382.00,216.13 L382.25,214.74 L382.50,213.28 L382.75,211.77 L383.00,210.23 L383.25,208.71 L383.50,207.29 L383.75,206.07 L384.00,205.14 L384.25,204.55 L384.50,204.35 L384.75,204.52 L385.00,205.03 L385.25,205.84 L385.50,206.88 L385.75,208.10 L386.00,209.45 L386.25,210.89 L386.50,212.38 L386.75,213.90 L387.00,215.42 L387.25,216.92 L387.50,218.39 L387.75,219.79 L388.00,221.13 L388.25,222.41 L388.50,223.63 L388.75,224.78 L389.00,225.88 L389.25,226.92 L389.50,227.90 L389.75,228.83 L390.00,229.70 L390.25,230.53 L390.50,231.31 L390.75,232.06 L391.00,232.76 L391.25,233.42 L391.50,234.04 L391.75,234.62 L392.00,235.15 L392.25,235.64 L392.50,236.08 L392.75,236.49 L393.00,236.87 L393.25,237.23 L393.50,237.55 L393.75,237.86 L394.00,238.15 L394.25,238.42 L394.50,238.68 L394.75,238.91 L395.00,239.14 L395.25,239.36 L395.50,239.56 L395.75,239.76 L396.00,239.96 L396.25,240.14 L396.50,240.31 L396.75,240.47 L397.00,240.61 L397.25,240.72 L397.50,240.82 L397.75,240.89 L398.00,240.94 L398.25,240.97 L398.50,240.99 L398.75,241.01 L399.00,241.01 L399.25,241.02 L399.50,241.03 L399.75,241.03 L400.00,241.04 L400.25,241.04 L400.50,241.05 L400.75,241.05 L401.00,241.06 L401.25,241.06 L401.50,241.06 L401.75,241.07 L402.00,241.07 L402.25,241.07 L402.50,241.08 L402.75,241.08 L403.00,241.08 L403.25,241.08 L403.50,241.08 L403.75,241.09 L404.00,241.09 L404.25,241.09 L404.50,241.09 L404.75,241.09 L405.00,241.09 L405.25,241.09 L405.50,241.09 L405.75,241.08 L406.00,241.06 L406.25,241.03 L406.50,241.00 L406.75,240.94 L407.00,240.87 L407.25,240.79 L407.50,240.70 L407.75,240.59 L408.00,240.48 L408.25,240.37 L408.50,240.25 L408.75,240.13 L409.00,240.00 L409.25,239.88 L409.50,239.75 L409.75,239.63 L410.00,239.50 L410.25,239.36 L410.50,239.22 L410.75,239.07 L411.00,238.91 L411.25,238.75 L411.50,238.58 L411.75,238.39 L412.00,238.20 L412.25,238.00 L412.50,237.79 L412.75,237.56 L413.00,237.31 L413.25,237.04 L413.50,236.75 L413.75,236.44 L414.00,236.09 L414.25,235.71 L414.50,235.30 L414.75,234.84 L415.00,234.33 L415.25,233.75 L415.50,233.10 L415.75,232.39 L416.00,231.63 L416.25,230.88 L416.50,230.18 L416.75,229.60 L417.00,229.17 L417.25,228.94 L417.50,228.92 L417.75,229.11 L418.00,229.50 L418.25,230.05 L418.50,230.73 L418.75,231.48 L419.00,232.24 L419.25,232.96 L419.50,233.62 L419.75,234.21 L420.00,234.72 L420.25,235.19 L420.50,235.61 L420.75,235.99 L421.00,236.34 L421.25,236.67 L421.50,236.98 L421.75,237.27 L422.00,237.54 L422.25,237.79 L422.50,238.04 L422.75,238.27 L423.00,238.48 L423.25,238.69 L423.50,238.89 L423.75,239.08 L424.00,239.27 L424.25,239.44 L424.50,239.61 L424.75,239.78 L425.00,239.94 L425.25,240.10 L425.50,240.25 L425.75,240.40 L426.00,240.54 L426.25,240.68 L426.50,240.81 L426.75,240.93 L427.00,241.03 L427.25,241.12 L427.50,241.19 L427.75,241.24 L427.75,241.30 Z" fill="#c4dd98" stroke="#a6c07c" stroke-width="0.45" style="mix-blend-mode:multiply"/>
<path d="M367.25,261.10 L367.25,261.05 L367.50,261.00 L367.75,260.94 L368.00,260.86 L368.25,260.76 L368.50,260.64 L368.75,260.51 L369.00,260.37 L369.25,260.23 L369.50,260.07 L369.75,259.91 L370.00,259.74 L370.25,259.57 L370.50,259.38 L370.75,259.19 L371.00,258.99 L371.25,258.78 L371.50,258.56 L371.75,258.32 L372.00,258.08 L372.25,257.82 L372.50,257.55 L372.75,257.26 L373.00,256.96 L373.25,256.64 L373.50,256.30 L373.75,255.94 L374.00,255.55 L374.25,255.14 L374.50,254.69 L374.75,254.22 L375.00,253.72 L375.25,253.19 L375.50,252.65 L375.75,252.08 L376.00,251.49 L376.25,250.87 L376.50,250.23 L376.75,249.57 L377.00,248.87 L377.25,248.14 L377.50,247.38 L377.75,246.59 L378.00,245.75 L378.25,244.87 L378.50,243.94 L378.75,242.95 L379.00,241.91 L379.25,240.80 L379.50,239.65 L379.75,238.46 L380.00,237.26 L380.25,236.06 L380.50,234.87 L380.75,233.69 L381.00,232.54 L381.25,231.41 L381.50,230.32 L381.75,229.28 L382.00,228.31 L382.25,227.43 L382.50,226.65 L382.75,225.98 L383.00,225.42 L383.25,224.98 L383.50,224.68 L383.75,224.52 L384.00,224.51 L384.25,224.63 L384.50,224.87 L384.75,225.21 L385.00,225.63 L385.25,226.12 L385.50,226.67 L385.75,227.29 L386.00,227.97 L386.25,228.71 L386.50,229.51 L386.75,230.37 L387.00,231.29 L387.25,232.25 L387.50,233.28 L387.75,234.36 L388.00,235.52 L388.25,236.74 L388.50,238.01 L388.75,239.32 L389.00,240.63 L389.25,241.91 L389.50,243.16 L389.75,244.35 L390.00,245.49 L390.25,246.57 L390.50,247.61 L390.75,248.60 L391.00,249.54 L391.25,250.44 L391.50,251.30 L391.75,252.11 L392.00,252.89 L392.25,253.62 L392.50,254.30 L392.75,254.92 L393.00,255.47 L393.25,255.97 L393.50,256.40 L393.75,256.79 L394.00,257.14 L394.25,257.46 L394.50,257.75 L394.75,258.02 L395.00,258.27 L395.25,258.51 L395.50,258.72 L395.75,258.93 L396.00,259.11 L396.25,259.29 L396.50,259.46 L396.75,259.62 L397.00,259.77 L397.25,259.92 L397.50,260.06 L397.75,260.20 L398.00,260.32 L398.25,260.43 L398.50,260.53 L398.75,260.61 L399.00,260.68 L399.25,260.73 L399.50,260.76 L399.75,260.79 L400.00,260.80 L400.25,260.82 L400.50,260.82 L400.75,260.83 L401.00,260.84 L401.25,260.84 L401.50,260.85 L401.75,260.86 L402.00,260.86 L402.25,260.87 L402.50,260.87 L402.75,260.87 L403.00,260.88 L403.25,260.88 L403.50,260.88 L403.75,260.89 L404.00,260.89 L404.25,260.89 L404.50,260.89 L404.75,260.89 L405.00,260.89 L405.25,260.89 L405.50,260.89 L405.75,260.89 L406.00,260.88 L406.25,260.87 L406.50,260.85 L406.75,260.83 L407.00,260.80 L407.25,260.76 L407.50,260.72 L407.75,260.67 L408.00,260.61 L408.25,260.55 L408.50,260.48 L408.75,260.41 L409.00,260.33 L409.25,260.25 L409.50,260.17 L409.75,260.08 L410.00,259.99 L410.25,259.88 L410.50,259.77 L410.75,259.64 L411.00,259.50 L411.25,259.35 L411.50,259.19 L411.75,259.01 L412.00,258.83 L412.25,258.63 L412.50,258.43 L412.75,258.22 L413.00,257.99 L413.25,257.75 L413.50,257.50 L413.75,257.24 L414.00,256.95 L414.25,256.64 L414.50,256.31 L414.75,255.95 L415.00,255.55 L415.25,255.13 L415.50,254.67 L415.75,254.16 L416.00,253.60 L416.25,252.98 L416.50,252.34 L416.75,251.68 L417.00,251.06 L417.25,250.52 L417.50,250.08 L417.75,249.78 L418.00,249.63 L418.25,249.62 L418.50,249.74 L418.75,249.97 L419.00,250.30 L419.25,250.70 L419.50,251.17 L419.75,251.68 L420.00,252.22 L420.25,252.77 L420.50,253.30 L420.75,253.82 L421.00,254.32 L421.25,254.80 L421.50,255.26 L421.75,255.69 L422.00,256.11 L422.25,256.50 L422.50,256.86 L422.75,257.19 L423.00,257.49 L423.25,257.77 L423.50,258.02 L423.75,258.27 L424.00,258.49 L424.25,258.71 L424.50,258.91 L424.75,259.10 L425.00,259.28 L425.25,259.45 L425.50,259.61 L425.75,259.76 L426.00,259.91 L426.25,260.04 L426.50,260.17 L426.75,260.29 L427.00,260.40 L427.25,260.51 L427.50,260.62 L427.75,260.71 L428.00,260.80 L428.25,260.88 L428.50,260.94 L428.75,261.00 L429.00,261.04 L429.25,261.07 L429.25,261.10 Z" fill="#e1e498" stroke="#c4c87c" stroke-width="0.45" style="mix-blend-mode:multiply"/>
<path d="M370.75,280.80 L370.75,280.77 L371.00,280.74 L371.25,280.69 L371.50,280.62 L371.75,280.53 L372.00,280.42 L372.25,280.28 L372.50,280.13 L372.75,279.96 L373.00,279.77 L373.25,279.57 L373.50,279.35 L373.75,279.12 L374.00,278.86 L374.25,278.58 L374.50,278.26 L374.75,277.92 L375.00,277.55 L375.25,277.15 L375.50,276.72 L375.75,276.28 L376.00,275.82 L376.25,275.35 L376.50,274.87 L376.75,274.36 L377.00,273.84 L377.25,273.30 L377.50,272.74 L377.75,272.16 L378.00,271.55 L378.25,270.93 L378.50,270.29 L378.75,269.62 L379.00,268.93 L379.25,268.22 L379.50,267.48 L379.75,266.72 L380.00,265.94 L380.25,265.13 L380.50,264.31 L380.75,263.47 L381.00,262.61 L381.25,261.74 L381.50,260.85 L381.75,259.95 L382.00,259.02 L382.25,258.05 L382.50,257.05 L382.75,255.98 L383.00,254.84 L383.25,253.60 L383.50,252.27 L383.75,250.86 L384.00,249.43 L384.25,248.05 L384.50,246.82 L384.75,245.83 L385.00,245.15 L385.25,244.82 L385.50,244.85 L385.75,245.25 L386.00,245.96 L386.25,246.94 L386.50,248.12 L386.75,249.43 L387.00,250.78 L387.25,252.12 L387.50,253.40 L387.75,254.62 L388.00,255.76 L388.25,256.85 L388.50,257.90 L388.75,258.93 L389.00,259.95 L389.25,260.98 L389.50,262.02 L389.75,263.06 L390.00,264.12 L390.25,265.17 L390.50,266.21 L390.75,267.23 L391.00,268.20 L391.25,269.13 L391.50,270.01 L391.75,270.84 L392.00,271.62 L392.25,272.36 L392.50,273.06 L392.75,273.71 L393.00,274.32 L393.25,274.89 L393.50,275.43 L393.75,275.93 L394.00,276.41 L394.25,276.86 L394.50,277.28 L394.75,277.67 L395.00,278.03 L395.25,278.36 L395.50,278.65 L395.75,278.92 L396.00,279.16 L396.25,279.38 L396.50,279.59 L396.75,279.77 L397.00,279.94 L397.25,280.10 L397.50,280.23 L397.75,280.34 L398.00,280.43 L398.25,280.50 L398.50,280.54 L398.75,280.57 L399.00,280.59 L399.25,280.61 L399.50,280.61 L399.75,280.62 L400.00,280.63 L400.25,280.63 L400.50,280.64 L400.75,280.64 L401.00,280.65 L401.25,280.65 L401.50,280.65 L401.75,280.66 L402.00,280.66 L402.25,280.66 L402.50,280.67 L402.75,280.67 L403.00,280.67 L403.25,280.68 L403.50,280.68 L403.75,280.68 L404.00,280.68 L404.25,280.68 L404.50,280.69 L404.75,280.69 L405.00,280.69 L405.25,280.69 L405.50,280.69 L405.75,280.69 L406.00,280.69 L406.25,280.69 L406.50,280.69 L406.75,280.69 L407.00,280.69 L407.25,280.69 L407.50,280.69 L407.75,280.67 L408.00,280.65 L408.25,280.62 L408.50,280.56 L408.75,280.49 L409.00,280.40 L409.25,280.29 L409.50,280.17 L409.75,280.03 L410.00,279.88 L410.25,279.73 L410.50,279.56 L410.75,279.38 L411.00,279.19 L411.25,278.98 L411.50,278.76 L411.75,278.51 L412.00,278.26 L412.25,277.99 L412.50,277.70 L412.75,277.40 L413.00,277.08 L413.25,276.75 L413.50,276.39 L413.75,276.00 L414.00,275.58 L414.25,275.14 L414.50,274.68 L414.75,274.22 L415.00,273.77 L415.25,273.36 L415.50,273.00 L415.75,272.69 L416.00,272.43 L416.25,272.24 L416.50,272.11 L416.75,272.06 L417.00,272.09 L417.25,272.20 L417.50,272.38 L417.75,272.62 L418.00,272.94 L418.25,273.30 L418.50,273.72 L418.75,274.18 L419.00,274.65 L419.25,275.11 L419.50,275.56 L419.75,275.97 L420.00,276.35 L420.25,276.68 L420.50,276.99 L420.75,277.27 L421.00,277.53 L421.25,277.77 L421.50,278.00 L421.75,278.22 L422.00,278.43 L422.25,278.63 L422.50,278.83 L422.75,279.01 L423.00,279.19 L423.25,279.36 L423.50,279.52 L423.75,279.67 L424.00,279.82 L424.25,279.97 L424.50,280.10 L424.75,280.23 L425.00,280.36 L425.25,280.47 L425.50,280.56 L425.75,280.64 L426.00,280.70 L426.25,280.75 L426.25,280.80 Z" fill="#aac9ec" stroke="#8eaed2" stroke-width="0.45" style="mix-blend-mode:multiply"/>
<line x1="20.5" y1="107.4" x2="20.5" y2="280.8" stroke="#2e2e2e" stroke-width="1"/>
<line x1="124.0" y1="107.4" x2="124.0" y2="280.8" stroke="#2e2e2e" stroke-width="1"/>
<line x1="238.5" y1="107.4" x2="238.5" y2="280.8" stroke="#2e2e2e" stroke-width="1"/>
<line x1="352.2" y1="107.4" x2="352.2" y2="280.8" stroke="#2e2e2e" stroke-width="1"/>
<line x1="20" y1="280.8" x2="513.5" y2="280.8" stroke="#1a1a1a" stroke-width="1.1"/>
<line x1="20.70" y1="280.8" x2="20.70" y2="282.8" stroke="#222" stroke-width="0.55"/>
<line x1="27.55" y1="280.8" x2="27.55" y2="282.1" stroke="#222" stroke-width="0.55"/>
<line x1="31.55" y1="280.8" x2="31.55" y2="282.1" stroke="#222" stroke-width="0.55"/>
<line x1="34.40" y1="280.8" x2="34.40" y2="282.1" stroke="#222" stroke-width="0.55"/>
<line x1="36.60" y1="280.8" x2="36.60" y2="282.1" stroke="#222" stroke-width="0.55"/>
<line x1="38.40" y1="280.8" x2="38.40" y2="282.1" stroke="#222" stroke-width="0.55"/>
<line x1="39.93" y1="280.8" x2="39.93" y2="282.1" stroke="#222" stroke-width="0.55"/>
<line x1="41.25" y1="280.8" x2="41.25" y2="282.1" stroke="#222" stroke-width="0.55"/>
<line x1="42.41" y1="280.8" x2="42.41" y2="282.1" stroke="#222" stroke-width="0.55"/>
<line x1="43.45" y1="280.8" x2="43.45" y2="282.8" stroke="#222" stroke-width="0.55"/>
<line x1="50.30" y1="280.8" x2="50.30" y2="282.1" stroke="#222" stroke-width="0.55"/>
<line x1="54.30" y1="280.8" x2="54.30" y2="282.1" stroke="#222" stroke-width="0.55"/>
<line x1="57.15" y1="280.8" x2="57.15" y2="282.1" stroke="#222" stroke-width="0.55"/>
<line x1="59.35" y1="280.8" x2="59.35" y2="282.1" stroke="#222" stroke-width="0.55"/>
<line x1="61.15" y1="280.8" x2="61.15" y2="282.1" stroke="#222" stroke-width="0.55"/>
<line x1="62.68" y1="280.8" x2="62.68" y2="282.1" stroke="#222" stroke-width="0.55"/>
<line x1="64.00" y1="280.8" x2="64.00" y2="282.1" stroke="#222" stroke-width="0.55"/>
<line x1="65.16" y1="280.8" x2="65.16" y2="282.1" stroke="#222" stroke-width="0.55"/>
<line x1="66.20" y1="280.8" x2="66.20" y2="282.8" stroke="#222" stroke-width="0.55"/>
<line x1="73.05" y1="280.8" x2="73.05" y2="282.1" stroke="#222" stroke-width="0.55"/>
<line x1="77.05" y1="280.8" x2="77.05" y2="282.1" stroke="#222" stroke-width="0.55"/>
<line x1="79.90" y1="280.8" x2="79.90" y2="282.1" stroke="#222" stroke-width="0.55"/>
<line x1="82.10" y1="280.8" x2="82.10" y2="282.1" stroke="#222" stroke-width="0.55"/>
<line x1="83.90" y1="280.8" x2="83.90" y2="282.1" stroke="#222" stroke-width="0.55"/>
<line x1="85.43" y1="280.8" x2="85.43" y2="282.1" stroke="#222" stroke-width="0.55"/>
<line x1="86.75" y1="280.8" x2="86.75" y2="282.1" stroke="#222" stroke-width="0.55"/>
<line x1="87.91" y1="280.8" x2="87.91" y2="282.1" stroke="#222" stroke-width="0.55"/>
<line x1="88.95" y1="280.8" x2="88.95" y2="282.8" stroke="#222" stroke-width="0.55"/>
<line x1="95.80" y1="280.8" x2="95.80" y2="282.1" stroke="#222" stroke-width="0.55"/>
<line x1="99.80" y1="280.8" x2="99.80" y2="282.1" stroke="#222" stroke-width="0.55"/>
<line x1="102.65" y1="280.8" x2="102.65" y2="282.1" stroke="#222" stroke-width="0.55"/>
<line x1="104.85" y1="280.8" x2="104.85" y2="282.1" stroke="#222" stroke-width="0.55"/>
<line x1="106.65" y1="280.8" x2="106.65" y2="282.1" stroke="#222" stroke-width="0.55"/>
<line x1="108.18" y1="280.8" x2="108.18" y2="282.1" stroke="#222" stroke-width="0.55"/>
<line x1="109.50" y1="280.8" x2="109.50" y2="282.1" stroke="#222" stroke-width="0.55"/>
<line x1="110.66" y1="280.8" x2="110.66" y2="282.1" stroke="#222" stroke-width="0.55"/>
<line x1="111.70" y1="280.8" x2="111.70" y2="282.8" stroke="#222" stroke-width="0.55"/>
<line x1="118.55" y1="280.8" x2="118.55" y2="282.1" stroke="#222" stroke-width="0.55"/>
<line x1="122.55" y1="280.8" x2="122.55" y2="282.1" stroke="#222" stroke-width="0.55"/>
<text x="21.30" y="293.2" font-size="6.6" text-anchor="middle" fill="#2a2a2a" stroke="#2a2a2a" stroke-width="0.25">10<tspan dy="-3.1" font-size="4.3">&#8722;1</tspan></text>
<text x="44.05" y="293.2" font-size="6.6" text-anchor="middle" fill="#2a2a2a" stroke="#2a2a2a" stroke-width="0.25">10<tspan dy="-3.1" font-size="4.3">0</tspan></text>
<text x="66.80" y="293.2" font-size="6.6" text-anchor="middle" fill="#2a2a2a" stroke="#2a2a2a" stroke-width="0.25">10<tspan dy="-3.1" font-size="4.3">1</tspan></text>
<text x="89.55" y="293.2" font-size="6.6" text-anchor="middle" fill="#2a2a2a" stroke="#2a2a2a" stroke-width="0.25">10<tspan dy="-3.1" font-size="4.3">2</tspan></text>
<text x="112.30" y="293.2" font-size="6.6" text-anchor="middle" fill="#2a2a2a" stroke="#2a2a2a" stroke-width="0.25">10<tspan dy="-3.1" font-size="4.3">3</tspan></text>
<line x1="125.55" y1="280.8" x2="125.55" y2="282.1" stroke="#222" stroke-width="0.55"/>
<line x1="127.75" y1="280.8" x2="127.75" y2="282.1" stroke="#222" stroke-width="0.55"/>
<line x1="129.55" y1="280.8" x2="129.55" y2="282.1" stroke="#222" stroke-width="0.55"/>
<line x1="131.08" y1="280.8" x2="131.08" y2="282.1" stroke="#222" stroke-width="0.55"/>
<line x1="132.40" y1="280.8" x2="132.40" y2="282.1" stroke="#222" stroke-width="0.55"/>
<line x1="133.56" y1="280.8" x2="133.56" y2="282.1" stroke="#222" stroke-width="0.55"/>
<line x1="134.60" y1="280.8" x2="134.60" y2="282.8" stroke="#222" stroke-width="0.55"/>
<line x1="141.45" y1="280.8" x2="141.45" y2="282.1" stroke="#222" stroke-width="0.55"/>
<line x1="145.45" y1="280.8" x2="145.45" y2="282.1" stroke="#222" stroke-width="0.55"/>
<line x1="148.30" y1="280.8" x2="148.30" y2="282.1" stroke="#222" stroke-width="0.55"/>
<line x1="150.50" y1="280.8" x2="150.50" y2="282.1" stroke="#222" stroke-width="0.55"/>
<line x1="152.30" y1="280.8" x2="152.30" y2="282.1" stroke="#222" stroke-width="0.55"/>
<line x1="153.83" y1="280.8" x2="153.83" y2="282.1" stroke="#222" stroke-width="0.55"/>
<line x1="155.15" y1="280.8" x2="155.15" y2="282.1" stroke="#222" stroke-width="0.55"/>
<line x1="156.31" y1="280.8" x2="156.31" y2="282.1" stroke="#222" stroke-width="0.55"/>
<line x1="157.35" y1="280.8" x2="157.35" y2="282.8" stroke="#222" stroke-width="0.55"/>
<line x1="164.20" y1="280.8" x2="164.20" y2="282.1" stroke="#222" stroke-width="0.55"/>
<line x1="168.20" y1="280.8" x2="168.20" y2="282.1" stroke="#222" stroke-width="0.55"/>
<line x1="171.05" y1="280.8" x2="171.05" y2="282.1" stroke="#222" stroke-width="0.55"/>
<line x1="173.25" y1="280.8" x2="173.25" y2="282.1" stroke="#222" stroke-width="0.55"/>
<line x1="175.05" y1="280.8" x2="175.05" y2="282.1" stroke="#222" stroke-width="0.55"/>
<line x1="176.58" y1="280.8" x2="176.58" y2="282.1" stroke="#222" stroke-width="0.55"/>
<line x1="177.90" y1="280.8" x2="177.90" y2="282.1" stroke="#222" stroke-width="0.55"/>
<line x1="179.06" y1="280.8" x2="179.06" y2="282.1" stroke="#222" stroke-width="0.55"/>
<line x1="180.10" y1="280.8" x2="180.10" y2="282.8" stroke="#222" stroke-width="0.55"/>
<line x1="186.95" y1="280.8" x2="186.95" y2="282.1" stroke="#222" stroke-width="0.55"/>
<line x1="190.95" y1="280.8" x2="190.95" y2="282.1" stroke="#222" stroke-width="0.55"/>
<line x1="193.80" y1="280.8" x2="193.80" y2="282.1" stroke="#222" stroke-width="0.55"/>
<line x1="196.00" y1="280.8" x2="196.00" y2="282.1" stroke="#222" stroke-width="0.55"/>
<line x1="197.80" y1="280.8" x2="197.80" y2="282.1" stroke="#222" stroke-width="0.55"/>
<line x1="199.33" y1="280.8" x2="199.33" y2="282.1" stroke="#222" stroke-width="0.55"/>
<line x1="200.65" y1="280.8" x2="200.65" y2="282.1" stroke="#222" stroke-width="0.55"/>
<line x1="201.81" y1="280.8" x2="201.81" y2="282.1" stroke="#222" stroke-width="0.55"/>
<line x1="202.85" y1="280.8" x2="202.85" y2="282.8" stroke="#222" stroke-width="0.55"/>
<line x1="209.70" y1="280.8" x2="209.70" y2="282.1" stroke="#222" stroke-width="0.55"/>
<line x1="213.70" y1="280.8" x2="213.70" y2="282.1" stroke="#222" stroke-width="0.55"/>
<line x1="216.55" y1="280.8" x2="216.55" y2="282.1" stroke="#222" stroke-width="0.55"/>
<line x1="218.75" y1="280.8" x2="218.75" y2="282.1" stroke="#222" stroke-width="0.55"/>
<line x1="220.55" y1="280.8" x2="220.55" y2="282.1" stroke="#222" stroke-width="0.55"/>
<line x1="222.08" y1="280.8" x2="222.08" y2="282.1" stroke="#222" stroke-width="0.55"/>
<line x1="223.40" y1="280.8" x2="223.40" y2="282.1" stroke="#222" stroke-width="0.55"/>
<line x1="224.56" y1="280.8" x2="224.56" y2="282.1" stroke="#222" stroke-width="0.55"/>
<line x1="225.60" y1="280.8" x2="225.60" y2="282.8" stroke="#222" stroke-width="0.55"/>
<line x1="232.45" y1="280.8" x2="232.45" y2="282.1" stroke="#222" stroke-width="0.55"/>
<line x1="236.45" y1="280.8" x2="236.45" y2="282.1" stroke="#222" stroke-width="0.55"/>
<text x="135.20" y="293.2" font-size="6.6" text-anchor="middle" fill="#2a2a2a" stroke="#2a2a2a" stroke-width="0.25">10<tspan dy="-3.1" font-size="4.3">&#8722;1</tspan></text>
<text x="157.95" y="293.2" font-size="6.6" text-anchor="middle" fill="#2a2a2a" stroke="#2a2a2a" stroke-width="0.25">10<tspan dy="-3.1" font-size="4.3">0</tspan></text>
<text x="180.70" y="293.2" font-size="6.6" text-anchor="middle" fill="#2a2a2a" stroke="#2a2a2a" stroke-width="0.25">10<tspan dy="-3.1" font-size="4.3">1</tspan></text>
<text x="203.45" y="293.2" font-size="6.6" text-anchor="middle" fill="#2a2a2a" stroke="#2a2a2a" stroke-width="0.25">10<tspan dy="-3.1" font-size="4.3">2</tspan></text>
<text x="226.20" y="293.2" font-size="6.6" text-anchor="middle" fill="#2a2a2a" stroke="#2a2a2a" stroke-width="0.25">10<tspan dy="-3.1" font-size="4.3">3</tspan></text>
<line x1="240.55" y1="280.8" x2="240.55" y2="282.1" stroke="#222" stroke-width="0.55"/>
<line x1="242.75" y1="280.8" x2="242.75" y2="282.1" stroke="#222" stroke-width="0.55"/>
<line x1="244.55" y1="280.8" x2="244.55" y2="282.1" stroke="#222" stroke-width="0.55"/>
<line x1="246.08" y1="280.8" x2="246.08" y2="282.1" stroke="#222" stroke-width="0.55"/>
<line x1="247.40" y1="280.8" x2="247.40" y2="282.1" stroke="#222" stroke-width="0.55"/>
<line x1="248.56" y1="280.8" x2="248.56" y2="282.1" stroke="#222" stroke-width="0.55"/>
<line x1="249.60" y1="280.8" x2="249.60" y2="282.8" stroke="#222" stroke-width="0.55"/>
<line x1="256.45" y1="280.8" x2="256.45" y2="282.1" stroke="#222" stroke-width="0.55"/>
<line x1="260.45" y1="280.8" x2="260.45" y2="282.1" stroke="#222" stroke-width="0.55"/>
<line x1="263.30" y1="280.8" x2="263.30" y2="282.1" stroke="#222" stroke-width="0.55"/>
<line x1="265.50" y1="280.8" x2="265.50" y2="282.1" stroke="#222" stroke-width="0.55"/>
<line x1="267.30" y1="280.8" x2="267.30" y2="282.1" stroke="#222" stroke-width="0.55"/>
<line x1="268.83" y1="280.8" x2="268.83" y2="282.1" stroke="#222" stroke-width="0.55"/>
<line x1="270.15" y1="280.8" x2="270.15" y2="282.1" stroke="#222" stroke-width="0.55"/>
<line x1="271.31" y1="280.8" x2="271.31" y2="282.1" stroke="#222" stroke-width="0.55"/>
<line x1="272.35" y1="280.8" x2="272.35" y2="282.8" stroke="#222" stroke-width="0.55"/>
<line x1="279.20" y1="280.8" x2="279.20" y2="282.1" stroke="#222" stroke-width="0.55"/>
<line x1="283.20" y1="280.8" x2="283.20" y2="282.1" stroke="#222" stroke-width="0.55"/>
<line x1="286.05" y1="280.8" x2="286.05" y2="282.1" stroke="#222" stroke-width="0.55"/>
<line x1="288.25" y1="280.8" x2="288.25" y2="282.1" stroke="#222" stroke-width="0.55"/>
<line x1="290.05" y1="280.8" x2="290.05" y2="282.1" stroke="#222" stroke-width="0.55"/>
<line x1="291.58" y1="280.8" x2="291.58" y2="282.1" stroke="#222" stroke-width="0.55"/>
<line x1="292.90" y1="280.8" x2="292.90" y2="282.1" stroke="#222" stroke-width="0.55"/>
<line x1="294.06" y1="280.8" x2="294.06" y2="282.1" stroke="#222" stroke-width="0.55"/>
<line x1="295.10" y1="280.8" x2="295.10" y2="282.8" stroke="#222" stroke-width="0.55"/>
<line x1="301.95" y1="280.8" x2="301.95" y2="282.1" stroke="#222" stroke-width="0.55"/>
<line x1="305.95" y1="280.8" x2="305.95" y2="282.1" stroke="#222" stroke-width="0.55"/>
<line x1="308.80" y1="280.8" x2="308.80" y2="282.1" stroke="#222" stroke-width="0.55"/>
<line x1="311.00" y1="280.8" x2="311.00" y2="282.1" stroke="#222" stroke-width="0.55"/>
<line x1="312.80" y1="280.8" x2="312.80" y2="282.1" stroke="#222" stroke-width="0.55"/>
<line x1="314.33" y1="280.8" x2="314.33" y2="282.1" stroke="#222" stroke-width="0.55"/>
<line x1="315.65" y1="280.8" x2="315.65" y2="282.1" stroke="#222" stroke-width="0.55"/>
<line x1="316.81" y1="280.8" x2="316.81" y2="282.1" stroke="#222" stroke-width="0.55"/>
<line x1="317.85" y1="280.8" x2="317.85" y2="282.8" stroke="#222" stroke-width="0.55"/>
<line x1="324.70" y1="280.8" x2="324.70" y2="282.1" stroke="#222" stroke-width="0.55"/>
<line x1="328.70" y1="280.8" x2="328.70" y2="282.1" stroke="#222" stroke-width="0.55"/>
<line x1="331.55" y1="280.8" x2="331.55" y2="282.1" stroke="#222" stroke-width="0.55"/>
<line x1="333.75" y1="280.8" x2="333.75" y2="282.1" stroke="#222" stroke-width="0.55"/>
<line x1="335.55" y1="280.8" x2="335.55" y2="282.1" stroke="#222" stroke-width="0.55"/>
<line x1="337.08" y1="280.8" x2="337.08" y2="282.1" stroke="#222" stroke-width="0.55"/>
<line x1="338.40" y1="280.8" x2="338.40" y2="282.1" stroke="#222" stroke-width="0.55"/>
<line x1="339.56" y1="280.8" x2="339.56" y2="282.1" stroke="#222" stroke-width="0.55"/>
<line x1="340.60" y1="280.8" x2="340.60" y2="282.8" stroke="#222" stroke-width="0.55"/>
<line x1="347.45" y1="280.8" x2="347.45" y2="282.1" stroke="#222" stroke-width="0.55"/>
<line x1="351.45" y1="280.8" x2="351.45" y2="282.1" stroke="#222" stroke-width="0.55"/>
<text x="250.20" y="293.2" font-size="6.6" text-anchor="middle" fill="#2a2a2a" stroke="#2a2a2a" stroke-width="0.25">10<tspan dy="-3.1" font-size="4.3">&#8722;1</tspan></text>
<text x="272.95" y="293.2" font-size="6.6" text-anchor="middle" fill="#2a2a2a" stroke="#2a2a2a" stroke-width="0.25">10<tspan dy="-3.1" font-size="4.3">0</tspan></text>
<text x="295.70" y="293.2" font-size="6.6" text-anchor="middle" fill="#2a2a2a" stroke="#2a2a2a" stroke-width="0.25">10<tspan dy="-3.1" font-size="4.3">1</tspan></text>
<text x="318.45" y="293.2" font-size="6.6" text-anchor="middle" fill="#2a2a2a" stroke="#2a2a2a" stroke-width="0.25">10<tspan dy="-3.1" font-size="4.3">2</tspan></text>
<text x="341.20" y="293.2" font-size="6.6" text-anchor="middle" fill="#2a2a2a" stroke="#2a2a2a" stroke-width="0.25">10<tspan dy="-3.1" font-size="4.3">3</tspan></text>
<line x1="354.65" y1="280.8" x2="354.65" y2="282.1" stroke="#222" stroke-width="0.55"/>
<line x1="356.85" y1="280.8" x2="356.85" y2="282.1" stroke="#222" stroke-width="0.55"/>
<line x1="358.65" y1="280.8" x2="358.65" y2="282.1" stroke="#222" stroke-width="0.55"/>
<line x1="360.18" y1="280.8" x2="360.18" y2="282.1" stroke="#222" stroke-width="0.55"/>
<line x1="361.50" y1="280.8" x2="361.50" y2="282.1" stroke="#222" stroke-width="0.55"/>
<line x1="362.66" y1="280.8" x2="362.66" y2="282.1" stroke="#222" stroke-width="0.55"/>
<line x1="363.70" y1="280.8" x2="363.70" y2="282.8" stroke="#222" stroke-width="0.55"/>
<line x1="370.55" y1="280.8" x2="370.55" y2="282.1" stroke="#222" stroke-width="0.55"/>
<line x1="374.55" y1="280.8" x2="374.55" y2="282.1" stroke="#222" stroke-width="0.55"/>
<line x1="377.40" y1="280.8" x2="377.40" y2="282.1" stroke="#222" stroke-width="0.55"/>
<line x1="379.60" y1="280.8" x2="379.60" y2="282.1" stroke="#222" stroke-width="0.55"/>
<line x1="381.40" y1="280.8" x2="381.40" y2="282.1" stroke="#222" stroke-width="0.55"/>
<line x1="382.93" y1="280.8" x2="382.93" y2="282.1" stroke="#222" stroke-width="0.55"/>
<line x1="384.25" y1="280.8" x2="384.25" y2="282.1" stroke="#222" stroke-width="0.55"/>
<line x1="385.41" y1="280.8" x2="385.41" y2="282.1" stroke="#222" stroke-width="0.55"/>
<line x1="386.45" y1="280.8" x2="386.45" y2="282.8" stroke="#222" stroke-width="0.55"/>
<line x1="393.30" y1="280.8" x2="393.30" y2="282.1" stroke="#222" stroke-width="0.55"/>
<line x1="397.30" y1="280.8" x2="397.30" y2="282.1" stroke="#222" stroke-width="0.55"/>
<line x1="400.15" y1="280.8" x2="400.15" y2="282.1" stroke="#222" stroke-width="0.55"/>
<line x1="402.35" y1="280.8" x2="402.35" y2="282.1" stroke="#222" stroke-width="0.55"/>
<line x1="404.15" y1="280.8" x2="404.15" y2="282.1" stroke="#222" stroke-width="0.55"/>
<line x1="405.68" y1="280.8" x2="405.68" y2="282.1" stroke="#222" stroke-width="0.55"/>
<line x1="407.00" y1="280.8" x2="407.00" y2="282.1" stroke="#222" stroke-width="0.55"/>
<line x1="408.16" y1="280.8" x2="408.16" y2="282.1" stroke="#222" stroke-width="0.55"/>
<line x1="409.20" y1="280.8" x2="409.20" y2="282.8" stroke="#222" stroke-width="0.55"/>
<line x1="416.05" y1="280.8" x2="416.05" y2="282.1" stroke="#222" stroke-width="0.55"/>
<line x1="420.05" y1="280.8" x2="420.05" y2="282.1" stroke="#222" stroke-width="0.55"/>
<line x1="422.90" y1="280.8" x2="422.90" y2="282.1" stroke="#222" stroke-width="0.55"/>
<line x1="425.10" y1="280.8" x2="425.10" y2="282.1" stroke="#222" stroke-width="0.55"/>
<line x1="426.90" y1="280.8" x2="426.90" y2="282.1" stroke="#222" stroke-width="0.55"/>
<line x1="428.43" y1="280.8" x2="428.43" y2="282.1" stroke="#222" stroke-width="0.55"/>
<line x1="429.75" y1="280.8" x2="429.75" y2="282.1" stroke="#222" stroke-width="0.55"/>
<line x1="430.91" y1="280.8" x2="430.91" y2="282.1" stroke="#222" stroke-width="0.55"/>
<line x1="431.95" y1="280.8" x2="431.95" y2="282.8" stroke="#222" stroke-width="0.55"/>
<line x1="438.80" y1="280.8" x2="438.80" y2="282.1" stroke="#222" stroke-width="0.55"/>
<line x1="442.80" y1="280.8" x2="442.80" y2="282.1" stroke="#222" stroke-width="0.55"/>
<line x1="445.65" y1="280.8" x2="445.65" y2="282.1" stroke="#222" stroke-width="0.55"/>
<line x1="447.85" y1="280.8" x2="447.85" y2="282.1" stroke="#222" stroke-width="0.55"/>
<line x1="449.65" y1="280.8" x2="449.65" y2="282.1" stroke="#222" stroke-width="0.55"/>
<line x1="451.18" y1="280.8" x2="451.18" y2="282.1" stroke="#222" stroke-width="0.55"/>
<line x1="452.50" y1="280.8" x2="452.50" y2="282.1" stroke="#222" stroke-width="0.55"/>
<line x1="453.66" y1="280.8" x2="453.66" y2="282.1" stroke="#222" stroke-width="0.55"/>
<line x1="454.70" y1="280.8" x2="454.70" y2="282.8" stroke="#222" stroke-width="0.55"/>
<line x1="461.55" y1="280.8" x2="461.55" y2="282.1" stroke="#222" stroke-width="0.55"/>
<line x1="465.55" y1="280.8" x2="465.55" y2="282.1" stroke="#222" stroke-width="0.55"/>
<text x="364.30" y="293.2" font-size="6.6" text-anchor="middle" fill="#2a2a2a" stroke="#2a2a2a" stroke-width="0.25">10<tspan dy="-3.1" font-size="4.3">&#8722;1</tspan></text>
<text x="387.05" y="293.2" font-size="6.6" text-anchor="middle" fill="#2a2a2a" stroke="#2a2a2a" stroke-width="0.25">10<tspan dy="-3.1" font-size="4.3">0</tspan></text>
<text x="409.80" y="293.2" font-size="6.6" text-anchor="middle" fill="#2a2a2a" stroke="#2a2a2a" stroke-width="0.25">10<tspan dy="-3.1" font-size="4.3">1</tspan></text>
<text x="432.55" y="293.2" font-size="6.6" text-anchor="middle" fill="#2a2a2a" stroke="#2a2a2a" stroke-width="0.25">10<tspan dy="-3.1" font-size="4.3">2</tspan></text>
<text x="455.30" y="293.2" font-size="6.6" text-anchor="middle" fill="#2a2a2a" stroke="#2a2a2a" stroke-width="0.25">10<tspan dy="-3.1" font-size="4.3">3</tspan></text>
<text x="23.8" y="117" font-size="7" fill="#2a2a2a" stroke="#2a2a2a" stroke-width="0.25">Day 5</text>
<text x="126.9" y="117" font-size="7" fill="#2a2a2a" stroke="#2a2a2a" stroke-width="0.25">Day 6</text>
<text x="241.8" y="117" font-size="7.3" fill="#2a2a2a" stroke="#2a2a2a" stroke-width="0.25">Day 14 - Reticulocytes</text>
<text x="354.8" y="117" font-size="7.3" fill="#2a2a2a" stroke="#2a2a2a" stroke-width="0.25">Day 21 - Reticulocytes</text>
<text x="512.3" y="129.2" font-size="7.6" text-anchor="end" font-style="italic" fill="#2a2a2a" stroke="#2a2a2a" stroke-width="0.25">Control #1</text>
<text x="512.3" y="140.8" font-size="7.2" text-anchor="end" font-style="italic" fill="#2a2a2a" stroke="#2a2a2a" stroke-width="0.25">Isotype</text>
<text x="512.3" y="179.7" font-size="7.5" text-anchor="end" fill="#2a2a2a" stroke="#2a2a2a" stroke-width="0.25">NT Control #1</text>
<text x="512.3" y="198.0" font-size="7.5" text-anchor="end" fill="#2a2a2a" stroke="#2a2a2a" stroke-width="0.25">NT Control #2</text>
<text x="512.3" y="216.2" font-size="7.5" text-anchor="end" fill="#2a2a2a" stroke="#2a2a2a" stroke-width="0.25">NT Control #3</text>
<text x="512.3" y="237.4" font-size="7.6" text-anchor="end" fill="#2a2a2a" stroke="#2a2a2a" stroke-width="0.25">GLUT1 KO #1</text>
<text x="512.3" y="256.5" font-size="7.6" text-anchor="end" fill="#2a2a2a" stroke="#2a2a2a" stroke-width="0.25">GLUT1 KO #2</text>
<text x="512.3" y="275.4" font-size="7.6" text-anchor="end" fill="#2a2a2a" stroke="#2a2a2a" stroke-width="0.25">GLUT1 KO #3</text>
<text x="20.6" y="305.7" font-size="8.4" font-weight="bold" fill="#2a2a2a" textLength="17.6" lengthAdjust="spacingAndGlyphs">GLUT1</text>
<line x1="43.4" y1="303.2" x2="508" y2="303.2" stroke="#1a1a1a" stroke-width="1"/>
<path d="M506.5,300.2 L513.3,303.2 L506.5,306.2 Z" fill="#1a1a1a"/>
<text x="6.7" y="332" font-size="10" font-weight="bold" fill="#000">C</text>
<text x="56.6" y="339.4" font-size="8.6" fill="#2a2a2a" stroke="#2a2a2a" stroke-width="0.25">Technical replicate 2</text>
<line x1="6.9" y1="378.5" x2="42.4" y2="378.5" stroke="#aaa" stroke-width="0.8"/>
<line x1="45" y1="378.5" x2="147.5" y2="378.5" stroke="#a8a8a8" stroke-width="0.8"/>
<line x1="45" y1="396.3" x2="147.5" y2="396.3" stroke="#c8c8c8" stroke-width="0.8"/>
<line x1="45" y1="413.1" x2="147.5" y2="413.1" stroke="#c8c8c8" stroke-width="0.8"/>
<line x1="6.9" y1="430.6" x2="42.4" y2="430.6" stroke="#aaa" stroke-width="0.8"/>
<line x1="45" y1="430.6" x2="147.5" y2="430.6" stroke="#a8a8a8" stroke-width="0.8"/>
<line x1="45" y1="447.7" x2="147.5" y2="447.7" stroke="#c8c8c8" stroke-width="0.8"/>
<line x1="45" y1="464.7" x2="147.5" y2="464.7" stroke="#c8c8c8" stroke-width="0.8"/>
<path d="M45.00,378.50 L45.00,378.46 L45.25,378.41 L45.50,378.34 L45.75,378.24 L46.00,378.10 L46.25,377.94 L46.50,377.75 L46.75,377.55 L47.00,377.32 L47.25,377.09 L47.50,376.84 L47.75,376.57 L48.00,376.29 L48.25,376.00 L48.50,375.69 L48.75,375.36 L49.00,375.01 L49.25,374.65 L49.50,374.27 L49.75,373.87 L50.00,373.45 L50.25,373.02 L50.50,372.57 L50.75,372.10 L51.00,371.61 L51.25,371.10 L51.50,370.57 L51.75,370.03 L52.00,369.46 L52.25,368.89 L52.50,368.29 L52.75,367.68 L53.00,367.05 L53.25,366.40 L53.50,365.73 L53.75,365.04 L54.00,364.34 L54.25,363.62 L54.50,362.88 L54.75,362.12 L55.00,361.36 L55.25,360.58 L55.50,359.79 L55.75,358.98 L56.00,358.16 L56.25,357.32 L56.50,356.45 L56.75,355.55 L57.00,354.61 L57.25,353.64 L57.50,352.64 L57.75,351.62 L58.00,350.61 L58.25,349.66 L58.50,348.81 L58.75,348.09 L59.00,347.53 L59.25,347.15 L59.50,346.95 L59.75,346.94 L60.00,347.10 L60.25,347.44 L60.50,347.94 L60.75,348.58 L61.00,349.34 L61.25,350.22 L61.50,351.18 L61.75,352.20 L62.00,353.26 L62.25,354.35 L62.50,355.46 L62.75,356.58 L63.00,357.73 L63.25,358.90 L63.50,360.09 L63.75,361.32 L64.00,362.57 L64.25,363.82 L64.50,365.07 L64.75,366.28 L65.00,367.44 L65.25,368.54 L65.50,369.58 L65.75,370.54 L66.00,371.44 L66.25,372.27 L66.50,373.03 L66.75,373.73 L67.00,374.36 L67.25,374.93 L67.50,375.44 L67.75,375.88 L68.00,376.26 L68.25,376.59 L68.50,376.88 L68.75,377.12 L69.00,377.33 L69.25,377.52 L69.50,377.68 L69.75,377.82 L70.00,377.93 L70.25,378.03 L70.50,378.11 L70.75,378.18 L71.00,378.24 L71.25,378.29 L71.50,378.34 L71.75,378.38 L72.00,378.41 L72.25,378.44 L72.25,378.50 Z" fill="#9b9dab" stroke="#838596" stroke-width="0.45"/>
<path d="M77.25,396.30 L77.25,396.25 L77.50,396.22 L77.75,396.19 L78.00,396.15 L78.25,396.11 L78.50,396.07 L78.75,396.02 L79.00,395.97 L79.25,395.91 L79.50,395.86 L79.75,395.80 L80.00,395.74 L80.25,395.68 L80.50,395.61 L80.75,395.55 L81.00,395.48 L81.25,395.40 L81.50,395.33 L81.75,395.25 L82.00,395.16 L82.25,395.08 L82.50,394.99 L82.75,394.89 L83.00,394.79 L83.25,394.68 L83.50,394.57 L83.75,394.46 L84.00,394.34 L84.25,394.21 L84.50,394.07 L84.75,393.93 L85.00,393.77 L85.25,393.60 L85.50,393.41 L85.75,393.20 L86.00,392.97 L86.25,392.71 L86.50,392.44 L86.75,392.15 L87.00,391.84 L87.25,391.53 L87.50,391.20 L87.75,390.87 L88.00,390.53 L88.25,390.18 L88.50,389.83 L88.75,389.47 L89.00,389.09 L89.25,388.71 L89.50,388.31 L89.75,387.91 L90.00,387.49 L90.25,387.07 L90.50,386.63 L90.75,386.19 L91.00,385.74 L91.25,385.29 L91.50,384.82 L91.75,384.35 L92.00,383.86 L92.25,383.37 L92.50,382.86 L92.75,382.35 L93.00,381.82 L93.25,381.29 L93.50,380.74 L93.75,380.19 L94.00,379.63 L94.25,379.06 L94.50,378.49 L94.75,377.90 L95.00,377.31 L95.25,376.69 L95.50,376.06 L95.75,375.41 L96.00,374.73 L96.25,374.01 L96.50,373.27 L96.75,372.50 L97.00,371.72 L97.25,370.95 L97.50,370.20 L97.75,369.49 L98.00,368.82 L98.25,368.21 L98.50,367.64 L98.75,367.12 L99.00,366.64 L99.25,366.21 L99.50,365.83 L99.75,365.49 L100.00,365.20 L100.25,364.93 L100.50,364.70 L100.75,364.50 L101.00,364.32 L101.25,364.17 L101.50,364.05 L101.75,363.96 L102.00,363.91 L102.25,363.90 L102.50,363.93 L102.75,363.99 L103.00,364.09 L103.25,364.22 L103.50,364.38 L103.75,364.57 L104.00,364.79 L104.25,365.04 L104.50,365.35 L104.75,365.71 L105.00,366.13 L105.25,366.61 L105.50,367.16 L105.75,367.77 L106.00,368.42 L106.25,369.09 L106.50,369.79 L106.75,370.50 L107.00,371.21 L107.25,371.91 L107.50,372.59 L107.75,373.23 L108.00,373.82 L108.25,374.37 L108.50,374.87 L108.75,375.32 L109.00,375.75 L109.25,376.16 L109.50,376.57 L109.75,376.97 L110.00,377.37 L110.25,377.80 L110.50,378.24 L110.75,378.71 L111.00,379.20 L111.25,379.73 L111.50,380.27 L111.75,380.83 L112.00,381.40 L112.25,381.98 L112.50,382.57 L112.75,383.14 L113.00,383.71 L113.25,384.26 L113.50,384.79 L113.75,385.31 L114.00,385.82 L114.25,386.31 L114.50,386.80 L114.75,387.28 L115.00,387.75 L115.25,388.21 L115.50,388.65 L115.75,389.08 L116.00,389.49 L116.25,389.88 L116.50,390.24 L116.75,390.57 L117.00,390.88 L117.25,391.16 L117.50,391.41 L117.75,391.65 L118.00,391.87 L118.25,392.08 L118.50,392.28 L118.75,392.47 L119.00,392.65 L119.25,392.82 L119.50,392.99 L119.75,393.15 L120.00,393.29 L120.25,393.44 L120.50,393.57 L120.75,393.69 L121.00,393.81 L121.25,393.92 L121.50,394.02 L121.75,394.12 L122.00,394.21 L122.25,394.29 L122.50,394.36 L122.75,394.44 L123.00,394.50 L123.25,394.57 L123.50,394.63 L123.75,394.68 L124.00,394.74 L124.25,394.79 L124.50,394.84 L124.75,394.89 L125.00,394.94 L125.25,394.99 L125.50,395.04 L125.75,395.09 L126.00,395.14 L126.25,395.20 L126.50,395.25 L126.75,395.32 L127.00,395.38 L127.25,395.44 L127.50,395.51 L127.75,395.58 L128.00,395.66 L128.25,395.73 L128.50,395.81 L128.75,395.89 L129.00,395.97 L129.25,396.04 L129.50,396.11 L129.75,396.17 L130.00,396.22 L130.25,396.26 L130.25,396.30 Z" fill="#c0d7a2" stroke="#a4bc88" stroke-width="0.45" style="mix-blend-mode:multiply"/>
<path d="M77.25,413.10 L77.25,413.06 L77.50,413.04 L77.75,413.01 L78.00,412.99 L78.25,412.96 L78.50,412.93 L78.75,412.89 L79.00,412.86 L79.25,412.83 L79.50,412.80 L79.75,412.76 L80.00,412.73 L80.25,412.70 L80.50,412.66 L80.75,412.63 L81.00,412.60 L81.25,412.57 L81.50,412.53 L81.75,412.50 L82.00,412.46 L82.25,412.43 L82.50,412.39 L82.75,412.35 L83.00,412.32 L83.25,412.28 L83.50,412.23 L83.75,412.19 L84.00,412.15 L84.25,412.10 L84.50,412.05 L84.75,412.00 L85.00,411.94 L85.25,411.88 L85.50,411.82 L85.75,411.76 L86.00,411.69 L86.25,411.61 L86.50,411.53 L86.75,411.44 L87.00,411.34 L87.25,411.22 L87.50,411.10 L87.75,410.96 L88.00,410.81 L88.25,410.65 L88.50,410.48 L88.75,410.30 L89.00,410.10 L89.25,409.89 L89.50,409.67 L89.75,409.44 L90.00,409.20 L90.25,408.94 L90.50,408.67 L90.75,408.38 L91.00,408.06 L91.25,407.70 L91.50,407.31 L91.75,406.88 L92.00,406.40 L92.25,405.88 L92.50,405.32 L92.75,404.72 L93.00,404.08 L93.25,403.39 L93.50,402.66 L93.75,401.88 L94.00,401.07 L94.25,400.24 L94.50,399.41 L94.75,398.61 L95.00,397.85 L95.25,397.13 L95.50,396.45 L95.75,395.81 L96.00,395.21 L96.25,394.62 L96.50,394.06 L96.75,393.52 L97.00,392.98 L97.25,392.47 L97.50,391.96 L97.75,391.46 L98.00,390.97 L98.25,390.49 L98.50,390.02 L98.75,389.56 L99.00,389.11 L99.25,388.67 L99.50,388.24 L99.75,387.82 L100.00,387.41 L100.25,387.00 L100.50,386.60 L100.75,386.20 L101.00,385.80 L101.25,385.41 L101.50,385.02 L101.75,384.63 L102.00,384.26 L102.25,383.90 L102.50,383.56 L102.75,383.24 L103.00,382.94 L103.25,382.66 L103.50,382.41 L103.75,382.18 L104.00,381.97 L104.25,381.79 L104.50,381.63 L104.75,381.50 L105.00,381.42 L105.25,381.40 L105.50,381.46 L105.75,381.61 L106.00,381.85 L106.25,382.20 L106.50,382.65 L106.75,383.19 L107.00,383.80 L107.25,384.46 L107.50,385.13 L107.75,385.78 L108.00,386.41 L108.25,387.00 L108.50,387.54 L108.75,388.05 L109.00,388.54 L109.25,389.00 L109.50,389.44 L109.75,389.87 L110.00,390.29 L110.25,390.70 L110.50,391.11 L110.75,391.51 L111.00,391.91 L111.25,392.30 L111.50,392.69 L111.75,393.06 L112.00,393.43 L112.25,393.79 L112.50,394.15 L112.75,394.51 L113.00,394.88 L113.25,395.25 L113.50,395.63 L113.75,396.03 L114.00,396.45 L114.25,396.88 L114.50,397.34 L114.75,397.83 L115.00,398.34 L115.25,398.87 L115.50,399.43 L115.75,399.99 L116.00,400.56 L116.25,401.12 L116.50,401.68 L116.75,402.23 L117.00,402.76 L117.25,403.28 L117.50,403.79 L117.75,404.28 L118.00,404.77 L118.25,405.25 L118.50,405.72 L118.75,406.18 L119.00,406.63 L119.25,407.06 L119.50,407.47 L119.75,407.86 L120.00,408.22 L120.25,408.56 L120.50,408.86 L120.75,409.14 L121.00,409.40 L121.25,409.63 L121.50,409.85 L121.75,410.06 L122.00,410.25 L122.25,410.43 L122.50,410.60 L122.75,410.76 L123.00,410.92 L123.25,411.07 L123.50,411.21 L123.75,411.35 L124.00,411.48 L124.25,411.61 L124.50,411.74 L124.75,411.86 L125.00,411.98 L125.25,412.09 L125.50,412.20 L125.75,412.31 L126.00,412.41 L126.25,412.51 L126.50,412.61 L126.75,412.70 L127.00,412.78 L127.25,412.86 L127.50,412.93 L127.75,412.99 L128.00,413.03 L128.25,413.06 L128.25,413.10 Z" fill="#acdcdc" stroke="#90c2c2" stroke-width="0.45" style="mix-blend-mode:multiply"/>
<path d="M75.75,430.60 L75.75,430.55 L76.00,430.50 L76.25,430.44 L76.50,430.36 L76.75,430.27 L77.00,430.16 L77.25,430.04 L77.50,429.92 L77.75,429.79 L78.00,429.66 L78.25,429.52 L78.50,429.38 L78.75,429.23 L79.00,429.08 L79.25,428.93 L79.50,428.77 L79.75,428.60 L80.00,428.44 L80.25,428.26 L80.50,428.08 L80.75,427.90 L81.00,427.71 L81.25,427.51 L81.50,427.30 L81.75,427.09 L82.00,426.88 L82.25,426.66 L82.50,426.43 L82.75,426.19 L83.00,425.95 L83.25,425.71 L83.50,425.45 L83.75,425.19 L84.00,424.93 L84.25,424.65 L84.50,424.37 L84.75,424.08 L85.00,423.77 L85.25,423.46 L85.50,423.14 L85.75,422.81 L86.00,422.46 L86.25,422.11 L86.50,421.74 L86.75,421.36 L87.00,420.96 L87.25,420.55 L87.50,420.11 L87.75,419.65 L88.00,419.17 L88.25,418.67 L88.50,418.15 L88.75,417.62 L89.00,417.08 L89.25,416.54 L89.50,415.99 L89.75,415.46 L90.00,414.93 L90.25,414.40 L90.50,413.88 L90.75,413.37 L91.00,412.87 L91.25,412.36 L91.50,411.86 L91.75,411.36 L92.00,410.85 L92.25,410.35 L92.50,409.85 L92.75,409.35 L93.00,408.84 L93.25,408.33 L93.50,407.83 L93.75,407.32 L94.00,406.81 L94.25,406.30 L94.50,405.79 L94.75,405.28 L95.00,404.78 L95.25,404.28 L95.50,403.79 L95.75,403.29 L96.00,402.80 L96.25,402.30 L96.50,401.81 L96.75,401.32 L97.00,400.85 L97.25,400.39 L97.50,399.96 L97.75,399.56 L98.00,399.20 L98.25,398.89 L98.50,398.61 L98.75,398.38 L99.00,398.20 L99.25,398.07 L99.50,398.01 L99.75,398.01 L100.00,398.08 L100.25,398.21 L100.50,398.40 L100.75,398.63 L101.00,398.90 L101.25,399.21 L101.50,399.56 L101.75,399.95 L102.00,400.37 L102.25,400.82 L102.50,401.28 L102.75,401.75 L103.00,402.23 L103.25,402.69 L103.50,403.15 L103.75,403.60 L104.00,404.04 L104.25,404.48 L104.50,404.92 L104.75,405.36 L105.00,405.81 L105.25,406.26 L105.50,406.72 L105.75,407.19 L106.00,407.68 L106.25,408.18 L106.50,408.71 L106.75,409.26 L107.00,409.84 L107.25,410.43 L107.50,411.06 L107.75,411.69 L108.00,412.34 L108.25,412.99 L108.50,413.64 L108.75,414.28 L109.00,414.91 L109.25,415.53 L109.50,416.13 L109.75,416.72 L110.00,417.30 L110.25,417.87 L110.50,418.44 L110.75,418.99 L111.00,419.53 L111.25,420.07 L111.50,420.59 L111.75,421.11 L112.00,421.61 L112.25,422.11 L112.50,422.59 L112.75,423.06 L113.00,423.52 L113.25,423.96 L113.50,424.38 L113.75,424.79 L114.00,425.17 L114.25,425.54 L114.50,425.89 L114.75,426.23 L115.00,426.54 L115.25,426.84 L115.50,427.13 L115.75,427.39 L116.00,427.65 L116.25,427.90 L116.50,428.13 L116.75,428.36 L117.00,428.58 L117.25,428.78 L117.50,428.98 L117.75,429.16 L118.00,429.33 L118.25,429.49 L118.50,429.63 L118.75,429.75 L119.00,429.86 L119.25,429.96 L119.50,430.06 L119.75,430.14 L120.00,430.22 L120.25,430.29 L120.50,430.36 L120.75,430.42 L121.00,430.47 L121.25,430.51 L121.50,430.54 L121.50,430.60 Z" fill="#adc6ea" stroke="#92abd0" stroke-width="0.45" style="mix-blend-mode:multiply"/>
<path d="M44.50,447.70 L44.50,447.66 L44.75,447.63 L45.00,447.57 L45.25,447.49 L45.50,447.39 L45.75,447.28 L46.00,447.15 L46.25,447.02 L46.50,446.89 L46.75,446.76 L47.00,446.63 L47.25,446.51 L47.50,446.38 L47.75,446.26 L48.00,446.14 L48.25,446.03 L48.50,445.92 L48.75,445.80 L49.00,445.69 L49.25,445.58 L49.50,445.46 L49.75,445.34 L50.00,445.22 L50.25,445.09 L50.50,444.95 L50.75,444.81 L51.00,444.66 L51.25,444.50 L51.50,444.32 L51.75,444.14 L52.00,443.93 L52.25,443.72 L52.50,443.49 L52.75,443.24 L53.00,442.97 L53.25,442.69 L53.50,442.39 L53.75,442.08 L54.00,441.75 L54.25,441.40 L54.50,441.04 L54.75,440.67 L55.00,440.27 L55.25,439.86 L55.50,439.42 L55.75,438.96 L56.00,438.47 L56.25,437.94 L56.50,437.38 L56.75,436.79 L57.00,436.17 L57.25,435.51 L57.50,434.83 L57.75,434.12 L58.00,433.38 L58.25,432.62 L58.50,431.82 L58.75,430.98 L59.00,430.10 L59.25,429.18 L59.50,428.22 L59.75,427.22 L60.00,426.19 L60.25,425.14 L60.50,424.05 L60.75,422.96 L61.00,421.86 L61.25,420.78 L61.50,419.77 L61.75,418.86 L62.00,418.09 L62.25,417.50 L62.50,417.10 L62.75,416.91 L63.00,416.94 L63.25,417.18 L63.50,417.61 L63.75,418.21 L64.00,418.95 L64.25,419.82 L64.50,420.77 L64.75,421.79 L65.00,422.84 L65.25,423.90 L65.50,424.96 L65.75,426.02 L66.00,427.08 L66.25,428.12 L66.50,429.16 L66.75,430.17 L67.00,431.17 L67.25,432.16 L67.50,433.13 L67.75,434.08 L68.00,435.00 L68.25,435.90 L68.50,436.75 L68.75,437.54 L69.00,438.28 L69.25,438.95 L69.50,439.55 L69.75,440.10 L70.00,440.61 L70.25,441.08 L70.50,441.51 L70.75,441.92 L71.00,442.30 L71.25,442.66 L71.50,443.00 L71.75,443.32 L72.00,443.62 L72.25,443.91 L72.50,444.18 L72.75,444.44 L73.00,444.69 L73.25,444.93 L73.50,445.16 L73.75,445.38 L74.00,445.59 L74.25,445.78 L74.50,445.96 L74.75,446.13 L75.00,446.28 L75.25,446.42 L75.50,446.54 L75.75,446.66 L76.00,446.76 L76.25,446.86 L76.50,446.95 L76.75,447.03 L77.00,447.10 L77.25,447.16 L77.50,447.21 L77.75,447.24 L78.00,447.26 L78.25,447.28 L78.50,447.28 L78.75,447.29 L79.00,447.29 L79.25,447.29 L79.50,447.29 L79.75,447.29 L80.00,447.29 L80.25,447.28 L80.50,447.28 L80.75,447.27 L81.00,447.26 L81.25,447.24 L81.50,447.22 L81.75,447.20 L82.00,447.18 L82.25,447.16 L82.50,447.13 L82.75,447.10 L83.00,447.06 L83.25,447.03 L83.50,446.99 L83.75,446.95 L84.00,446.91 L84.25,446.87 L84.50,446.82 L84.75,446.77 L85.00,446.72 L85.25,446.67 L85.50,446.62 L85.75,446.57 L86.00,446.51 L86.25,446.46 L86.50,446.40 L86.75,446.34 L87.00,446.28 L87.25,446.21 L87.50,446.14 L87.75,446.06 L88.00,445.97 L88.25,445.87 L88.50,445.76 L88.75,445.64 L89.00,445.50 L89.25,445.36 L89.50,445.21 L89.75,445.05 L90.00,444.89 L90.25,444.72 L90.50,444.54 L90.75,444.37 L91.00,444.19 L91.25,444.01 L91.50,443.84 L91.75,443.66 L92.00,443.49 L92.25,443.33 L92.50,443.17 L92.75,443.01 L93.00,442.86 L93.25,442.72 L93.50,442.57 L93.75,442.43 L94.00,442.30 L94.25,442.16 L94.50,442.02 L94.75,441.88 L95.00,441.74 L95.25,441.61 L95.50,441.48 L95.75,441.35 L96.00,441.23 L96.25,441.11 L96.50,441.00 L96.75,440.90 L97.00,440.81 L97.25,440.72 L97.50,440.65 L97.75,440.59 L98.00,440.53 L98.25,440.48 L98.50,440.44 L98.75,440.40 L99.00,440.36 L99.25,440.33 L99.50,440.31 L99.75,440.29 L100.00,440.27 L100.25,440.25 L100.50,440.24 L100.75,440.24 L101.00,440.24 L101.25,440.25 L101.50,440.26 L101.75,440.28 L102.00,440.30 L102.25,440.33 L102.50,440.35 L102.75,440.39 L103.00,440.42 L103.25,440.46 L103.50,440.50 L103.75,440.54 L104.00,440.59 L104.25,440.64 L104.50,440.70 L104.75,440.75 L105.00,440.82 L105.25,440.88 L105.50,440.95 L105.75,441.02 L106.00,441.09 L106.25,441.16 L106.50,441.24 L106.75,441.32 L107.00,441.40 L107.25,441.49 L107.50,441.57 L107.75,441.66 L108.00,441.74 L108.25,441.83 L108.50,441.92 L108.75,442.01 L109.00,442.10 L109.25,442.19 L109.50,442.28 L109.75,442.37 L110.00,442.46 L110.25,442.55 L110.50,442.64 L110.75,442.74 L111.00,442.83 L111.25,442.92 L111.50,443.02 L111.75,443.12 L112.00,443.22 L112.25,443.32 L112.50,443.42 L112.75,443.52 L113.00,443.63 L113.25,443.73 L113.50,443.84 L113.75,443.94 L114.00,444.05 L114.25,444.16 L114.50,444.26 L114.75,444.37 L115.00,444.47 L115.25,444.57 L115.50,444.68 L115.75,444.78 L116.00,444.88 L116.25,444.98 L116.50,445.07 L116.75,445.17 L117.00,445.27 L117.25,445.37 L117.50,445.47 L117.75,445.57 L118.00,445.67 L118.25,445.77 L118.50,445.87 L118.75,445.97 L119.00,446.07 L119.25,446.16 L119.50,446.26 L119.75,446.35 L120.00,446.44 L120.25,446.53 L120.50,446.62 L120.75,446.70 L121.00,446.78 L121.25,446.85 L121.50,446.92 L121.75,446.99 L122.00,447.05 L122.25,447.11 L122.50,447.17 L122.75,447.22 L123.00,447.28 L123.25,447.33 L123.50,447.38 L123.75,447.42 L124.00,447.47 L124.25,447.51 L124.50,447.55 L124.75,447.58 L125.00,447.62 L125.25,447.64 L125.25,447.70 Z" fill="#e0a09c" stroke="#c88884" stroke-width="0.45" style="mix-blend-mode:multiply"/>
<path d="M44.50,464.70 L44.50,464.65 L44.75,464.60 L45.00,464.52 L45.25,464.41 L45.50,464.28 L45.75,464.12 L46.00,463.95 L46.25,463.78 L46.50,463.60 L46.75,463.43 L47.00,463.26 L47.25,463.10 L47.50,462.95 L47.75,462.80 L48.00,462.65 L48.25,462.52 L48.50,462.38 L48.75,462.24 L49.00,462.10 L49.25,461.96 L49.50,461.82 L49.75,461.66 L50.00,461.50 L50.25,461.32 L50.50,461.13 L50.75,460.91 L51.00,460.68 L51.25,460.42 L51.50,460.14 L51.75,459.83 L52.00,459.50 L52.25,459.14 L52.50,458.77 L52.75,458.37 L53.00,457.95 L53.25,457.52 L53.50,457.07 L53.75,456.61 L54.00,456.13 L54.25,455.63 L54.50,455.11 L54.75,454.56 L55.00,454.00 L55.25,453.40 L55.50,452.79 L55.75,452.14 L56.00,451.48 L56.25,450.79 L56.50,450.08 L56.75,449.34 L57.00,448.56 L57.25,447.75 L57.50,446.89 L57.75,445.99 L58.00,445.06 L58.25,444.11 L58.50,443.14 L58.75,442.18 L59.00,441.24 L59.25,440.32 L59.50,439.42 L59.75,438.56 L60.00,437.72 L60.25,436.92 L60.50,436.15 L60.75,435.45 L61.00,434.80 L61.25,434.23 L61.50,433.75 L61.75,433.35 L62.00,433.05 L62.25,432.86 L62.50,432.80 L62.75,432.86 L63.00,433.05 L63.25,433.35 L63.50,433.74 L63.75,434.23 L64.00,434.80 L64.25,435.44 L64.50,436.14 L64.75,436.91 L65.00,437.71 L65.25,438.56 L65.50,439.43 L65.75,440.34 L66.00,441.27 L66.25,442.24 L66.50,443.22 L66.75,444.22 L67.00,445.21 L67.25,446.20 L67.50,447.17 L67.75,448.11 L68.00,449.04 L68.25,449.94 L68.50,450.82 L68.75,451.68 L69.00,452.52 L69.25,453.33 L69.50,454.10 L69.75,454.84 L70.00,455.55 L70.25,456.21 L70.50,456.85 L70.75,457.45 L71.00,458.02 L71.25,458.57 L71.50,459.08 L71.75,459.55 L72.00,459.99 L72.25,460.39 L72.50,460.75 L72.75,461.08 L73.00,461.39 L73.25,461.67 L73.50,461.93 L73.75,462.18 L74.00,462.41 L74.25,462.62 L74.50,462.82 L74.75,463.00 L75.00,463.17 L75.25,463.32 L75.50,463.45 L75.75,463.58 L76.00,463.70 L76.25,463.81 L76.50,463.91 L76.75,464.00 L77.00,464.08 L77.25,464.15 L77.50,464.20 L77.75,464.24 L78.00,464.26 L78.25,464.28 L78.50,464.29 L78.75,464.29 L79.00,464.29 L79.25,464.29 L79.50,464.29 L79.75,464.29 L80.00,464.29 L80.25,464.29 L80.50,464.29 L80.75,464.29 L81.00,464.29 L81.25,464.29 L81.50,464.29 L81.75,464.28 L82.00,464.27 L82.25,464.26 L82.50,464.24 L82.75,464.21 L83.00,464.18 L83.25,464.14 L83.50,464.09 L83.75,464.04 L84.00,463.98 L84.25,463.93 L84.50,463.87 L84.75,463.80 L85.00,463.74 L85.25,463.68 L85.50,463.61 L85.75,463.55 L86.00,463.48 L86.25,463.42 L86.50,463.35 L86.75,463.28 L87.00,463.21 L87.25,463.14 L87.50,463.07 L87.75,462.99 L88.00,462.91 L88.25,462.83 L88.50,462.75 L88.75,462.66 L89.00,462.57 L89.25,462.48 L89.50,462.38 L89.75,462.29 L90.00,462.18 L90.25,462.08 L90.50,461.97 L90.75,461.86 L91.00,461.73 L91.25,461.60 L91.50,461.47 L91.75,461.32 L92.00,461.17 L92.25,461.00 L92.50,460.84 L92.75,460.67 L93.00,460.50 L93.25,460.33 L93.50,460.16 L93.75,460.00 L94.00,459.83 L94.25,459.67 L94.50,459.51 L94.75,459.36 L95.00,459.20 L95.25,459.06 L95.50,458.93 L95.75,458.82 L96.00,458.73 L96.25,458.65 L96.50,458.59 L96.75,458.54 L97.00,458.50 L97.25,458.46 L97.50,458.43 L97.75,458.40 L98.00,458.37 L98.25,458.35 L98.50,458.33 L98.75,458.31 L99.00,458.29 L99.25,458.27 L99.50,458.25 L99.75,458.23 L100.00,458.21 L100.25,458.19 L100.50,458.17 L100.75,458.15 L101.00,458.14 L101.25,458.12 L101.50,458.10 L101.75,458.09 L102.00,458.07 L102.25,458.06 L102.50,458.05 L102.75,458.04 L103.00,458.03 L103.25,458.03 L103.50,458.02 L103.75,458.02 L104.00,458.02 L104.25,458.02 L104.50,458.03 L104.75,458.03 L105.00,458.05 L105.25,458.06 L105.50,458.07 L105.75,458.09 L106.00,458.11 L106.25,458.13 L106.50,458.15 L106.75,458.18 L107.00,458.20 L107.25,458.23 L107.50,458.26 L107.75,458.28 L108.00,458.31 L108.25,458.33 L108.50,458.36 L108.75,458.38 L109.00,458.41 L109.25,458.44 L109.50,458.47 L109.75,458.50 L110.00,458.53 L110.25,458.58 L110.50,458.63 L110.75,458.70 L111.00,458.78 L111.25,458.87 L111.50,458.98 L111.75,459.11 L112.00,459.24 L112.25,459.39 L112.50,459.53 L112.75,459.68 L113.00,459.83 L113.25,459.98 L113.50,460.13 L113.75,460.27 L114.00,460.42 L114.25,460.56 L114.50,460.70 L114.75,460.84 L115.00,460.99 L115.25,461.13 L115.50,461.27 L115.75,461.41 L116.00,461.54 L116.25,461.68 L116.50,461.81 L116.75,461.95 L117.00,462.08 L117.25,462.22 L117.50,462.36 L117.75,462.50 L118.00,462.63 L118.25,462.77 L118.50,462.90 L118.75,463.03 L119.00,463.16 L119.25,463.28 L119.50,463.39 L119.75,463.49 L120.00,463.59 L120.25,463.67 L120.50,463.74 L120.75,463.81 L121.00,463.87 L121.25,463.91 L121.50,463.96 L121.75,463.99 L122.00,464.03 L122.25,464.06 L122.50,464.08 L122.75,464.11 L123.00,464.14 L123.25,464.16 L123.50,464.18 L123.75,464.20 L124.00,464.22 L124.25,464.24 L124.50,464.27 L124.75,464.29 L125.00,464.31 L125.25,464.33 L125.50,464.35 L125.75,464.37 L126.00,464.40 L126.25,464.42 L126.50,464.45 L126.75,464.47 L127.00,464.50 L127.25,464.52 L127.50,464.55 L127.75,464.57 L128.00,464.60 L128.25,464.62 L128.50,464.64 L128.50,464.70 Z" fill="#efc090" stroke="#d6a878" stroke-width="0.45" style="mix-blend-mode:multiply"/>
<path d="M44.75,481.60 L44.75,481.56 L45.00,481.52 L45.25,481.47 L45.50,481.40 L45.75,481.32 L46.00,481.23 L46.25,481.14 L46.50,481.03 L46.75,480.92 L47.00,480.81 L47.25,480.69 L47.50,480.57 L47.75,480.45 L48.00,480.32 L48.25,480.18 L48.50,480.04 L48.75,479.90 L49.00,479.75 L49.25,479.59 L49.50,479.42 L49.75,479.25 L50.00,479.06 L50.25,478.86 L50.50,478.65 L50.75,478.43 L51.00,478.18 L51.25,477.92 L51.50,477.63 L51.75,477.32 L52.00,476.98 L52.25,476.62 L52.50,476.24 L52.75,475.85 L53.00,475.43 L53.25,475.00 L53.50,474.55 L53.75,474.09 L54.00,473.61 L54.25,473.11 L54.50,472.59 L54.75,472.05 L55.00,471.48 L55.25,470.89 L55.50,470.28 L55.75,469.64 L56.00,468.97 L56.25,468.28 L56.50,467.55 L56.75,466.80 L57.00,466.00 L57.25,465.15 L57.50,464.26 L57.75,463.32 L58.00,462.33 L58.25,461.32 L58.50,460.28 L58.75,459.24 L59.00,458.21 L59.25,457.20 L59.50,456.20 L59.75,455.23 L60.00,454.29 L60.25,453.38 L60.50,452.53 L60.75,451.75 L61.00,451.05 L61.25,450.46 L61.50,449.98 L61.75,449.64 L62.00,449.44 L62.25,449.41 L62.50,449.53 L62.75,449.81 L63.00,450.24 L63.25,450.80 L63.50,451.48 L63.75,452.25 L64.00,453.11 L64.25,454.03 L64.50,455.00 L64.75,456.00 L65.00,457.03 L65.25,458.07 L65.50,459.14 L65.75,460.21 L66.00,461.28 L66.25,462.34 L66.50,463.37 L66.75,464.37 L67.00,465.32 L67.25,466.24 L67.50,467.11 L67.75,467.96 L68.00,468.77 L68.25,469.55 L68.50,470.30 L68.75,471.01 L69.00,471.68 L69.25,472.31 L69.50,472.90 L69.75,473.45 L70.00,473.96 L70.25,474.44 L70.50,474.90 L70.75,475.33 L71.00,475.74 L71.25,476.13 L71.50,476.50 L71.75,476.85 L72.00,477.18 L72.25,477.49 L72.50,477.78 L72.75,478.06 L73.00,478.32 L73.25,478.56 L73.50,478.79 L73.75,479.01 L74.00,479.22 L74.25,479.42 L74.50,479.61 L74.75,479.78 L75.00,479.93 L75.25,480.06 L75.50,480.17 L75.75,480.26 L76.00,480.33 L76.25,480.39 L76.50,480.43 L76.75,480.47 L77.00,480.50 L77.25,480.53 L77.50,480.55 L77.75,480.58 L78.00,480.60 L78.25,480.61 L78.50,480.63 L78.75,480.64 L79.00,480.66 L79.25,480.66 L79.50,480.67 L79.75,480.67 L80.00,480.68 L80.25,480.67 L80.50,480.67 L80.75,480.66 L81.00,480.65 L81.25,480.64 L81.50,480.62 L81.75,480.61 L82.00,480.59 L82.25,480.57 L82.50,480.54 L82.75,480.52 L83.00,480.49 L83.25,480.46 L83.50,480.43 L83.75,480.40 L84.00,480.36 L84.25,480.32 L84.50,480.27 L84.75,480.22 L85.00,480.16 L85.25,480.09 L85.50,480.02 L85.75,479.94 L86.00,479.85 L86.25,479.76 L86.50,479.66 L86.75,479.56 L87.00,479.46 L87.25,479.35 L87.50,479.24 L87.75,479.12 L88.00,478.99 L88.25,478.85 L88.50,478.70 L88.75,478.54 L89.00,478.38 L89.25,478.20 L89.50,478.02 L89.75,477.83 L90.00,477.64 L90.25,477.45 L90.50,477.25 L90.75,477.05 L91.00,476.86 L91.25,476.66 L91.50,476.46 L91.75,476.27 L92.00,476.08 L92.25,475.90 L92.50,475.72 L92.75,475.55 L93.00,475.39 L93.25,475.23 L93.50,475.08 L93.75,474.93 L94.00,474.78 L94.25,474.64 L94.50,474.50 L94.75,474.37 L95.00,474.24 L95.25,474.13 L95.50,474.02 L95.75,473.93 L96.00,473.85 L96.25,473.77 L96.50,473.71 L96.75,473.66 L97.00,473.63 L97.25,473.61 L97.50,473.60 L97.75,473.61 L98.00,473.62 L98.25,473.65 L98.50,473.68 L98.75,473.72 L99.00,473.76 L99.25,473.81 L99.50,473.85 L99.75,473.91 L100.00,473.96 L100.25,474.02 L100.50,474.09 L100.75,474.16 L101.00,474.23 L101.25,474.31 L101.50,474.39 L101.75,474.48 L102.00,474.57 L102.25,474.66 L102.50,474.75 L102.75,474.84 L103.00,474.93 L103.25,475.02 L103.50,475.11 L103.75,475.21 L104.00,475.30 L104.25,475.39 L104.50,475.49 L104.75,475.58 L105.00,475.68 L105.25,475.78 L105.50,475.88 L105.75,475.98 L106.00,476.08 L106.25,476.18 L106.50,476.28 L106.75,476.39 L107.00,476.49 L107.25,476.60 L107.50,476.70 L107.75,476.81 L108.00,476.92 L108.25,477.03 L108.50,477.13 L108.75,477.24 L109.00,477.35 L109.25,477.46 L109.50,477.56 L109.75,477.67 L110.00,477.78 L110.25,477.89 L110.50,478.00 L110.75,478.11 L111.00,478.22 L111.25,478.33 L111.50,478.45 L111.75,478.56 L112.00,478.68 L112.25,478.80 L112.50,478.92 L112.75,479.04 L113.00,479.16 L113.25,479.28 L113.50,479.40 L113.75,479.51 L114.00,479.63 L114.25,479.74 L114.50,479.85 L114.75,479.96 L115.00,480.06 L115.25,480.16 L115.50,480.26 L115.75,480.35 L116.00,480.44 L116.25,480.52 L116.50,480.60 L116.75,480.68 L117.00,480.75 L117.25,480.82 L117.50,480.88 L117.75,480.94 L118.00,481.01 L118.25,481.06 L118.50,481.12 L118.75,481.18 L119.00,481.23 L119.25,481.28 L119.50,481.33 L119.75,481.38 L120.00,481.43 L120.25,481.47 L120.50,481.51 L120.75,481.54 L121.00,481.56 L121.00,481.60 Z" fill="#d5e48c" stroke="#bccc74" stroke-width="0.45" style="mix-blend-mode:multiply"/>
<line x1="45.1" y1="345" x2="45.1" y2="481.6" stroke="#222" stroke-width="1.3"/>
<line x1="44.5" y1="481.6" x2="147.5" y2="481.6" stroke="#1a1a1a" stroke-width="1.1"/>
<line x1="45.60" y1="481.6" x2="45.60" y2="483.8" stroke="#222" stroke-width="0.55"/>
<line x1="52.98" y1="481.6" x2="52.98" y2="482.90000000000003" stroke="#222" stroke-width="0.55"/>
<line x1="57.29" y1="481.6" x2="57.29" y2="482.90000000000003" stroke="#222" stroke-width="0.55"/>
<line x1="60.35" y1="481.6" x2="60.35" y2="482.90000000000003" stroke="#222" stroke-width="0.55"/>
<line x1="62.72" y1="481.6" x2="62.72" y2="482.90000000000003" stroke="#222" stroke-width="0.55"/>
<line x1="64.66" y1="481.6" x2="64.66" y2="482.90000000000003" stroke="#222" stroke-width="0.55"/>
<line x1="66.30" y1="481.6" x2="66.30" y2="482.90000000000003" stroke="#222" stroke-width="0.55"/>
<line x1="67.73" y1="481.6" x2="67.73" y2="482.90000000000003" stroke="#222" stroke-width="0.55"/>
<line x1="68.98" y1="481.6" x2="68.98" y2="482.90000000000003" stroke="#222" stroke-width="0.55"/>
<line x1="70.10" y1="481.6" x2="70.10" y2="483.8" stroke="#222" stroke-width="0.55"/>
<line x1="77.48" y1="481.6" x2="77.48" y2="482.90000000000003" stroke="#222" stroke-width="0.55"/>
<line x1="81.79" y1="481.6" x2="81.79" y2="482.90000000000003" stroke="#222" stroke-width="0.55"/>
<line x1="84.85" y1="481.6" x2="84.85" y2="482.90000000000003" stroke="#222" stroke-width="0.55"/>
<line x1="87.22" y1="481.6" x2="87.22" y2="482.90000000000003" stroke="#222" stroke-width="0.55"/>
<line x1="89.16" y1="481.6" x2="89.16" y2="482.90000000000003" stroke="#222" stroke-width="0.55"/>
<line x1="90.80" y1="481.6" x2="90.80" y2="482.90000000000003" stroke="#222" stroke-width="0.55"/>
<line x1="92.23" y1="481.6" x2="92.23" y2="482.90000000000003" stroke="#222" stroke-width="0.55"/>
<line x1="93.48" y1="481.6" x2="93.48" y2="482.90000000000003" stroke="#222" stroke-width="0.55"/>
<line x1="94.60" y1="481.6" x2="94.60" y2="483.8" stroke="#222" stroke-width="0.55"/>
<line x1="101.98" y1="481.6" x2="101.98" y2="482.90000000000003" stroke="#222" stroke-width="0.55"/>
<line x1="106.29" y1="481.6" x2="106.29" y2="482.90000000000003" stroke="#222" stroke-width="0.55"/>
<line x1="109.35" y1="481.6" x2="109.35" y2="482.90000000000003" stroke="#222" stroke-width="0.55"/>
<line x1="111.72" y1="481.6" x2="111.72" y2="482.90000000000003" stroke="#222" stroke-width="0.55"/>
<line x1="113.66" y1="481.6" x2="113.66" y2="482.90000000000003" stroke="#222" stroke-width="0.55"/>
<line x1="115.30" y1="481.6" x2="115.30" y2="482.90000000000003" stroke="#222" stroke-width="0.55"/>
<line x1="116.73" y1="481.6" x2="116.73" y2="482.90000000000003" stroke="#222" stroke-width="0.55"/>
<line x1="117.98" y1="481.6" x2="117.98" y2="482.90000000000003" stroke="#222" stroke-width="0.55"/>
<line x1="119.10" y1="481.6" x2="119.10" y2="483.8" stroke="#222" stroke-width="0.55"/>
<line x1="126.48" y1="481.6" x2="126.48" y2="482.90000000000003" stroke="#222" stroke-width="0.55"/>
<line x1="130.79" y1="481.6" x2="130.79" y2="482.90000000000003" stroke="#222" stroke-width="0.55"/>
<line x1="133.85" y1="481.6" x2="133.85" y2="482.90000000000003" stroke="#222" stroke-width="0.55"/>
<line x1="136.22" y1="481.6" x2="136.22" y2="482.90000000000003" stroke="#222" stroke-width="0.55"/>
<line x1="138.16" y1="481.6" x2="138.16" y2="482.90000000000003" stroke="#222" stroke-width="0.55"/>
<line x1="139.80" y1="481.6" x2="139.80" y2="482.90000000000003" stroke="#222" stroke-width="0.55"/>
<line x1="141.23" y1="481.6" x2="141.23" y2="482.90000000000003" stroke="#222" stroke-width="0.55"/>
<line x1="142.48" y1="481.6" x2="142.48" y2="482.90000000000003" stroke="#222" stroke-width="0.55"/>
<text x="46.30" y="494.3" font-size="7" text-anchor="middle" fill="#2a2a2a" stroke="#2a2a2a" stroke-width="0.25">10<tspan dy="-3.2" font-size="4.6">&#8722;1</tspan></text>
<text x="70.80" y="494.3" font-size="7" text-anchor="middle" fill="#2a2a2a" stroke="#2a2a2a" stroke-width="0.25">10<tspan dy="-3.2" font-size="4.6">0</tspan></text>
<text x="95.30" y="494.3" font-size="7" text-anchor="middle" fill="#2a2a2a" stroke="#2a2a2a" stroke-width="0.25">10<tspan dy="-3.2" font-size="4.6">1</tspan></text>
<text x="119.80" y="494.3" font-size="7" text-anchor="middle" fill="#2a2a2a" stroke="#2a2a2a" stroke-width="0.25">10<tspan dy="-3.2" font-size="4.6">2</tspan></text>
<text x="144.30" y="494.3" font-size="7" text-anchor="middle" fill="#2a2a2a" stroke="#2a2a2a" stroke-width="0.25">10<tspan dy="-3.2" font-size="4.6">3</tspan></text>
<line x1="75.5" y1="345.2" x2="75.5" y2="481.6" stroke="#cc3656" stroke-width="0.9" stroke-dasharray="1.8,1.4"/>
<text x="78.5" y="355.8" font-size="7" fill="#d2445a" stroke="#d2445a" stroke-width="0.25">GLUT1</text>
<text x="104.2" y="355.8" font-size="7.2" fill="#d2445a" stroke="#d2445a" stroke-width="0.25">positive</text>
<text x="72.3" y="400.3" font-size="7" text-anchor="end" fill="#d2445a" stroke="#d2445a" stroke-width="0.25">GLUT1</text>
<text x="73" y="408.6" font-size="6.9" text-anchor="end" fill="#d2445a" stroke="#d2445a" stroke-width="0.25">negative</text>
<text x="41.8" y="354.7" font-size="7.3" text-anchor="end" fill="#2a2a2a" stroke="#2a2a2a" stroke-width="0.25">Control</text>
<text x="41.8" y="363.9" font-size="7.3" text-anchor="end" fill="#2a2a2a" stroke="#2a2a2a" stroke-width="0.25">Isotype</text>
<text x="41.5" y="390.5" font-size="7.3" text-anchor="end" fill="#2a2a2a" stroke="#2a2a2a" stroke-width="0.25">NT</text>
<text x="41.5" y="399.7" font-size="7.3" text-anchor="end" fill="#2a2a2a" stroke="#2a2a2a" stroke-width="0.25">Control</text>
<text x="41.5" y="408.9" font-size="7.3" text-anchor="end" fill="#2a2a2a" stroke="#2a2a2a" stroke-width="0.25">(<tspan font-style="italic">n</tspan> = 3)</text>
<text x="41.5" y="442.2" font-size="7.3" text-anchor="end" fill="#2a2a2a" stroke="#2a2a2a" stroke-width="0.25">GLUT1</text>
<text x="41.5" y="451.5" font-size="7.3" text-anchor="end" fill="#2a2a2a" stroke="#2a2a2a" stroke-width="0.25">KO (<tspan font-style="italic">n</tspan> = 3)</text>
<text x="156.6" y="332.2" font-size="10" font-weight="bold" fill="#000">D</text>
<line x1="188.8" y1="360.2" x2="188.8" y2="467.7" stroke="#1a1a1a" stroke-width="1"/>
<line x1="186.0" y1="467.20" x2="188.8" y2="467.20" stroke="#1a1a1a" stroke-width="0.9"/>
<text x="183.10" y="469.75" font-size="7.2" text-anchor="end" fill="#2a2a2a" stroke="#2a2a2a" stroke-width="0.25">0</text>
<line x1="186.0" y1="446.40" x2="188.8" y2="446.40" stroke="#1a1a1a" stroke-width="0.9"/>
<text x="183.10" y="448.95" font-size="7.2" text-anchor="end" fill="#2a2a2a" stroke="#2a2a2a" stroke-width="0.25">20</text>
<line x1="186.0" y1="425.60" x2="188.8" y2="425.60" stroke="#1a1a1a" stroke-width="0.9"/>
<text x="183.10" y="428.15" font-size="7.2" text-anchor="end" fill="#2a2a2a" stroke="#2a2a2a" stroke-width="0.25">40</text>
<line x1="186.0" y1="404.80" x2="188.8" y2="404.80" stroke="#1a1a1a" stroke-width="0.9"/>
<text x="183.10" y="407.35" font-size="7.2" text-anchor="end" fill="#2a2a2a" stroke="#2a2a2a" stroke-width="0.25">60</text>
<line x1="186.0" y1="384.00" x2="188.8" y2="384.00" stroke="#1a1a1a" stroke-width="0.9"/>
<text x="183.10" y="386.55" font-size="7.2" text-anchor="end" fill="#2a2a2a" stroke="#2a2a2a" stroke-width="0.25">80</text>
<line x1="186.0" y1="363.20" x2="188.8" y2="363.20" stroke="#1a1a1a" stroke-width="0.9"/>
<text x="183.10" y="365.75" font-size="7.2" text-anchor="end" fill="#2a2a2a" stroke="#2a2a2a" stroke-width="0.25">100</text>
<line x1="188.3" y1="467.2" x2="243.6" y2="467.2" stroke="#1a1a1a" stroke-width="1"/>
<line x1="188.80" y1="467.2" x2="188.80" y2="469.9" stroke="#1a1a1a" stroke-width="0.9"/>
<text x="188.80" y="479.6" font-size="7.2" text-anchor="middle" fill="#2a2a2a" stroke="#2a2a2a" stroke-width="0.25">0</text>
<line x1="203.77" y1="467.2" x2="203.77" y2="469.9" stroke="#1a1a1a" stroke-width="0.9"/>
<text x="203.77" y="479.6" font-size="7.2" text-anchor="middle" fill="#2a2a2a" stroke="#2a2a2a" stroke-width="0.25">6</text>
<line x1="223.73" y1="467.2" x2="223.73" y2="469.9" stroke="#1a1a1a" stroke-width="0.9"/>
<text x="223.73" y="479.6" font-size="7.2" text-anchor="middle" fill="#2a2a2a" stroke="#2a2a2a" stroke-width="0.25">14</text>
<line x1="241.20" y1="467.2" x2="241.20" y2="469.9" stroke="#1a1a1a" stroke-width="0.9"/>
<text x="241.20" y="479.6" font-size="7.2" text-anchor="middle" fill="#2a2a2a" stroke="#2a2a2a" stroke-width="0.25">21</text>
<text x="190.3" y="492.4" font-size="8.8" fill="#2a2a2a" font-weight="bold" textLength="52.6" lengthAdjust="spacingAndGlyphs">Differentiation days</text>
<text transform="translate(164.5,413.8) rotate(-90)" x="0" y="0" font-size="9" text-anchor="middle" fill="#2a2a2a" font-weight="bold" textLength="65.2" lengthAdjust="spacingAndGlyphs">% Glut1 negative on KO</text>
<polyline points="203.6,410.2 223.7,395.8 240.3,401.7" fill="none" stroke="#eea23e" stroke-width="1.3"/>
<circle cx="201.2" cy="414.2" r="1.1" fill="#111"/>
<circle cx="203.6" cy="401.7" r="1.1" fill="#111"/>
<circle cx="205.9" cy="413.3" r="1.1" fill="#111"/>
<circle cx="221.4" cy="394.8" r="1.1" fill="#111"/>
<circle cx="221.4" cy="398.4" r="1.1" fill="#111"/>
<circle cx="225.6" cy="396.5" r="1.1" fill="#111"/>
<circle cx="236.8" cy="403.1" r="1.1" fill="#111"/>
<circle cx="241" cy="401.9" r="1.1" fill="#111"/>
<text x="253" y="332.5" font-size="10" font-weight="bold" fill="#000">E</text>
<text x="344.2" y="332.8" font-size="10" font-weight="bold" fill="#000">F</text>
<text x="432.8" y="332.8" font-size="10" font-weight="bold" fill="#000">G</text>
<line x1="284.5" y1="360.2" x2="284.5" y2="467.7" stroke="#1a1a1a" stroke-width="1"/>
<line x1="281.7" y1="467.20" x2="284.5" y2="467.20" stroke="#1a1a1a" stroke-width="0.9"/>
<text x="278.80" y="469.75" font-size="7.2" text-anchor="end" fill="#2a2a2a" stroke="#2a2a2a" stroke-width="0.25">0</text>
<line x1="281.7" y1="446.40" x2="284.5" y2="446.40" stroke="#1a1a1a" stroke-width="0.9"/>
<text x="278.80" y="448.95" font-size="7.2" text-anchor="end" fill="#2a2a2a" stroke="#2a2a2a" stroke-width="0.25">20</text>
<line x1="281.7" y1="425.60" x2="284.5" y2="425.60" stroke="#1a1a1a" stroke-width="0.9"/>
<text x="278.80" y="428.15" font-size="7.2" text-anchor="end" fill="#2a2a2a" stroke="#2a2a2a" stroke-width="0.25">40</text>
<line x1="281.7" y1="404.80" x2="284.5" y2="404.80" stroke="#1a1a1a" stroke-width="0.9"/>
<text x="278.80" y="407.35" font-size="7.2" text-anchor="end" fill="#2a2a2a" stroke="#2a2a2a" stroke-width="0.25">60</text>
<line x1="281.7" y1="384.00" x2="284.5" y2="384.00" stroke="#1a1a1a" stroke-width="0.9"/>
<text x="278.80" y="386.55" font-size="7.2" text-anchor="end" fill="#2a2a2a" stroke="#2a2a2a" stroke-width="0.25">80</text>
<line x1="281.7" y1="363.20" x2="284.5" y2="363.20" stroke="#1a1a1a" stroke-width="0.9"/>
<text x="278.80" y="365.75" font-size="7.2" text-anchor="end" fill="#2a2a2a" stroke="#2a2a2a" stroke-width="0.25">100</text>
<line x1="284" y1="467.2" x2="334" y2="467.2" stroke="#1a1a1a" stroke-width="1"/>
<rect x="290" y="386.6" width="12.60" height="80.60" fill="#37a53a"/>
<rect x="304.6" y="394" width="12.60" height="73.20" fill="#37a9e0"/>
<rect x="319.2" y="393.3" width="12.60" height="73.90" fill="#f7941d"/>
<line x1="296.2" y1="467.2" x2="296.2" y2="469.9" stroke="#1a1a1a" stroke-width="0.9"/>
<line x1="310.9" y1="467.2" x2="310.9" y2="469.9" stroke="#1a1a1a" stroke-width="0.9"/>
<line x1="325.6" y1="467.2" x2="325.6" y2="469.9" stroke="#1a1a1a" stroke-width="0.9"/>
<line x1="296.4" y1="381.7" x2="296.4" y2="390" stroke="#111" stroke-width="0.7"/>
<line x1="311" y1="390.9" x2="311" y2="395.2" stroke="#111" stroke-width="0.7"/>
<line x1="325.4" y1="388" x2="325.4" y2="398" stroke="#111" stroke-width="0.7"/>
<circle cx="296.4" cy="382.2" r="1.1" fill="#111"/>
<circle cx="296.4" cy="386.8" r="1.1" fill="#111"/>
<circle cx="296.4" cy="389.9" r="1.1" fill="#111"/>
<circle cx="311" cy="391.4" r="1.1" fill="#111"/>
<circle cx="308.6" cy="395" r="1.1" fill="#111"/>
<circle cx="313.4" cy="395" r="1.1" fill="#111"/>
<circle cx="325.4" cy="388.5" r="1.1" fill="#111"/>
<circle cx="325.4" cy="392.5" r="1.1" fill="#111"/>
<circle cx="325.4" cy="398" r="1.1" fill="#111"/>
<line x1="296.4" y1="372.3" x2="325.3" y2="372.3" stroke="#858585" stroke-width="1"/>
<text x="310.9" y="370.2" font-size="7.2" text-anchor="middle" fill="#2a2a2a" stroke="#2a2a2a" stroke-width="0.25">ns</text>
<text x="296.4" y="479.6" font-size="7.2" text-anchor="middle" fill="#2a2a2a" stroke="#2a2a2a" stroke-width="0.25">NT</text>
<text x="310.9" y="479.4" font-size="7.2" text-anchor="middle" fill="#2a2a2a" stroke="#2a2a2a" stroke-width="0.25">pos</text>
<text x="325.3" y="479.4" font-size="7.2" text-anchor="middle" fill="#2a2a2a" stroke="#2a2a2a" stroke-width="0.25">neg</text>
<line x1="303.5" y1="482.4" x2="333.1" y2="482.4" stroke="#8a8a8a" stroke-width="0.9"/>
<text x="318.3" y="490.4" font-size="7.4" text-anchor="middle" fill="#2a2a2a" stroke="#2a2a2a" stroke-width="0.25">GLUT1 KO</text>
<text x="317.8" y="496.7" font-size="7.2" text-anchor="middle" fill="#2a2a2a" stroke="#2a2a2a" stroke-width="0.25">population</text>
<text transform="translate(259.9,413.3) rotate(-90)" x="0" y="0" font-size="9" text-anchor="middle" fill="#2a2a2a" font-weight="bold" textLength="63" lengthAdjust="spacingAndGlyphs">Enucleation percentage</text>
<line x1="386.6" y1="360.2" x2="386.6" y2="467.7" stroke="#1a1a1a" stroke-width="1"/>
<line x1="383.8" y1="467.20" x2="386.6" y2="467.20" stroke="#1a1a1a" stroke-width="0.9"/>
<text x="380.90" y="469.75" font-size="7.2" text-anchor="end" fill="#2a2a2a" stroke="#2a2a2a" stroke-width="0.25">0</text>
<line x1="383.8" y1="446.40" x2="386.6" y2="446.40" stroke="#1a1a1a" stroke-width="0.9"/>
<text x="380.90" y="448.95" font-size="7.2" text-anchor="end" fill="#2a2a2a" stroke="#2a2a2a" stroke-width="0.25">20</text>
<line x1="383.8" y1="425.60" x2="386.6" y2="425.60" stroke="#1a1a1a" stroke-width="0.9"/>
<text x="380.90" y="428.15" font-size="7.2" text-anchor="end" fill="#2a2a2a" stroke="#2a2a2a" stroke-width="0.25">40</text>
<line x1="383.8" y1="404.80" x2="386.6" y2="404.80" stroke="#1a1a1a" stroke-width="0.9"/>
<text x="380.90" y="407.35" font-size="7.2" text-anchor="end" fill="#2a2a2a" stroke="#2a2a2a" stroke-width="0.25">60</text>
<line x1="383.8" y1="384.00" x2="386.6" y2="384.00" stroke="#1a1a1a" stroke-width="0.9"/>
<text x="380.90" y="386.55" font-size="7.2" text-anchor="end" fill="#2a2a2a" stroke="#2a2a2a" stroke-width="0.25">80</text>
<line x1="383.8" y1="363.20" x2="386.6" y2="363.20" stroke="#1a1a1a" stroke-width="0.9"/>
<text x="380.90" y="365.75" font-size="7.2" text-anchor="end" fill="#2a2a2a" stroke="#2a2a2a" stroke-width="0.25">100</text>
<line x1="386.1" y1="467.2" x2="425.6" y2="467.2" stroke="#1a1a1a" stroke-width="1"/>
<rect x="392.3" y="398" width="12.30" height="69.20" fill="#37a53a"/>
<rect x="407.5" y="402.3" width="12.50" height="64.90" fill="#37a9e0"/>
<line x1="398.3" y1="467.2" x2="398.3" y2="469.9" stroke="#1a1a1a" stroke-width="0.9"/>
<line x1="413.6" y1="467.2" x2="413.6" y2="469.9" stroke="#1a1a1a" stroke-width="0.9"/>
<line x1="398.4" y1="395" x2="398.4" y2="400" stroke="#111" stroke-width="0.7"/>
<circle cx="396.8" cy="395.6" r="1.1" fill="#111"/>
<circle cx="401" cy="397.8" r="1.1" fill="#111"/>
<circle cx="398.4" cy="399.5" r="1.1" fill="#111"/>
<circle cx="410.2" cy="402.2" r="1.1" fill="#111"/>
<circle cx="414" cy="402.2" r="1.1" fill="#111"/>
<circle cx="417.8" cy="402.2" r="1.1" fill="#111"/>
<line x1="398.7" y1="386.3" x2="413.8" y2="386.3" stroke="#858585" stroke-width="1"/>
<text x="406.2" y="384" font-size="7.2" text-anchor="middle" fill="#2a2a2a" stroke="#2a2a2a" stroke-width="0.25">ns</text>
<text x="398.4" y="479.7" font-size="7.3" text-anchor="middle" fill="#2a2a2a" stroke="#2a2a2a" stroke-width="0.25">Pre</text>
<text x="413.6" y="479.7" font-size="7.2" text-anchor="middle" fill="#2a2a2a" stroke="#2a2a2a" stroke-width="0.25">Post</text>
<line x1="389.8" y1="482.6" x2="421.6" y2="482.6" stroke="#8a8a8a" stroke-width="0.9"/>
<text x="406.1" y="490.1" font-size="7.2" text-anchor="middle" fill="#2a2a2a" stroke="#2a2a2a" stroke-width="0.25">Filtration</text>
<text transform="translate(351.9,413.5) rotate(-90)" x="0" y="0" font-size="9" text-anchor="middle" fill="#2a2a2a" font-weight="bold" textLength="70.2" lengthAdjust="spacingAndGlyphs">GLUT1 expression (%) on</text>
<text transform="translate(361.8,413.75) rotate(-90)" x="0" y="0" font-size="9" text-anchor="middle" fill="#2a2a2a" font-weight="bold" textLength="64.3" lengthAdjust="spacingAndGlyphs">GLUT1-KO reticulocytes</text>
<line x1="460.6" y1="360.2" x2="460.6" y2="467.7" stroke="#1a1a1a" stroke-width="1"/>
<line x1="457.8" y1="467.20" x2="460.6" y2="467.20" stroke="#1a1a1a" stroke-width="0.9"/>
<text x="454.90" y="469.75" font-size="7.2" text-anchor="end" fill="#2a2a2a" stroke="#2a2a2a" stroke-width="0.25">0</text>
<line x1="457.8" y1="432.57" x2="460.6" y2="432.57" stroke="#1a1a1a" stroke-width="0.9"/>
<text x="454.90" y="435.12" font-size="7.2" text-anchor="end" fill="#2a2a2a" stroke="#2a2a2a" stroke-width="0.25">10</text>
<line x1="457.8" y1="397.94" x2="460.6" y2="397.94" stroke="#1a1a1a" stroke-width="0.9"/>
<text x="454.90" y="400.49" font-size="7.2" text-anchor="end" fill="#2a2a2a" stroke="#2a2a2a" stroke-width="0.25">20</text>
<line x1="457.8" y1="363.31" x2="460.6" y2="363.31" stroke="#1a1a1a" stroke-width="0.9"/>
<text x="454.90" y="365.86" font-size="7.2" text-anchor="end" fill="#2a2a2a" stroke="#2a2a2a" stroke-width="0.25">30</text>
<line x1="460.1" y1="467.2" x2="513.3" y2="467.2" stroke="#1a1a1a" stroke-width="1"/>
<rect x="466.8" y="386.2" width="11.90" height="81.00" fill="#37a53a"/>
<rect x="481.2" y="394.2" width="12.00" height="73.00" fill="#37a9e0"/>
<line x1="472.6" y1="467.2" x2="472.6" y2="469.9" stroke="#1a1a1a" stroke-width="0.9"/>
<line x1="487.2" y1="467.2" x2="487.2" y2="469.9" stroke="#1a1a1a" stroke-width="0.9"/>
<line x1="501.7" y1="467.2" x2="501.7" y2="469.9" stroke="#1a1a1a" stroke-width="0.9"/>
<line x1="472.8" y1="378.3" x2="472.8" y2="411" stroke="#111" stroke-width="0.6"/>
<line x1="487.2" y1="395.4" x2="487.2" y2="412.3" stroke="#111" stroke-width="0.6"/>
<circle cx="472.8" cy="378.5" r="1.1" fill="#111"/>
<circle cx="472.8" cy="396.2" r="1.1" fill="#111"/>
<circle cx="472.8" cy="411.1" r="1.1" fill="#111"/>
<circle cx="487.2" cy="395.4" r="1.1" fill="#111"/>
<circle cx="487.2" cy="401.9" r="1.1" fill="#111"/>
<circle cx="487.2" cy="412.3" r="1.1" fill="#111"/>
<circle cx="497.1" cy="467.2" r="1.1" fill="#111"/>
<circle cx="502.1" cy="467.2" r="1.1" fill="#111"/>
<circle cx="506.6" cy="467.2" r="1.1" fill="#111"/>
<line x1="472.9" y1="353.3" x2="501.4" y2="353.3" stroke="#858585" stroke-width="1"/>
<line x1="472.9" y1="368.4" x2="486.2" y2="368.4" stroke="#858585" stroke-width="1"/>
<line x1="488.6" y1="368.4" x2="501.4" y2="368.4" stroke="#858585" stroke-width="1"/>
<text x="479.5" y="366.2" font-size="7.2" text-anchor="middle" fill="#2a2a2a" stroke="#2a2a2a" stroke-width="0.25">ns</text>
<text x="472.8" y="479.5" font-size="7.2" text-anchor="middle" fill="#2a2a2a" stroke="#2a2a2a" stroke-width="0.25">NT</text>
<text x="487.1" y="479.5" font-size="7.2" text-anchor="middle" fill="#2a2a2a" stroke="#2a2a2a" stroke-width="0.25">pos</text>
<text x="501.7" y="479.5" font-size="7.2" text-anchor="middle" fill="#2a2a2a" stroke="#2a2a2a" stroke-width="0.25">neg</text>
<line x1="478.9" y1="482.4" x2="509.6" y2="482.4" stroke="#8a8a8a" stroke-width="0.9"/>
<text x="494.3" y="490.5" font-size="7.4" text-anchor="middle" fill="#2a2a2a" stroke="#2a2a2a" stroke-width="0.25">GLUT1 KO</text>
<text x="494.3" y="496.7" font-size="7.2" text-anchor="middle" fill="#2a2a2a" stroke="#2a2a2a" stroke-width="0.25">population</text>
<text transform="translate(440.8,413.55) rotate(-90)" x="0" y="0" font-size="9" text-anchor="middle" fill="#2a2a2a" font-weight="bold" textLength="85" lengthAdjust="spacingAndGlyphs">Reticulocyte GLUT1 expression</text>
<rect x="0.5" y="0.5" width="519" height="505" fill="none" stroke="#5a5a5a" stroke-width="1"/>
</svg></body></html>
